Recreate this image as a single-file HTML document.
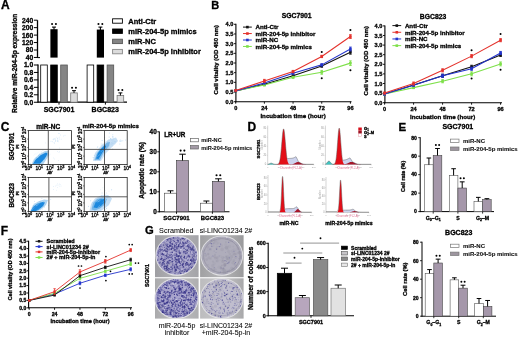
<!DOCTYPE html>
<html><head><meta charset="utf-8"><style>
html,body{margin:0;padding:0;background:#fff;}
svg{display:block;font-family:"Liberation Sans", sans-serif;filter:blur(0.4px);}
text{stroke:#000;stroke-width:0.3px;}
</style></head><body>
<svg width="520" height="338" viewBox="0 0 520 338">
<rect width="520" height="338" fill="#fff"/>
<text x="0.90" y="9.22" font-size="12" font-weight="bold" text-anchor="start" fill="#000" >A</text>
<text transform="translate(16.88,63.30) rotate(-90)" font-size="6.6" font-weight="bold" text-anchor="middle" fill="#000" >Relative miR-204-5p expression</text>
<line x1="37.50" y1="20.20" x2="37.50" y2="57.90" stroke="#000" stroke-width="1.3" />
<line x1="33.90" y1="20.20" x2="37.50" y2="20.20" stroke="#000" stroke-width="1" />
<text x="33.20" y="22.61" font-size="6.7" font-weight="bold" text-anchor="end" fill="#000" >240</text>
<line x1="33.90" y1="27.65" x2="37.50" y2="27.65" stroke="#000" stroke-width="1" />
<text x="33.20" y="30.06" font-size="6.7" font-weight="bold" text-anchor="end" fill="#000" >200</text>
<line x1="33.90" y1="35.10" x2="37.50" y2="35.10" stroke="#000" stroke-width="1" />
<text x="33.20" y="37.51" font-size="6.7" font-weight="bold" text-anchor="end" fill="#000" >160</text>
<line x1="33.90" y1="42.55" x2="37.50" y2="42.55" stroke="#000" stroke-width="1" />
<text x="33.20" y="44.96" font-size="6.7" font-weight="bold" text-anchor="end" fill="#000" >120</text>
<line x1="33.90" y1="50.00" x2="37.50" y2="50.00" stroke="#000" stroke-width="1" />
<text x="33.20" y="52.41" font-size="6.7" font-weight="bold" text-anchor="end" fill="#000" >80</text>
<line x1="33.90" y1="57.45" x2="37.50" y2="57.45" stroke="#000" stroke-width="1" />
<text x="33.20" y="59.86" font-size="6.7" font-weight="bold" text-anchor="end" fill="#000" >40</text>
<line x1="37.50" y1="57.60" x2="40.00" y2="57.60" stroke="#000" stroke-width="1" />
<line x1="38.00" y1="64.60" x2="38.00" y2="102.60" stroke="#000" stroke-width="1.3" />
<line x1="33.90" y1="65.00" x2="38.20" y2="65.00" stroke="#000" stroke-width="1" />
<text x="33.20" y="67.41" font-size="6.7" font-weight="bold" text-anchor="end" fill="#000" >1.0</text>
<line x1="33.90" y1="72.45" x2="38.20" y2="72.45" stroke="#000" stroke-width="1" />
<text x="33.20" y="74.86" font-size="6.7" font-weight="bold" text-anchor="end" fill="#000" >0.8</text>
<line x1="33.90" y1="79.90" x2="38.20" y2="79.90" stroke="#000" stroke-width="1" />
<text x="33.20" y="82.31" font-size="6.7" font-weight="bold" text-anchor="end" fill="#000" >0.6</text>
<line x1="33.90" y1="87.35" x2="38.20" y2="87.35" stroke="#000" stroke-width="1" />
<text x="33.20" y="89.76" font-size="6.7" font-weight="bold" text-anchor="end" fill="#000" >0.4</text>
<line x1="33.90" y1="94.80" x2="38.20" y2="94.80" stroke="#000" stroke-width="1" />
<text x="33.20" y="97.21" font-size="6.7" font-weight="bold" text-anchor="end" fill="#000" >0.2</text>
<line x1="33.90" y1="102.25" x2="38.20" y2="102.25" stroke="#000" stroke-width="1" />
<text x="33.20" y="104.66" font-size="6.7" font-weight="bold" text-anchor="end" fill="#000" >0.0</text>
<line x1="37.70" y1="102.20" x2="127.00" y2="102.20" stroke="#000" stroke-width="1.3" />
<line x1="59.00" y1="102.20" x2="59.00" y2="104.60" stroke="#000" stroke-width="1" />
<rect x="40.70" y="65.00" width="6.60" height="37.20" fill="#fff" stroke="#000" stroke-width="0.8" />
<rect x="50.70" y="65.00" width="6.60" height="37.20" fill="#000" stroke="#000" stroke-width="0.8" />
<rect x="50.40" y="29.20" width="7.20" height="28.40" fill="#000" />
<line x1="54.00" y1="29.70" x2="54.00" y2="27.10" stroke="#000" stroke-width="1.1" />
<line x1="52.05" y1="27.10" x2="55.95" y2="27.10" stroke="#000" stroke-width="1.1" />
<circle cx="52.08" cy="23.90" r="1.02" fill="#000"/>
<circle cx="55.92" cy="23.90" r="1.02" fill="#000"/>
<rect x="60.70" y="65.00" width="6.60" height="37.20" fill="#858585" stroke="#555" stroke-width="0.8" />
<rect x="70.70" y="92.90" width="6.60" height="9.30" fill="#dcdcdc" stroke="#777" stroke-width="0.8" />
<line x1="74.00" y1="92.90" x2="74.00" y2="90.67" stroke="#000" stroke-width="1.0" />
<line x1="72.05" y1="90.67" x2="75.95" y2="90.67" stroke="#000" stroke-width="1.0" />
<circle cx="72.08" cy="87.67" r="1.02" fill="#000"/>
<circle cx="75.92" cy="87.67" r="1.02" fill="#000"/>
<line x1="105.40" y1="102.20" x2="105.40" y2="104.60" stroke="#000" stroke-width="1" />
<rect x="87.10" y="65.00" width="6.60" height="37.20" fill="#fff" stroke="#000" stroke-width="0.8" />
<rect x="97.10" y="65.00" width="6.60" height="37.20" fill="#000" stroke="#000" stroke-width="0.8" />
<rect x="96.80" y="29.57" width="7.20" height="28.03" fill="#000" />
<line x1="100.40" y1="30.07" x2="100.40" y2="27.10" stroke="#000" stroke-width="1.1" />
<line x1="98.45" y1="27.10" x2="102.35" y2="27.10" stroke="#000" stroke-width="1.1" />
<circle cx="98.48" cy="23.90" r="1.02" fill="#000"/>
<circle cx="102.33" cy="23.90" r="1.02" fill="#000"/>
<rect x="107.10" y="65.00" width="6.60" height="37.20" fill="#858585" stroke="#555" stroke-width="0.8" />
<rect x="117.10" y="95.50" width="6.60" height="6.70" fill="#dcdcdc" stroke="#777" stroke-width="0.8" />
<line x1="120.40" y1="95.50" x2="120.40" y2="92.90" stroke="#000" stroke-width="1.0" />
<line x1="118.45" y1="92.90" x2="122.35" y2="92.90" stroke="#000" stroke-width="1.0" />
<circle cx="118.48" cy="89.90" r="1.02" fill="#000"/>
<circle cx="122.33" cy="89.90" r="1.02" fill="#000"/>
<text x="59.00" y="111.52" font-size="7.0" font-weight="bold" text-anchor="middle" fill="#000" >SGC7901</text>
<text x="105.20" y="111.52" font-size="7.0" font-weight="bold" text-anchor="middle" fill="#000" >BGC823</text>
<rect x="112.60" y="18.80" width="9.80" height="4.40" fill="#fff" stroke="#000" stroke-width="0.9" />
<text x="128.30" y="23.70" font-size="7.5" font-weight="bold" text-anchor="start" fill="#000" >Anti-Ctr</text>
<rect x="112.60" y="29.00" width="9.80" height="4.40" fill="#000" stroke="#000" stroke-width="0.9" />
<text x="128.30" y="33.90" font-size="7.5" font-weight="bold" text-anchor="start" fill="#000" >miR-204-5p mimics</text>
<rect x="112.60" y="39.20" width="9.80" height="4.40" fill="#858585" stroke="#555" stroke-width="0.9" />
<text x="128.30" y="44.10" font-size="7.5" font-weight="bold" text-anchor="start" fill="#000" >miR-NC</text>
<rect x="112.60" y="49.40" width="9.80" height="4.40" fill="#dcdcdc" stroke="#888" stroke-width="0.9" />
<text x="128.30" y="54.30" font-size="7.5" font-weight="bold" text-anchor="start" fill="#000" >miR-204-5p inhibitor</text>
<text x="211.20" y="9.16" font-size="11" font-weight="bold" text-anchor="start" fill="#000" >B</text>
<line x1="235.90" y1="23.80" x2="235.90" y2="102.20" stroke="#000" stroke-width="1.1" />
<line x1="233.90" y1="101.70" x2="235.90" y2="101.70" stroke="#000" stroke-width="0.9" />
<text x="233.30" y="103.72" font-size="5.6" font-weight="bold" text-anchor="end" fill="#000" >0.0</text>
<line x1="233.90" y1="92.03" x2="235.90" y2="92.03" stroke="#000" stroke-width="0.9" />
<text x="233.30" y="94.04" font-size="5.6" font-weight="bold" text-anchor="end" fill="#000" >0.5</text>
<line x1="233.90" y1="82.35" x2="235.90" y2="82.35" stroke="#000" stroke-width="0.9" />
<text x="233.30" y="84.37" font-size="5.6" font-weight="bold" text-anchor="end" fill="#000" >1.0</text>
<line x1="233.90" y1="72.67" x2="235.90" y2="72.67" stroke="#000" stroke-width="0.9" />
<text x="233.30" y="74.69" font-size="5.6" font-weight="bold" text-anchor="end" fill="#000" >1.5</text>
<line x1="233.90" y1="63.00" x2="235.90" y2="63.00" stroke="#000" stroke-width="0.9" />
<text x="233.30" y="65.02" font-size="5.6" font-weight="bold" text-anchor="end" fill="#000" >2.0</text>
<line x1="233.90" y1="53.33" x2="235.90" y2="53.33" stroke="#000" stroke-width="0.9" />
<text x="233.30" y="55.34" font-size="5.6" font-weight="bold" text-anchor="end" fill="#000" >2.5</text>
<line x1="233.90" y1="43.65" x2="235.90" y2="43.65" stroke="#000" stroke-width="0.9" />
<text x="233.30" y="45.67" font-size="5.6" font-weight="bold" text-anchor="end" fill="#000" >3.0</text>
<line x1="233.90" y1="33.97" x2="235.90" y2="33.97" stroke="#000" stroke-width="0.9" />
<text x="233.30" y="35.99" font-size="5.6" font-weight="bold" text-anchor="end" fill="#000" >3.5</text>
<line x1="233.90" y1="24.30" x2="235.90" y2="24.30" stroke="#000" stroke-width="0.9" />
<text x="233.30" y="26.32" font-size="5.6" font-weight="bold" text-anchor="end" fill="#000" >4.0</text>
<line x1="235.40" y1="101.70" x2="351.50" y2="101.70" stroke="#000" stroke-width="1.1" />
<line x1="235.70" y1="101.70" x2="235.70" y2="103.70" stroke="#000" stroke-width="0.9" />
<text x="235.70" y="109.92" font-size="5.6" font-weight="bold" text-anchor="middle" fill="#000" >0</text>
<line x1="264.38" y1="101.70" x2="264.38" y2="103.70" stroke="#000" stroke-width="0.9" />
<text x="264.38" y="109.92" font-size="5.6" font-weight="bold" text-anchor="middle" fill="#000" >24</text>
<line x1="293.06" y1="101.70" x2="293.06" y2="103.70" stroke="#000" stroke-width="0.9" />
<text x="293.06" y="109.92" font-size="5.6" font-weight="bold" text-anchor="middle" fill="#000" >48</text>
<line x1="321.74" y1="101.70" x2="321.74" y2="103.70" stroke="#000" stroke-width="0.9" />
<text x="321.74" y="109.92" font-size="5.6" font-weight="bold" text-anchor="middle" fill="#000" >72</text>
<line x1="350.42" y1="101.70" x2="350.42" y2="103.70" stroke="#000" stroke-width="0.9" />
<text x="350.42" y="109.92" font-size="5.6" font-weight="bold" text-anchor="middle" fill="#000" >96</text>
<text x="293.06" y="118.23" font-size="6.2" font-weight="bold" text-anchor="middle" fill="#000" >Incubation time (hour)</text>
<text transform="translate(217.78,59.80) rotate(-90)" font-size="6.05" font-weight="bold" text-anchor="middle" fill="#000" >Cell vitality (OD 450 nm)</text>
<text x="296.70" y="18.35" font-size="6.8" font-weight="bold" text-anchor="middle" fill="#000" >SGC7901</text>
<polyline points="235.70,90.87 264.38,84.17 293.06,75.76 321.74,66.01 350.42,52.24" fill="none" stroke="#111" stroke-width="1.1" />
<line x1="235.70" y1="90.29" x2="235.70" y2="91.44" stroke="#111" stroke-width="0.9" />
<line x1="234.40" y1="90.29" x2="237.00" y2="90.29" stroke="#111" stroke-width="0.9" />
<line x1="234.40" y1="91.44" x2="237.00" y2="91.44" stroke="#111" stroke-width="0.9" />
<rect x="234.40" y="89.57" width="2.60" height="2.60" fill="#111" />
<line x1="264.38" y1="83.22" x2="264.38" y2="85.13" stroke="#111" stroke-width="0.9" />
<line x1="263.08" y1="83.22" x2="265.68" y2="83.22" stroke="#111" stroke-width="0.9" />
<line x1="263.08" y1="85.13" x2="265.68" y2="85.13" stroke="#111" stroke-width="0.9" />
<rect x="263.08" y="82.87" width="2.60" height="2.60" fill="#111" />
<line x1="293.06" y1="74.81" x2="293.06" y2="76.72" stroke="#111" stroke-width="0.9" />
<line x1="291.76" y1="74.81" x2="294.36" y2="74.81" stroke="#111" stroke-width="0.9" />
<line x1="291.76" y1="76.72" x2="294.36" y2="76.72" stroke="#111" stroke-width="0.9" />
<rect x="291.76" y="74.46" width="2.60" height="2.60" fill="#111" />
<line x1="321.74" y1="64.86" x2="321.74" y2="67.16" stroke="#111" stroke-width="0.9" />
<line x1="320.44" y1="64.86" x2="323.04" y2="64.86" stroke="#111" stroke-width="0.9" />
<line x1="320.44" y1="67.16" x2="323.04" y2="67.16" stroke="#111" stroke-width="0.9" />
<rect x="320.44" y="64.71" width="2.60" height="2.60" fill="#111" />
<line x1="350.42" y1="50.33" x2="350.42" y2="54.16" stroke="#111" stroke-width="0.9" />
<line x1="349.12" y1="50.33" x2="351.72" y2="50.33" stroke="#111" stroke-width="0.9" />
<line x1="349.12" y1="54.16" x2="351.72" y2="54.16" stroke="#111" stroke-width="0.9" />
<rect x="349.12" y="50.94" width="2.60" height="2.60" fill="#111" />
<polyline points="235.70,90.87 264.38,84.94 293.06,77.29 321.74,72.32 350.42,63.14" fill="none" stroke="#7ee04a" stroke-width="1.1" />
<line x1="235.70" y1="90.29" x2="235.70" y2="91.44" stroke="#7ee04a" stroke-width="0.9" />
<line x1="234.40" y1="90.29" x2="237.00" y2="90.29" stroke="#7ee04a" stroke-width="0.9" />
<line x1="234.40" y1="91.44" x2="237.00" y2="91.44" stroke="#7ee04a" stroke-width="0.9" />
<rect x="234.40" y="89.57" width="2.60" height="2.60" fill="#7ee04a" />
<line x1="264.38" y1="83.98" x2="264.38" y2="85.90" stroke="#7ee04a" stroke-width="0.9" />
<line x1="263.08" y1="83.98" x2="265.68" y2="83.98" stroke="#7ee04a" stroke-width="0.9" />
<line x1="263.08" y1="85.90" x2="265.68" y2="85.90" stroke="#7ee04a" stroke-width="0.9" />
<rect x="263.08" y="83.64" width="2.60" height="2.60" fill="#7ee04a" />
<line x1="293.06" y1="76.34" x2="293.06" y2="78.25" stroke="#7ee04a" stroke-width="0.9" />
<line x1="291.76" y1="76.34" x2="294.36" y2="76.34" stroke="#7ee04a" stroke-width="0.9" />
<line x1="291.76" y1="78.25" x2="294.36" y2="78.25" stroke="#7ee04a" stroke-width="0.9" />
<rect x="291.76" y="75.99" width="2.60" height="2.60" fill="#7ee04a" />
<line x1="321.74" y1="70.41" x2="321.74" y2="74.23" stroke="#7ee04a" stroke-width="0.9" />
<line x1="320.44" y1="70.41" x2="323.04" y2="70.41" stroke="#7ee04a" stroke-width="0.9" />
<line x1="320.44" y1="74.23" x2="323.04" y2="74.23" stroke="#7ee04a" stroke-width="0.9" />
<rect x="320.44" y="71.02" width="2.60" height="2.60" fill="#7ee04a" />
<line x1="350.42" y1="60.85" x2="350.42" y2="65.44" stroke="#7ee04a" stroke-width="0.9" />
<line x1="349.12" y1="60.85" x2="351.72" y2="60.85" stroke="#7ee04a" stroke-width="0.9" />
<line x1="349.12" y1="65.44" x2="351.72" y2="65.44" stroke="#7ee04a" stroke-width="0.9" />
<rect x="349.12" y="61.84" width="2.60" height="2.60" fill="#7ee04a" />
<polyline points="235.70,90.87 264.38,83.03 293.06,73.28 321.74,64.86 350.42,48.99" fill="none" stroke="#2233cc" stroke-width="1.1" />
<line x1="235.70" y1="90.29" x2="235.70" y2="91.44" stroke="#2233cc" stroke-width="0.9" />
<line x1="234.40" y1="90.29" x2="237.00" y2="90.29" stroke="#2233cc" stroke-width="0.9" />
<line x1="234.40" y1="91.44" x2="237.00" y2="91.44" stroke="#2233cc" stroke-width="0.9" />
<rect x="234.40" y="89.57" width="2.60" height="2.60" fill="#2233cc" />
<line x1="264.38" y1="82.07" x2="264.38" y2="83.98" stroke="#2233cc" stroke-width="0.9" />
<line x1="263.08" y1="82.07" x2="265.68" y2="82.07" stroke="#2233cc" stroke-width="0.9" />
<line x1="263.08" y1="83.98" x2="265.68" y2="83.98" stroke="#2233cc" stroke-width="0.9" />
<rect x="263.08" y="81.73" width="2.60" height="2.60" fill="#2233cc" />
<line x1="293.06" y1="72.32" x2="293.06" y2="74.23" stroke="#2233cc" stroke-width="0.9" />
<line x1="291.76" y1="72.32" x2="294.36" y2="72.32" stroke="#2233cc" stroke-width="0.9" />
<line x1="291.76" y1="74.23" x2="294.36" y2="74.23" stroke="#2233cc" stroke-width="0.9" />
<rect x="291.76" y="71.98" width="2.60" height="2.60" fill="#2233cc" />
<line x1="321.74" y1="63.72" x2="321.74" y2="66.01" stroke="#2233cc" stroke-width="0.9" />
<line x1="320.44" y1="63.72" x2="323.04" y2="63.72" stroke="#2233cc" stroke-width="0.9" />
<line x1="320.44" y1="66.01" x2="323.04" y2="66.01" stroke="#2233cc" stroke-width="0.9" />
<rect x="320.44" y="63.56" width="2.60" height="2.60" fill="#2233cc" />
<line x1="350.42" y1="47.08" x2="350.42" y2="50.91" stroke="#2233cc" stroke-width="0.9" />
<line x1="349.12" y1="47.08" x2="351.72" y2="47.08" stroke="#2233cc" stroke-width="0.9" />
<line x1="349.12" y1="50.91" x2="351.72" y2="50.91" stroke="#2233cc" stroke-width="0.9" />
<rect x="349.12" y="47.69" width="2.60" height="2.60" fill="#2233cc" />
<polyline points="235.70,90.48 264.38,80.92 293.06,71.56 321.74,56.45 350.42,36.57" fill="none" stroke="#e4322c" stroke-width="1.1" />
<line x1="235.70" y1="89.91" x2="235.70" y2="91.06" stroke="#e4322c" stroke-width="0.9" />
<line x1="234.40" y1="89.91" x2="237.00" y2="89.91" stroke="#e4322c" stroke-width="0.9" />
<line x1="234.40" y1="91.06" x2="237.00" y2="91.06" stroke="#e4322c" stroke-width="0.9" />
<rect x="234.40" y="89.18" width="2.60" height="2.60" fill="#e4322c" />
<line x1="264.38" y1="79.39" x2="264.38" y2="82.45" stroke="#e4322c" stroke-width="0.9" />
<line x1="263.08" y1="79.39" x2="265.68" y2="79.39" stroke="#e4322c" stroke-width="0.9" />
<line x1="263.08" y1="82.45" x2="265.68" y2="82.45" stroke="#e4322c" stroke-width="0.9" />
<rect x="263.08" y="79.62" width="2.60" height="2.60" fill="#e4322c" />
<line x1="293.06" y1="70.41" x2="293.06" y2="72.70" stroke="#e4322c" stroke-width="0.9" />
<line x1="291.76" y1="70.41" x2="294.36" y2="70.41" stroke="#e4322c" stroke-width="0.9" />
<line x1="291.76" y1="72.70" x2="294.36" y2="72.70" stroke="#e4322c" stroke-width="0.9" />
<rect x="291.76" y="70.26" width="2.60" height="2.60" fill="#e4322c" />
<line x1="321.74" y1="55.30" x2="321.74" y2="57.60" stroke="#e4322c" stroke-width="0.9" />
<line x1="320.44" y1="55.30" x2="323.04" y2="55.30" stroke="#e4322c" stroke-width="0.9" />
<line x1="320.44" y1="57.60" x2="323.04" y2="57.60" stroke="#e4322c" stroke-width="0.9" />
<rect x="320.44" y="55.15" width="2.60" height="2.60" fill="#e4322c" />
<line x1="350.42" y1="34.65" x2="350.42" y2="38.48" stroke="#e4322c" stroke-width="0.9" />
<line x1="349.12" y1="34.65" x2="351.72" y2="34.65" stroke="#e4322c" stroke-width="0.9" />
<line x1="349.12" y1="38.48" x2="351.72" y2="38.48" stroke="#e4322c" stroke-width="0.9" />
<rect x="349.12" y="35.27" width="2.60" height="2.60" fill="#e4322c" />
<circle cx="321.74" cy="51.90" r="1.02" fill="#000"/>
<circle cx="321.74" cy="78.30" r="1.02" fill="#000"/>
<circle cx="350.42" cy="30.00" r="1.02" fill="#000"/>
<circle cx="350.42" cy="70.30" r="1.02" fill="#000"/>
<line x1="243.00" y1="27.10" x2="251.80" y2="27.10" stroke="#111" stroke-width="1" />
<rect x="246.10" y="25.80" width="2.60" height="2.60" fill="#111" />
<text x="255.50" y="29.33" font-size="6.2" font-weight="bold" text-anchor="start" fill="#000" >Anti-Ctr</text>
<line x1="243.00" y1="33.55" x2="251.80" y2="33.55" stroke="#e4322c" stroke-width="1" />
<rect x="246.10" y="32.25" width="2.60" height="2.60" fill="#e4322c" />
<text x="255.50" y="35.78" font-size="6.2" font-weight="bold" text-anchor="start" fill="#000" >miR-204-5p inhibitor</text>
<line x1="243.00" y1="40.00" x2="251.80" y2="40.00" stroke="#2233cc" stroke-width="1" />
<rect x="246.10" y="38.70" width="2.60" height="2.60" fill="#2233cc" />
<text x="255.50" y="42.23" font-size="6.2" font-weight="bold" text-anchor="start" fill="#000" >miR-NC</text>
<line x1="243.00" y1="46.45" x2="251.80" y2="46.45" stroke="#7ee04a" stroke-width="1" />
<rect x="246.10" y="45.15" width="2.60" height="2.60" fill="#7ee04a" />
<text x="255.50" y="48.68" font-size="6.2" font-weight="bold" text-anchor="start" fill="#000" >miR-204-5p mimics</text>
<line x1="384.90" y1="25.40" x2="384.90" y2="103.20" stroke="#000" stroke-width="1.1" />
<line x1="382.90" y1="102.70" x2="384.90" y2="102.70" stroke="#000" stroke-width="0.9" />
<text x="382.30" y="104.72" font-size="5.6" font-weight="bold" text-anchor="end" fill="#000" >0.0</text>
<line x1="382.90" y1="93.10" x2="384.90" y2="93.10" stroke="#000" stroke-width="0.9" />
<text x="382.30" y="95.12" font-size="5.6" font-weight="bold" text-anchor="end" fill="#000" >0.5</text>
<line x1="382.90" y1="83.50" x2="384.90" y2="83.50" stroke="#000" stroke-width="0.9" />
<text x="382.30" y="85.52" font-size="5.6" font-weight="bold" text-anchor="end" fill="#000" >1.0</text>
<line x1="382.90" y1="73.90" x2="384.90" y2="73.90" stroke="#000" stroke-width="0.9" />
<text x="382.30" y="75.92" font-size="5.6" font-weight="bold" text-anchor="end" fill="#000" >1.5</text>
<line x1="382.90" y1="64.30" x2="384.90" y2="64.30" stroke="#000" stroke-width="0.9" />
<text x="382.30" y="66.32" font-size="5.6" font-weight="bold" text-anchor="end" fill="#000" >2.0</text>
<line x1="382.90" y1="54.70" x2="384.90" y2="54.70" stroke="#000" stroke-width="0.9" />
<text x="382.30" y="56.72" font-size="5.6" font-weight="bold" text-anchor="end" fill="#000" >2.5</text>
<line x1="382.90" y1="45.10" x2="384.90" y2="45.10" stroke="#000" stroke-width="0.9" />
<text x="382.30" y="47.12" font-size="5.6" font-weight="bold" text-anchor="end" fill="#000" >3.0</text>
<line x1="382.90" y1="35.50" x2="384.90" y2="35.50" stroke="#000" stroke-width="0.9" />
<text x="382.30" y="37.52" font-size="5.6" font-weight="bold" text-anchor="end" fill="#000" >3.5</text>
<line x1="382.90" y1="25.90" x2="384.90" y2="25.90" stroke="#000" stroke-width="0.9" />
<text x="382.30" y="27.92" font-size="5.6" font-weight="bold" text-anchor="end" fill="#000" >4.0</text>
<line x1="384.40" y1="102.70" x2="502.00" y2="102.70" stroke="#000" stroke-width="1.1" />
<line x1="384.60" y1="102.70" x2="384.60" y2="104.70" stroke="#000" stroke-width="0.9" />
<text x="384.60" y="110.92" font-size="5.6" font-weight="bold" text-anchor="middle" fill="#000" >0</text>
<line x1="413.59" y1="102.70" x2="413.59" y2="104.70" stroke="#000" stroke-width="0.9" />
<text x="413.59" y="110.92" font-size="5.6" font-weight="bold" text-anchor="middle" fill="#000" >24</text>
<line x1="442.58" y1="102.70" x2="442.58" y2="104.70" stroke="#000" stroke-width="0.9" />
<text x="442.58" y="110.92" font-size="5.6" font-weight="bold" text-anchor="middle" fill="#000" >48</text>
<line x1="471.58" y1="102.70" x2="471.58" y2="104.70" stroke="#000" stroke-width="0.9" />
<text x="471.58" y="110.92" font-size="5.6" font-weight="bold" text-anchor="middle" fill="#000" >72</text>
<line x1="500.57" y1="102.70" x2="500.57" y2="104.70" stroke="#000" stroke-width="0.9" />
<text x="500.57" y="110.92" font-size="5.6" font-weight="bold" text-anchor="middle" fill="#000" >96</text>
<text x="442.58" y="118.83" font-size="6.2" font-weight="bold" text-anchor="middle" fill="#000" >Incubation time (hour)</text>
<text transform="translate(367.78,60.80) rotate(-90)" font-size="6.05" font-weight="bold" text-anchor="middle" fill="#000" >Cell vitality (OD 450 nm)</text>
<text x="433.10" y="18.95" font-size="6.8" font-weight="bold" text-anchor="middle" fill="#000" >BGC823</text>
<polyline points="384.60,94.05 413.59,84.91 442.58,75.76 471.58,66.82 500.57,54.95" fill="none" stroke="#111" stroke-width="1.1" />
<line x1="384.60" y1="93.08" x2="384.60" y2="95.02" stroke="#111" stroke-width="0.9" />
<line x1="383.30" y1="93.08" x2="385.90" y2="93.08" stroke="#111" stroke-width="0.9" />
<line x1="383.30" y1="95.02" x2="385.90" y2="95.02" stroke="#111" stroke-width="0.9" />
<rect x="383.30" y="92.75" width="2.60" height="2.60" fill="#111" />
<line x1="413.59" y1="83.93" x2="413.59" y2="85.88" stroke="#111" stroke-width="0.9" />
<line x1="412.29" y1="83.93" x2="414.89" y2="83.93" stroke="#111" stroke-width="0.9" />
<line x1="412.29" y1="85.88" x2="414.89" y2="85.88" stroke="#111" stroke-width="0.9" />
<rect x="412.29" y="83.61" width="2.60" height="2.60" fill="#111" />
<line x1="442.58" y1="74.21" x2="442.58" y2="77.32" stroke="#111" stroke-width="0.9" />
<line x1="441.28" y1="74.21" x2="443.88" y2="74.21" stroke="#111" stroke-width="0.9" />
<line x1="441.28" y1="77.32" x2="443.88" y2="77.32" stroke="#111" stroke-width="0.9" />
<rect x="441.28" y="74.46" width="2.60" height="2.60" fill="#111" />
<line x1="471.58" y1="65.26" x2="471.58" y2="68.37" stroke="#111" stroke-width="0.9" />
<line x1="470.28" y1="65.26" x2="472.88" y2="65.26" stroke="#111" stroke-width="0.9" />
<line x1="470.28" y1="68.37" x2="472.88" y2="68.37" stroke="#111" stroke-width="0.9" />
<rect x="470.28" y="65.52" width="2.60" height="2.60" fill="#111" />
<line x1="500.57" y1="53.40" x2="500.57" y2="56.51" stroke="#111" stroke-width="0.9" />
<line x1="499.27" y1="53.40" x2="501.87" y2="53.40" stroke="#111" stroke-width="0.9" />
<line x1="499.27" y1="56.51" x2="501.87" y2="56.51" stroke="#111" stroke-width="0.9" />
<rect x="499.27" y="53.65" width="2.60" height="2.60" fill="#111" />
<polyline points="384.60,94.05 413.59,87.63 442.58,81.21 471.58,73.82 500.57,63.90" fill="none" stroke="#7ee04a" stroke-width="1.1" />
<line x1="384.60" y1="93.08" x2="384.60" y2="95.02" stroke="#7ee04a" stroke-width="0.9" />
<line x1="383.30" y1="93.08" x2="385.90" y2="93.08" stroke="#7ee04a" stroke-width="0.9" />
<line x1="383.30" y1="95.02" x2="385.90" y2="95.02" stroke="#7ee04a" stroke-width="0.9" />
<rect x="383.30" y="92.75" width="2.60" height="2.60" fill="#7ee04a" />
<line x1="413.59" y1="86.66" x2="413.59" y2="88.60" stroke="#7ee04a" stroke-width="0.9" />
<line x1="412.29" y1="86.66" x2="414.89" y2="86.66" stroke="#7ee04a" stroke-width="0.9" />
<line x1="412.29" y1="88.60" x2="414.89" y2="88.60" stroke="#7ee04a" stroke-width="0.9" />
<rect x="412.29" y="86.33" width="2.60" height="2.60" fill="#7ee04a" />
<line x1="442.58" y1="79.65" x2="442.58" y2="82.77" stroke="#7ee04a" stroke-width="0.9" />
<line x1="441.28" y1="79.65" x2="443.88" y2="79.65" stroke="#7ee04a" stroke-width="0.9" />
<line x1="441.28" y1="82.77" x2="443.88" y2="82.77" stroke="#7ee04a" stroke-width="0.9" />
<rect x="441.28" y="79.91" width="2.60" height="2.60" fill="#7ee04a" />
<line x1="471.58" y1="71.87" x2="471.58" y2="75.76" stroke="#7ee04a" stroke-width="0.9" />
<line x1="470.28" y1="71.87" x2="472.88" y2="71.87" stroke="#7ee04a" stroke-width="0.9" />
<line x1="470.28" y1="75.76" x2="472.88" y2="75.76" stroke="#7ee04a" stroke-width="0.9" />
<rect x="470.28" y="72.52" width="2.60" height="2.60" fill="#7ee04a" />
<line x1="500.57" y1="61.95" x2="500.57" y2="65.84" stroke="#7ee04a" stroke-width="0.9" />
<line x1="499.27" y1="61.95" x2="501.87" y2="61.95" stroke="#7ee04a" stroke-width="0.9" />
<line x1="499.27" y1="65.84" x2="501.87" y2="65.84" stroke="#7ee04a" stroke-width="0.9" />
<rect x="499.27" y="62.60" width="2.60" height="2.60" fill="#7ee04a" />
<polyline points="384.60,94.05 413.59,85.30 442.58,75.76 471.58,68.76 500.57,53.01" fill="none" stroke="#2233cc" stroke-width="1.1" />
<line x1="384.60" y1="93.08" x2="384.60" y2="95.02" stroke="#2233cc" stroke-width="0.9" />
<line x1="383.30" y1="93.08" x2="385.90" y2="93.08" stroke="#2233cc" stroke-width="0.9" />
<line x1="383.30" y1="95.02" x2="385.90" y2="95.02" stroke="#2233cc" stroke-width="0.9" />
<rect x="383.30" y="92.75" width="2.60" height="2.60" fill="#2233cc" />
<line x1="413.59" y1="84.32" x2="413.59" y2="86.27" stroke="#2233cc" stroke-width="0.9" />
<line x1="412.29" y1="84.32" x2="414.89" y2="84.32" stroke="#2233cc" stroke-width="0.9" />
<line x1="412.29" y1="86.27" x2="414.89" y2="86.27" stroke="#2233cc" stroke-width="0.9" />
<rect x="412.29" y="84.00" width="2.60" height="2.60" fill="#2233cc" />
<line x1="442.58" y1="74.21" x2="442.58" y2="77.32" stroke="#2233cc" stroke-width="0.9" />
<line x1="441.28" y1="74.21" x2="443.88" y2="74.21" stroke="#2233cc" stroke-width="0.9" />
<line x1="441.28" y1="77.32" x2="443.88" y2="77.32" stroke="#2233cc" stroke-width="0.9" />
<rect x="441.28" y="74.46" width="2.60" height="2.60" fill="#2233cc" />
<line x1="471.58" y1="67.21" x2="471.58" y2="70.32" stroke="#2233cc" stroke-width="0.9" />
<line x1="470.28" y1="67.21" x2="472.88" y2="67.21" stroke="#2233cc" stroke-width="0.9" />
<line x1="470.28" y1="70.32" x2="472.88" y2="70.32" stroke="#2233cc" stroke-width="0.9" />
<rect x="470.28" y="67.46" width="2.60" height="2.60" fill="#2233cc" />
<line x1="500.57" y1="51.45" x2="500.57" y2="54.56" stroke="#2233cc" stroke-width="0.9" />
<line x1="499.27" y1="51.45" x2="501.87" y2="51.45" stroke="#2233cc" stroke-width="0.9" />
<line x1="499.27" y1="54.56" x2="501.87" y2="54.56" stroke="#2233cc" stroke-width="0.9" />
<rect x="499.27" y="51.71" width="2.60" height="2.60" fill="#2233cc" />
<polyline points="384.60,93.08 413.59,83.54 442.58,70.32 471.58,56.12 500.57,40.17" fill="none" stroke="#e4322c" stroke-width="1.1" />
<line x1="384.60" y1="92.10" x2="384.60" y2="94.05" stroke="#e4322c" stroke-width="0.9" />
<line x1="383.30" y1="92.10" x2="385.90" y2="92.10" stroke="#e4322c" stroke-width="0.9" />
<line x1="383.30" y1="94.05" x2="385.90" y2="94.05" stroke="#e4322c" stroke-width="0.9" />
<rect x="383.30" y="91.78" width="2.60" height="2.60" fill="#e4322c" />
<line x1="413.59" y1="81.99" x2="413.59" y2="85.10" stroke="#e4322c" stroke-width="0.9" />
<line x1="412.29" y1="81.99" x2="414.89" y2="81.99" stroke="#e4322c" stroke-width="0.9" />
<line x1="412.29" y1="85.10" x2="414.89" y2="85.10" stroke="#e4322c" stroke-width="0.9" />
<rect x="412.29" y="82.24" width="2.60" height="2.60" fill="#e4322c" />
<line x1="442.58" y1="68.76" x2="442.58" y2="71.87" stroke="#e4322c" stroke-width="0.9" />
<line x1="441.28" y1="68.76" x2="443.88" y2="68.76" stroke="#e4322c" stroke-width="0.9" />
<line x1="441.28" y1="71.87" x2="443.88" y2="71.87" stroke="#e4322c" stroke-width="0.9" />
<rect x="441.28" y="69.02" width="2.60" height="2.60" fill="#e4322c" />
<line x1="471.58" y1="54.56" x2="471.58" y2="57.68" stroke="#e4322c" stroke-width="0.9" />
<line x1="470.28" y1="54.56" x2="472.88" y2="54.56" stroke="#e4322c" stroke-width="0.9" />
<line x1="470.28" y1="57.68" x2="472.88" y2="57.68" stroke="#e4322c" stroke-width="0.9" />
<rect x="470.28" y="54.82" width="2.60" height="2.60" fill="#e4322c" />
<line x1="500.57" y1="38.61" x2="500.57" y2="41.73" stroke="#e4322c" stroke-width="0.9" />
<line x1="499.27" y1="38.61" x2="501.87" y2="38.61" stroke="#e4322c" stroke-width="0.9" />
<line x1="499.27" y1="41.73" x2="501.87" y2="41.73" stroke="#e4322c" stroke-width="0.9" />
<rect x="499.27" y="38.87" width="2.60" height="2.60" fill="#e4322c" />
<circle cx="471.58" cy="50.20" r="1.02" fill="#000"/>
<circle cx="471.58" cy="78.60" r="1.02" fill="#000"/>
<circle cx="500.57" cy="33.90" r="1.02" fill="#000"/>
<circle cx="500.57" cy="69.70" r="1.02" fill="#000"/>
<line x1="392.40" y1="25.60" x2="401.20" y2="25.60" stroke="#111" stroke-width="1" />
<rect x="395.50" y="24.30" width="2.60" height="2.60" fill="#111" />
<text x="404.90" y="27.83" font-size="6.2" font-weight="bold" text-anchor="start" fill="#000" >Anti-Ctr</text>
<line x1="392.40" y1="32.28" x2="401.20" y2="32.28" stroke="#e4322c" stroke-width="1" />
<rect x="395.50" y="30.98" width="2.60" height="2.60" fill="#e4322c" />
<text x="404.90" y="34.51" font-size="6.2" font-weight="bold" text-anchor="start" fill="#000" >miR-204-5p inhibitor</text>
<line x1="392.40" y1="38.96" x2="401.20" y2="38.96" stroke="#2233cc" stroke-width="1" />
<rect x="395.50" y="37.66" width="2.60" height="2.60" fill="#2233cc" />
<text x="404.90" y="41.19" font-size="6.2" font-weight="bold" text-anchor="start" fill="#000" >miR-NC</text>
<line x1="392.40" y1="45.64" x2="401.20" y2="45.64" stroke="#7ee04a" stroke-width="1" />
<rect x="395.50" y="44.34" width="2.60" height="2.60" fill="#7ee04a" />
<text x="404.90" y="47.87" font-size="6.2" font-weight="bold" text-anchor="start" fill="#000" >miR-204-5p mimics</text>
<text x="0.70" y="130.82" font-size="12" font-weight="bold" text-anchor="start" fill="#000" >C</text>
<text x="48.20" y="128.94" font-size="6.5" font-weight="bold" text-anchor="middle" fill="#000" >miR-NC</text>
<text x="110.80" y="128.43" font-size="6.2" font-weight="bold" text-anchor="middle" fill="#000" >miR-204-5p mimics</text>
<text transform="translate(14.47,146.50) rotate(-90)" font-size="6.3" font-weight="bold" text-anchor="middle" fill="#000" >SGC7901</text>
<text transform="translate(13.77,195.30) rotate(-90)" font-size="6.3" font-weight="bold" text-anchor="middle" fill="#000" >BGC823</text>
<filter id="fb" x="-20%" y="-20%" width="140%" height="140%"><feGaussianBlur stdDeviation="0.7"/></filter>
<filter id="fb2" x="-20%" y="-20%" width="140%" height="140%"><feGaussianBlur stdDeviation="0.35"/></filter>
<clipPath id="clip28130"><rect x="28.4" y="130.6" width="43" height="34"/></clipPath>
<g clip-path="url(#clip28130)">
<g fill="#6fb2e8" fill-opacity="0.6">
<circle cx="39.6" cy="160.4" r="0.45"/>
<circle cx="38.5" cy="158.5" r="0.45"/>
<circle cx="35.5" cy="160.9" r="0.45"/>
<circle cx="45.7" cy="156.0" r="0.45"/>
<circle cx="45.1" cy="155.8" r="0.45"/>
<circle cx="42.1" cy="157.7" r="0.45"/>
<circle cx="33.7" cy="165.5" r="0.45"/>
<circle cx="43.0" cy="158.0" r="0.45"/>
<circle cx="29.8" cy="160.0" r="0.45"/>
<circle cx="35.3" cy="160.3" r="0.45"/>
<circle cx="41.3" cy="157.5" r="0.45"/>
<circle cx="41.4" cy="155.5" r="0.45"/>
<circle cx="42.0" cy="158.4" r="0.45"/>
<circle cx="39.5" cy="164.2" r="0.45"/>
<circle cx="44.3" cy="159.3" r="0.45"/>
<circle cx="36.1" cy="158.8" r="0.45"/>
<circle cx="38.3" cy="159.3" r="0.45"/>
<circle cx="43.2" cy="157.1" r="0.45"/>
<circle cx="36.6" cy="157.8" r="0.45"/>
<circle cx="39.4" cy="162.7" r="0.45"/>
<circle cx="36.7" cy="161.5" r="0.45"/>
<circle cx="39.7" cy="154.0" r="0.45"/>
<circle cx="42.1" cy="161.2" r="0.45"/>
<circle cx="30.4" cy="164.1" r="0.45"/>
<circle cx="38.3" cy="157.1" r="0.45"/>
<circle cx="42.2" cy="156.8" r="0.45"/>
<circle cx="34.6" cy="164.8" r="0.45"/>
<circle cx="44.4" cy="158.5" r="0.45"/>
<circle cx="47.1" cy="154.8" r="0.45"/>
<circle cx="38.6" cy="155.3" r="0.45"/>
<circle cx="41.9" cy="155.3" r="0.45"/>
<circle cx="36.1" cy="157.2" r="0.45"/>
<circle cx="34.8" cy="160.4" r="0.45"/>
<circle cx="42.9" cy="150.1" r="0.45"/>
<circle cx="33.7" cy="163.5" r="0.45"/>
<circle cx="47.4" cy="155.3" r="0.45"/>
<circle cx="27.7" cy="159.0" r="0.45"/>
<circle cx="40.5" cy="155.8" r="0.45"/>
<circle cx="36.4" cy="164.1" r="0.45"/>
<circle cx="45.2" cy="155.4" r="0.45"/>
<circle cx="41.8" cy="158.7" r="0.45"/>
<circle cx="48.1" cy="154.9" r="0.45"/>
<circle cx="43.2" cy="158.1" r="0.45"/>
<circle cx="34.8" cy="166.1" r="0.45"/>
<circle cx="45.1" cy="156.7" r="0.45"/>
<circle cx="30.1" cy="163.3" r="0.45"/>
<circle cx="41.2" cy="152.0" r="0.45"/>
<circle cx="40.7" cy="161.3" r="0.45"/>
<circle cx="36.4" cy="166.0" r="0.45"/>
<circle cx="42.3" cy="156.5" r="0.45"/>
</g>
<g fill="#b5d6f2" fill-opacity="0.8">
<circle cx="58.1" cy="140.1" r="0.45"/>
<circle cx="58.1" cy="141.8" r="0.45"/>
<circle cx="53.1" cy="139.2" r="0.45"/>
<circle cx="59.7" cy="137.1" r="0.45"/>
<circle cx="54.3" cy="143.2" r="0.45"/>
<circle cx="60.5" cy="135.0" r="0.45"/>
<circle cx="51.0" cy="141.3" r="0.45"/>
<circle cx="55.0" cy="138.5" r="0.45"/>
<circle cx="59.5" cy="133.6" r="0.45"/>
<circle cx="58.6" cy="133.2" r="0.45"/>
<circle cx="54.1" cy="142.2" r="0.45"/>
<circle cx="61.2" cy="139.1" r="0.45"/>
<circle cx="57.4" cy="138.7" r="0.45"/>
<circle cx="57.4" cy="140.2" r="0.45"/>
<circle cx="55.8" cy="140.1" r="0.45"/>
<circle cx="58.0" cy="137.9" r="0.45"/>
<circle cx="59.5" cy="139.0" r="0.45"/>
<circle cx="63.5" cy="136.0" r="0.45"/>
<circle cx="54.0" cy="138.8" r="0.45"/>
<circle cx="57.3" cy="141.5" r="0.45"/>
<circle cx="55.4" cy="140.7" r="0.45"/>
<circle cx="58.8" cy="128.7" r="0.45"/>
<circle cx="52.4" cy="141.8" r="0.45"/>
<circle cx="57.7" cy="138.9" r="0.45"/>
<circle cx="55.4" cy="141.6" r="0.45"/>
<circle cx="56.2" cy="137.1" r="0.45"/>
<circle cx="65.0" cy="135.3" r="0.45"/>
<circle cx="53.9" cy="139.8" r="0.45"/>
<circle cx="55.1" cy="139.3" r="0.45"/>
<circle cx="45.7" cy="142.9" r="0.45"/>
</g>
<g fill="#b5d6f2" fill-opacity="0.7">
<circle cx="59.0" cy="152.5" r="0.4"/>
<circle cx="54.7" cy="158.9" r="0.4"/>
<circle cx="58.4" cy="160.5" r="0.4"/>
<circle cx="48.2" cy="154.9" r="0.4"/>
<circle cx="53.6" cy="157.9" r="0.4"/>
<circle cx="59.4" cy="148.0" r="0.4"/>
<circle cx="59.4" cy="151.7" r="0.4"/>
<circle cx="57.7" cy="151.5" r="0.4"/>
</g>
<polygon points="31.50,164.50 34.00,159.00 39.00,154.50 45.00,151.00 49.00,150.80 49.00,155.00 46.00,160.00 43.00,164.50" fill="#6fb2e8" stroke="none" stroke-width="0" filter="url(#fb)" fill-opacity="0.55"/>
<polygon points="33.00,163.80 36.00,159.00 41.00,155.00 46.00,152.50 47.50,153.50 46.00,157.00 43.00,160.50 40.00,163.80" fill="#1a88de" stroke="none" stroke-width="0" filter="url(#fb)" fill-opacity="1.0"/>
<g stroke="#cfe6fa" stroke-width="0.45" stroke-opacity="0.55" filter="url(#fb2)">
<line x1="36.29" y1="158.35" x2="39.00" y2="156.79" stroke="#cfe6fa" stroke-width="0.45" />
<line x1="33.41" y1="155.66" x2="35.92" y2="152.77" stroke="#cfe6fa" stroke-width="0.45" />
<line x1="46.87" y1="157.55" x2="50.74" y2="154.08" stroke="#cfe6fa" stroke-width="0.45" />
<line x1="46.85" y1="156.62" x2="49.29" y2="154.67" stroke="#cfe6fa" stroke-width="0.45" />
<line x1="35.85" y1="154.81" x2="39.10" y2="151.51" stroke="#cfe6fa" stroke-width="0.45" />
<line x1="45.19" y1="157.92" x2="48.49" y2="154.82" stroke="#cfe6fa" stroke-width="0.45" />
<line x1="34.23" y1="159.96" x2="38.05" y2="156.90" stroke="#cfe6fa" stroke-width="0.45" />
</g>
</g>
<rect x="28.40" y="130.60" width="43.00" height="34.00" fill="none" stroke="#222" stroke-width="0.8" />
<line x1="48.30" y1="130.60" x2="48.30" y2="164.60" stroke="#333" stroke-width="0.8" />
<line x1="28.40" y1="149.40" x2="71.40" y2="149.40" stroke="#333" stroke-width="0.8" />
<line x1="28.40" y1="164.60" x2="28.40" y2="165.80" stroke="#000" stroke-width="0.5" />
<text x="28.40" y="170.00" font-size="4.9" text-anchor="middle" style="stroke-width:0.3px">10<tspan font-size="3.4" dy="-2.0">0</tspan></text>
<line x1="39.15" y1="164.60" x2="39.15" y2="165.80" stroke="#000" stroke-width="0.5" />
<text x="39.15" y="170.00" font-size="4.9" text-anchor="middle" style="stroke-width:0.3px">10<tspan font-size="3.4" dy="-2.0">1</tspan></text>
<line x1="49.90" y1="164.60" x2="49.90" y2="165.80" stroke="#000" stroke-width="0.5" />
<text x="49.90" y="170.00" font-size="4.9" text-anchor="middle" style="stroke-width:0.3px">10<tspan font-size="3.4" dy="-2.0">2</tspan></text>
<line x1="60.65" y1="164.60" x2="60.65" y2="165.80" stroke="#000" stroke-width="0.5" />
<text x="60.65" y="170.00" font-size="4.9" text-anchor="middle" style="stroke-width:0.3px">10<tspan font-size="3.4" dy="-2.0">3</tspan></text>
<line x1="71.40" y1="164.60" x2="71.40" y2="165.80" stroke="#000" stroke-width="0.5" />
<text x="71.40" y="170.00" font-size="4.9" text-anchor="middle" style="stroke-width:0.3px">10<tspan font-size="3.4" dy="-2.0">4</tspan></text>
<text x="49.90" y="173.97" font-size="3.8" font-weight="bold" text-anchor="middle" fill="#000" font-style="italic">AV</text>
<line x1="27.20" y1="164.60" x2="28.40" y2="164.60" stroke="#000" stroke-width="0.5" />
<text transform="translate(26.00,164.60) rotate(-90)" font-size="4.9" text-anchor="middle" style="stroke-width:0.3px">10<tspan font-size="3.4" dy="-2.0">0</tspan></text>
<line x1="27.20" y1="156.10" x2="28.40" y2="156.10" stroke="#000" stroke-width="0.5" />
<text transform="translate(26.00,156.10) rotate(-90)" font-size="4.9" text-anchor="middle" style="stroke-width:0.3px">10<tspan font-size="3.4" dy="-2.0">1</tspan></text>
<line x1="27.20" y1="147.60" x2="28.40" y2="147.60" stroke="#000" stroke-width="0.5" />
<text transform="translate(26.00,147.60) rotate(-90)" font-size="4.9" text-anchor="middle" style="stroke-width:0.3px">10<tspan font-size="3.4" dy="-2.0">2</tspan></text>
<line x1="27.20" y1="139.10" x2="28.40" y2="139.10" stroke="#000" stroke-width="0.5" />
<text transform="translate(26.00,139.10) rotate(-90)" font-size="4.9" text-anchor="middle" style="stroke-width:0.3px">10<tspan font-size="3.4" dy="-2.0">3</tspan></text>
<line x1="27.20" y1="130.60" x2="28.40" y2="130.60" stroke="#000" stroke-width="0.5" />
<text transform="translate(26.00,130.60) rotate(-90)" font-size="4.9" text-anchor="middle" style="stroke-width:0.3px">10<tspan font-size="3.4" dy="-2.0">4</tspan></text>
<text transform="translate(19.20,146.60) rotate(-90)" font-size="4.0" font-weight="bold" text-anchor="middle">PI</text>
<clipPath id="clip84130"><rect x="84.2" y="130.6" width="43" height="34"/></clipPath>
<g clip-path="url(#clip84130)">
<g fill="#6fb2e8" fill-opacity="0.5">
<circle cx="102.3" cy="144.9" r="0.5"/>
<circle cx="112.1" cy="145.8" r="0.5"/>
<circle cx="104.8" cy="154.8" r="0.5"/>
<circle cx="108.9" cy="141.3" r="0.5"/>
<circle cx="99.7" cy="160.4" r="0.5"/>
<circle cx="103.2" cy="146.4" r="0.5"/>
<circle cx="107.7" cy="145.6" r="0.5"/>
<circle cx="109.1" cy="136.9" r="0.5"/>
<circle cx="113.4" cy="143.5" r="0.5"/>
<circle cx="110.9" cy="138.7" r="0.5"/>
<circle cx="104.2" cy="153.0" r="0.5"/>
<circle cx="105.8" cy="146.6" r="0.5"/>
<circle cx="110.6" cy="138.7" r="0.5"/>
<circle cx="94.1" cy="158.9" r="0.5"/>
<circle cx="98.9" cy="158.7" r="0.5"/>
<circle cx="104.9" cy="144.1" r="0.5"/>
<circle cx="106.9" cy="148.6" r="0.5"/>
<circle cx="108.5" cy="149.0" r="0.5"/>
<circle cx="107.2" cy="149.3" r="0.5"/>
<circle cx="115.3" cy="141.8" r="0.5"/>
<circle cx="104.1" cy="152.3" r="0.5"/>
<circle cx="94.3" cy="155.3" r="0.5"/>
<circle cx="99.0" cy="159.8" r="0.5"/>
<circle cx="99.6" cy="153.7" r="0.5"/>
<circle cx="104.1" cy="148.0" r="0.5"/>
<circle cx="103.0" cy="150.7" r="0.5"/>
<circle cx="112.9" cy="137.3" r="0.5"/>
<circle cx="109.7" cy="146.0" r="0.5"/>
<circle cx="101.2" cy="145.7" r="0.5"/>
<circle cx="105.1" cy="152.0" r="0.5"/>
<circle cx="96.4" cy="154.9" r="0.5"/>
<circle cx="111.2" cy="143.0" r="0.5"/>
<circle cx="106.9" cy="148.5" r="0.5"/>
<circle cx="103.0" cy="143.9" r="0.5"/>
<circle cx="96.7" cy="154.4" r="0.5"/>
<circle cx="107.7" cy="140.9" r="0.5"/>
<circle cx="99.3" cy="150.5" r="0.5"/>
<circle cx="98.1" cy="155.2" r="0.5"/>
<circle cx="100.7" cy="154.1" r="0.5"/>
<circle cx="95.5" cy="160.6" r="0.5"/>
<circle cx="97.6" cy="146.9" r="0.5"/>
<circle cx="107.5" cy="142.5" r="0.5"/>
<circle cx="93.2" cy="157.6" r="0.5"/>
<circle cx="105.2" cy="144.5" r="0.5"/>
<circle cx="110.2" cy="144.1" r="0.5"/>
<circle cx="108.7" cy="144.0" r="0.5"/>
<circle cx="112.4" cy="140.9" r="0.5"/>
<circle cx="102.1" cy="140.6" r="0.5"/>
<circle cx="112.0" cy="144.5" r="0.5"/>
<circle cx="102.6" cy="147.8" r="0.5"/>
<circle cx="109.3" cy="133.1" r="0.5"/>
<circle cx="112.7" cy="148.9" r="0.5"/>
<circle cx="102.6" cy="153.4" r="0.5"/>
<circle cx="112.9" cy="136.4" r="0.5"/>
<circle cx="109.6" cy="145.6" r="0.5"/>
<circle cx="100.8" cy="151.8" r="0.5"/>
<circle cx="108.2" cy="146.9" r="0.5"/>
<circle cx="104.4" cy="146.8" r="0.5"/>
<circle cx="99.7" cy="151.9" r="0.5"/>
<circle cx="109.1" cy="142.3" r="0.5"/>
</g>
<g fill="#b5d6f2" fill-opacity="0.8">
<circle cx="107.3" cy="141.5" r="0.5"/>
<circle cx="125.5" cy="140.1" r="0.5"/>
<circle cx="112.8" cy="134.8" r="0.5"/>
<circle cx="115.3" cy="142.1" r="0.5"/>
<circle cx="120.3" cy="140.1" r="0.5"/>
<circle cx="112.1" cy="143.3" r="0.5"/>
<circle cx="103.8" cy="147.8" r="0.5"/>
<circle cx="112.9" cy="139.8" r="0.5"/>
<circle cx="119.8" cy="144.0" r="0.5"/>
<circle cx="104.8" cy="142.8" r="0.5"/>
<circle cx="113.5" cy="141.9" r="0.5"/>
<circle cx="109.3" cy="140.4" r="0.5"/>
<circle cx="122.8" cy="140.8" r="0.5"/>
<circle cx="105.2" cy="140.9" r="0.5"/>
<circle cx="120.8" cy="141.4" r="0.5"/>
<circle cx="121.2" cy="140.8" r="0.5"/>
<circle cx="108.1" cy="144.1" r="0.5"/>
<circle cx="101.2" cy="143.9" r="0.5"/>
<circle cx="112.2" cy="143.3" r="0.5"/>
<circle cx="108.5" cy="143.0" r="0.5"/>
<circle cx="114.5" cy="142.1" r="0.5"/>
<circle cx="115.2" cy="141.4" r="0.5"/>
<circle cx="111.2" cy="144.4" r="0.5"/>
<circle cx="111.5" cy="140.0" r="0.5"/>
<circle cx="109.1" cy="143.1" r="0.5"/>
<circle cx="111.6" cy="142.6" r="0.5"/>
<circle cx="112.1" cy="142.4" r="0.5"/>
<circle cx="110.3" cy="139.3" r="0.5"/>
<circle cx="114.9" cy="143.8" r="0.5"/>
<circle cx="113.9" cy="140.8" r="0.5"/>
<circle cx="113.3" cy="139.0" r="0.5"/>
<circle cx="103.1" cy="145.4" r="0.5"/>
<circle cx="108.3" cy="145.3" r="0.5"/>
<circle cx="104.7" cy="137.7" r="0.5"/>
<circle cx="108.5" cy="147.5" r="0.5"/>
<circle cx="109.0" cy="139.4" r="0.5"/>
<circle cx="108.9" cy="144.5" r="0.5"/>
<circle cx="114.5" cy="141.6" r="0.5"/>
<circle cx="119.6" cy="141.1" r="0.5"/>
<circle cx="112.4" cy="143.4" r="0.5"/>
</g>
<polygon points="93.00,161.00 95.00,153.00 101.00,146.00 108.00,140.00 116.00,137.50 118.00,141.00 112.00,147.00 106.00,153.00 101.00,161.00" fill="#b5d6f2" stroke="none" stroke-width="0" filter="url(#fb)" fill-opacity="0.75"/>
<polygon points="94.50,160.00 97.00,153.00 102.00,147.00 107.00,142.50 110.00,142.00 109.00,146.00 104.00,152.00 100.00,160.00" fill="#6fb2e8" stroke="none" stroke-width="0" filter="url(#fb)" fill-opacity="0.85"/>
<polygon points="96.00,158.50 98.00,153.00 101.50,148.50 105.00,145.00 106.20,146.50 103.00,151.50 100.00,156.50 98.50,159.00" fill="#1a88de" stroke="none" stroke-width="0" filter="url(#fb)" fill-opacity="1.0"/>
<g stroke="#cfe6fa" stroke-width="0.45" stroke-opacity="0.55" filter="url(#fb2)">
<line x1="96.86" y1="156.78" x2="100.60" y2="153.94" stroke="#cfe6fa" stroke-width="0.45" />
<line x1="98.88" y1="148.39" x2="101.46" y2="145.97" stroke="#cfe6fa" stroke-width="0.45" />
<line x1="97.61" y1="151.24" x2="100.13" y2="147.82" stroke="#cfe6fa" stroke-width="0.45" />
<line x1="105.92" y1="152.66" x2="108.41" y2="149.23" stroke="#cfe6fa" stroke-width="0.45" />
<line x1="99.16" y1="149.99" x2="101.16" y2="147.73" stroke="#cfe6fa" stroke-width="0.45" />
<line x1="100.84" y1="152.04" x2="103.24" y2="149.53" stroke="#cfe6fa" stroke-width="0.45" />
<line x1="96.05" y1="148.70" x2="98.23" y2="146.40" stroke="#cfe6fa" stroke-width="0.45" />
</g>
</g>
<rect x="84.20" y="130.60" width="43.00" height="34.00" fill="none" stroke="#222" stroke-width="0.8" />
<line x1="104.50" y1="130.60" x2="104.50" y2="164.60" stroke="#333" stroke-width="0.8" />
<line x1="84.20" y1="149.40" x2="127.20" y2="149.40" stroke="#333" stroke-width="0.8" />
<line x1="84.20" y1="164.60" x2="84.20" y2="165.80" stroke="#000" stroke-width="0.5" />
<text x="84.20" y="170.00" font-size="4.9" text-anchor="middle" style="stroke-width:0.3px">10<tspan font-size="3.4" dy="-2.0">0</tspan></text>
<line x1="94.95" y1="164.60" x2="94.95" y2="165.80" stroke="#000" stroke-width="0.5" />
<text x="94.95" y="170.00" font-size="4.9" text-anchor="middle" style="stroke-width:0.3px">10<tspan font-size="3.4" dy="-2.0">1</tspan></text>
<line x1="105.70" y1="164.60" x2="105.70" y2="165.80" stroke="#000" stroke-width="0.5" />
<text x="105.70" y="170.00" font-size="4.9" text-anchor="middle" style="stroke-width:0.3px">10<tspan font-size="3.4" dy="-2.0">2</tspan></text>
<line x1="116.45" y1="164.60" x2="116.45" y2="165.80" stroke="#000" stroke-width="0.5" />
<text x="116.45" y="170.00" font-size="4.9" text-anchor="middle" style="stroke-width:0.3px">10<tspan font-size="3.4" dy="-2.0">3</tspan></text>
<line x1="127.20" y1="164.60" x2="127.20" y2="165.80" stroke="#000" stroke-width="0.5" />
<text x="127.20" y="170.00" font-size="4.9" text-anchor="middle" style="stroke-width:0.3px">10<tspan font-size="3.4" dy="-2.0">4</tspan></text>
<text x="105.70" y="173.97" font-size="3.8" font-weight="bold" text-anchor="middle" fill="#000" font-style="italic">AV</text>
<line x1="83.00" y1="164.60" x2="84.20" y2="164.60" stroke="#000" stroke-width="0.5" />
<text transform="translate(81.80,164.60) rotate(-90)" font-size="4.9" text-anchor="middle" style="stroke-width:0.3px">10<tspan font-size="3.4" dy="-2.0">0</tspan></text>
<line x1="83.00" y1="156.10" x2="84.20" y2="156.10" stroke="#000" stroke-width="0.5" />
<text transform="translate(81.80,156.10) rotate(-90)" font-size="4.9" text-anchor="middle" style="stroke-width:0.3px">10<tspan font-size="3.4" dy="-2.0">1</tspan></text>
<line x1="83.00" y1="147.60" x2="84.20" y2="147.60" stroke="#000" stroke-width="0.5" />
<text transform="translate(81.80,147.60) rotate(-90)" font-size="4.9" text-anchor="middle" style="stroke-width:0.3px">10<tspan font-size="3.4" dy="-2.0">2</tspan></text>
<line x1="83.00" y1="139.10" x2="84.20" y2="139.10" stroke="#000" stroke-width="0.5" />
<text transform="translate(81.80,139.10) rotate(-90)" font-size="4.9" text-anchor="middle" style="stroke-width:0.3px">10<tspan font-size="3.4" dy="-2.0">3</tspan></text>
<line x1="83.00" y1="130.60" x2="84.20" y2="130.60" stroke="#000" stroke-width="0.5" />
<text transform="translate(81.80,130.60) rotate(-90)" font-size="4.9" text-anchor="middle" style="stroke-width:0.3px">10<tspan font-size="3.4" dy="-2.0">4</tspan></text>
<text transform="translate(75.00,146.60) rotate(-90)" font-size="4.0" font-weight="bold" text-anchor="middle">PI</text>
<clipPath id="clip28177"><rect x="28.4" y="177.4" width="43" height="34"/></clipPath>
<g clip-path="url(#clip28177)">
<g fill="#6fb2e8" fill-opacity="0.6">
<circle cx="40.2" cy="206.5" r="0.45"/>
<circle cx="38.6" cy="209.3" r="0.45"/>
<circle cx="32.7" cy="208.6" r="0.45"/>
<circle cx="37.2" cy="203.6" r="0.45"/>
<circle cx="34.2" cy="203.7" r="0.45"/>
<circle cx="36.1" cy="210.3" r="0.45"/>
<circle cx="41.9" cy="205.2" r="0.45"/>
<circle cx="36.0" cy="204.4" r="0.45"/>
<circle cx="49.3" cy="202.9" r="0.45"/>
<circle cx="43.7" cy="201.8" r="0.45"/>
<circle cx="35.8" cy="203.4" r="0.45"/>
<circle cx="44.3" cy="206.9" r="0.45"/>
<circle cx="28.9" cy="212.3" r="0.45"/>
<circle cx="40.1" cy="201.2" r="0.45"/>
<circle cx="28.1" cy="209.8" r="0.45"/>
<circle cx="33.9" cy="205.6" r="0.45"/>
<circle cx="39.5" cy="207.5" r="0.45"/>
<circle cx="43.2" cy="206.8" r="0.45"/>
<circle cx="48.4" cy="205.3" r="0.45"/>
<circle cx="31.5" cy="209.6" r="0.45"/>
<circle cx="32.1" cy="207.6" r="0.45"/>
<circle cx="38.6" cy="207.2" r="0.45"/>
<circle cx="39.6" cy="202.0" r="0.45"/>
<circle cx="32.5" cy="210.5" r="0.45"/>
<circle cx="37.6" cy="206.9" r="0.45"/>
<circle cx="37.7" cy="205.4" r="0.45"/>
<circle cx="43.1" cy="205.8" r="0.45"/>
<circle cx="37.7" cy="205.7" r="0.45"/>
<circle cx="34.7" cy="201.3" r="0.45"/>
<circle cx="33.9" cy="209.9" r="0.45"/>
<circle cx="31.3" cy="211.8" r="0.45"/>
<circle cx="38.1" cy="203.4" r="0.45"/>
<circle cx="37.3" cy="207.0" r="0.45"/>
<circle cx="42.2" cy="207.1" r="0.45"/>
<circle cx="37.7" cy="205.2" r="0.45"/>
<circle cx="38.2" cy="207.3" r="0.45"/>
<circle cx="43.2" cy="205.6" r="0.45"/>
<circle cx="33.5" cy="206.0" r="0.45"/>
<circle cx="36.1" cy="206.4" r="0.45"/>
<circle cx="33.0" cy="209.9" r="0.45"/>
<circle cx="36.5" cy="208.7" r="0.45"/>
<circle cx="41.2" cy="204.6" r="0.45"/>
<circle cx="50.8" cy="199.6" r="0.45"/>
<circle cx="45.0" cy="204.1" r="0.45"/>
<circle cx="41.9" cy="198.4" r="0.45"/>
<circle cx="35.4" cy="209.7" r="0.45"/>
<circle cx="45.1" cy="210.6" r="0.45"/>
<circle cx="42.3" cy="209.0" r="0.45"/>
<circle cx="44.2" cy="207.0" r="0.45"/>
<circle cx="41.5" cy="205.2" r="0.45"/>
</g>
<g fill="#b5d6f2" fill-opacity="0.7">
<circle cx="57.5" cy="183.8" r="0.4"/>
<circle cx="59.5" cy="184.0" r="0.4"/>
<circle cx="56.7" cy="190.2" r="0.4"/>
<circle cx="55.3" cy="186.0" r="0.4"/>
<circle cx="59.5" cy="186.1" r="0.4"/>
<circle cx="53.6" cy="186.5" r="0.4"/>
<circle cx="57.7" cy="187.4" r="0.4"/>
<circle cx="53.7" cy="189.5" r="0.4"/>
<circle cx="61.0" cy="186.0" r="0.4"/>
<circle cx="56.8" cy="185.1" r="0.4"/>
<circle cx="60.2" cy="184.6" r="0.4"/>
<circle cx="58.0" cy="185.0" r="0.4"/>
</g>
<polygon points="30.00,211.80 33.00,205.00 38.00,201.50 44.00,199.50 48.00,200.00 46.00,205.00 41.00,209.50 37.00,211.80" fill="#6fb2e8" stroke="none" stroke-width="0" filter="url(#fb)" fill-opacity="0.55"/>
<polygon points="30.50,211.80 33.00,207.00 37.00,204.00 42.00,202.00 45.00,202.50 43.00,206.00 39.00,209.50 35.00,211.80" fill="#1a88de" stroke="none" stroke-width="0" filter="url(#fb)" fill-opacity="1.0"/>
<g stroke="#cfe6fa" stroke-width="0.45" stroke-opacity="0.55" filter="url(#fb2)">
<line x1="35.90" y1="205.85" x2="39.89" y2="203.17" stroke="#cfe6fa" stroke-width="0.45" />
<line x1="35.73" y1="206.19" x2="38.28" y2="204.60" stroke="#cfe6fa" stroke-width="0.45" />
<line x1="31.97" y1="210.18" x2="34.55" y2="206.81" stroke="#cfe6fa" stroke-width="0.45" />
<line x1="34.12" y1="204.60" x2="37.14" y2="202.72" stroke="#cfe6fa" stroke-width="0.45" />
<line x1="35.91" y1="211.37" x2="39.68" y2="208.25" stroke="#cfe6fa" stroke-width="0.45" />
<line x1="39.65" y1="210.95" x2="43.53" y2="208.35" stroke="#cfe6fa" stroke-width="0.45" />
<line x1="40.93" y1="202.48" x2="44.40" y2="200.08" stroke="#cfe6fa" stroke-width="0.45" />
</g>
</g>
<rect x="28.40" y="177.40" width="43.00" height="34.00" fill="none" stroke="#222" stroke-width="0.8" />
<line x1="48.90" y1="177.40" x2="48.90" y2="211.40" stroke="#333" stroke-width="0.8" />
<line x1="28.40" y1="196.80" x2="71.40" y2="196.80" stroke="#333" stroke-width="0.8" />
<line x1="28.40" y1="211.40" x2="28.40" y2="212.60" stroke="#000" stroke-width="0.5" />
<text x="28.40" y="216.80" font-size="4.9" text-anchor="middle" style="stroke-width:0.3px">10<tspan font-size="3.4" dy="-2.0">0</tspan></text>
<line x1="39.15" y1="211.40" x2="39.15" y2="212.60" stroke="#000" stroke-width="0.5" />
<text x="39.15" y="216.80" font-size="4.9" text-anchor="middle" style="stroke-width:0.3px">10<tspan font-size="3.4" dy="-2.0">1</tspan></text>
<line x1="49.90" y1="211.40" x2="49.90" y2="212.60" stroke="#000" stroke-width="0.5" />
<text x="49.90" y="216.80" font-size="4.9" text-anchor="middle" style="stroke-width:0.3px">10<tspan font-size="3.4" dy="-2.0">2</tspan></text>
<line x1="60.65" y1="211.40" x2="60.65" y2="212.60" stroke="#000" stroke-width="0.5" />
<text x="60.65" y="216.80" font-size="4.9" text-anchor="middle" style="stroke-width:0.3px">10<tspan font-size="3.4" dy="-2.0">3</tspan></text>
<line x1="71.40" y1="211.40" x2="71.40" y2="212.60" stroke="#000" stroke-width="0.5" />
<text x="71.40" y="216.80" font-size="4.9" text-anchor="middle" style="stroke-width:0.3px">10<tspan font-size="3.4" dy="-2.0">4</tspan></text>
<text x="49.90" y="220.77" font-size="3.8" font-weight="bold" text-anchor="middle" fill="#000" font-style="italic">AV</text>
<line x1="27.20" y1="211.40" x2="28.40" y2="211.40" stroke="#000" stroke-width="0.5" />
<text transform="translate(26.00,211.40) rotate(-90)" font-size="4.9" text-anchor="middle" style="stroke-width:0.3px">10<tspan font-size="3.4" dy="-2.0">0</tspan></text>
<line x1="27.20" y1="202.90" x2="28.40" y2="202.90" stroke="#000" stroke-width="0.5" />
<text transform="translate(26.00,202.90) rotate(-90)" font-size="4.9" text-anchor="middle" style="stroke-width:0.3px">10<tspan font-size="3.4" dy="-2.0">1</tspan></text>
<line x1="27.20" y1="194.40" x2="28.40" y2="194.40" stroke="#000" stroke-width="0.5" />
<text transform="translate(26.00,194.40) rotate(-90)" font-size="4.9" text-anchor="middle" style="stroke-width:0.3px">10<tspan font-size="3.4" dy="-2.0">2</tspan></text>
<line x1="27.20" y1="185.90" x2="28.40" y2="185.90" stroke="#000" stroke-width="0.5" />
<text transform="translate(26.00,185.90) rotate(-90)" font-size="4.9" text-anchor="middle" style="stroke-width:0.3px">10<tspan font-size="3.4" dy="-2.0">3</tspan></text>
<line x1="27.20" y1="177.40" x2="28.40" y2="177.40" stroke="#000" stroke-width="0.5" />
<text transform="translate(26.00,177.40) rotate(-90)" font-size="4.9" text-anchor="middle" style="stroke-width:0.3px">10<tspan font-size="3.4" dy="-2.0">4</tspan></text>
<text transform="translate(19.20,193.40) rotate(-90)" font-size="4.0" font-weight="bold" text-anchor="middle">PI</text>
<clipPath id="clip84177"><rect x="84.2" y="177.4" width="43" height="34"/></clipPath>
<g clip-path="url(#clip84177)">
<g fill="#6fb2e8" fill-opacity="0.5">
<circle cx="97.7" cy="199.0" r="0.5"/>
<circle cx="100.1" cy="204.7" r="0.5"/>
<circle cx="102.1" cy="201.4" r="0.5"/>
<circle cx="95.5" cy="206.6" r="0.5"/>
<circle cx="100.1" cy="209.7" r="0.5"/>
<circle cx="103.8" cy="200.9" r="0.5"/>
<circle cx="96.3" cy="202.7" r="0.5"/>
<circle cx="94.5" cy="205.1" r="0.5"/>
<circle cx="102.4" cy="204.2" r="0.5"/>
<circle cx="106.5" cy="208.3" r="0.5"/>
<circle cx="96.3" cy="205.6" r="0.5"/>
<circle cx="111.6" cy="189.7" r="0.5"/>
<circle cx="97.5" cy="205.5" r="0.5"/>
<circle cx="101.5" cy="204.3" r="0.5"/>
<circle cx="99.4" cy="205.3" r="0.5"/>
<circle cx="101.6" cy="205.7" r="0.5"/>
<circle cx="88.5" cy="206.2" r="0.5"/>
<circle cx="98.3" cy="200.3" r="0.5"/>
<circle cx="95.6" cy="208.4" r="0.5"/>
<circle cx="97.6" cy="207.3" r="0.5"/>
<circle cx="104.4" cy="202.3" r="0.5"/>
<circle cx="102.5" cy="201.7" r="0.5"/>
<circle cx="92.5" cy="207.5" r="0.5"/>
<circle cx="101.5" cy="200.6" r="0.5"/>
<circle cx="100.7" cy="206.1" r="0.5"/>
<circle cx="96.5" cy="208.0" r="0.5"/>
<circle cx="108.9" cy="196.4" r="0.5"/>
<circle cx="100.5" cy="202.6" r="0.5"/>
<circle cx="108.6" cy="200.0" r="0.5"/>
<circle cx="103.6" cy="198.8" r="0.5"/>
<circle cx="99.9" cy="203.5" r="0.5"/>
<circle cx="93.1" cy="213.0" r="0.5"/>
<circle cx="101.8" cy="195.5" r="0.5"/>
<circle cx="103.7" cy="201.0" r="0.5"/>
<circle cx="103.0" cy="203.3" r="0.5"/>
<circle cx="91.8" cy="207.2" r="0.5"/>
<circle cx="106.9" cy="197.4" r="0.5"/>
<circle cx="92.3" cy="202.3" r="0.5"/>
<circle cx="94.1" cy="208.0" r="0.5"/>
<circle cx="109.6" cy="200.0" r="0.5"/>
<circle cx="105.0" cy="209.7" r="0.5"/>
<circle cx="96.1" cy="202.9" r="0.5"/>
<circle cx="103.7" cy="203.7" r="0.5"/>
<circle cx="92.7" cy="202.8" r="0.5"/>
<circle cx="101.9" cy="203.4" r="0.5"/>
<circle cx="92.8" cy="206.6" r="0.5"/>
<circle cx="97.9" cy="206.5" r="0.5"/>
<circle cx="99.2" cy="203.6" r="0.5"/>
<circle cx="99.9" cy="207.8" r="0.5"/>
<circle cx="106.7" cy="198.4" r="0.5"/>
<circle cx="103.2" cy="198.7" r="0.5"/>
<circle cx="101.6" cy="205.6" r="0.5"/>
<circle cx="107.3" cy="198.0" r="0.5"/>
<circle cx="99.9" cy="204.3" r="0.5"/>
<circle cx="92.1" cy="207.9" r="0.5"/>
<circle cx="97.1" cy="206.6" r="0.5"/>
<circle cx="90.7" cy="200.7" r="0.5"/>
<circle cx="100.6" cy="204.2" r="0.5"/>
<circle cx="98.6" cy="207.8" r="0.5"/>
<circle cx="97.5" cy="202.4" r="0.5"/>
</g>
<g fill="#b5d6f2" fill-opacity="0.7">
<circle cx="105.4" cy="190.6" r="0.4"/>
<circle cx="102.0" cy="193.0" r="0.4"/>
<circle cx="106.5" cy="192.8" r="0.4"/>
<circle cx="104.9" cy="192.0" r="0.4"/>
<circle cx="104.9" cy="195.5" r="0.4"/>
<circle cx="101.9" cy="196.5" r="0.4"/>
<circle cx="102.1" cy="193.0" r="0.4"/>
<circle cx="104.5" cy="194.5" r="0.4"/>
<circle cx="100.3" cy="189.8" r="0.4"/>
<circle cx="105.8" cy="194.2" r="0.4"/>
<circle cx="105.9" cy="196.9" r="0.4"/>
<circle cx="104.6" cy="193.4" r="0.4"/>
<circle cx="106.8" cy="193.6" r="0.4"/>
<circle cx="109.0" cy="191.1" r="0.4"/>
<circle cx="102.9" cy="187.8" r="0.4"/>
</g>
<polygon points="89.50,211.00 91.00,204.00 95.00,198.50 101.00,195.50 108.00,195.00 112.00,198.50 109.00,205.00 101.00,211.00" fill="#b5d6f2" stroke="none" stroke-width="0" filter="url(#fb)" fill-opacity="0.8"/>
<polygon points="91.50,209.50 93.00,203.00 97.00,199.00 103.00,197.50 107.00,199.00 105.00,204.50 100.00,208.50 95.00,210.50" fill="#6fb2e8" stroke="none" stroke-width="0" filter="url(#fb)" fill-opacity="0.9"/>
<polygon points="93.50,207.50 95.50,202.50 99.50,199.50 104.00,199.00 104.80,202.00 101.00,206.00 97.00,208.00" fill="#1a88de" stroke="none" stroke-width="0" filter="url(#fb)" fill-opacity="1.0"/>
<g stroke="#cfe6fa" stroke-width="0.45" stroke-opacity="0.55" filter="url(#fb2)">
<line x1="104.03" y1="201.96" x2="106.40" y2="198.59" stroke="#cfe6fa" stroke-width="0.45" />
<line x1="101.93" y1="199.29" x2="105.26" y2="197.03" stroke="#cfe6fa" stroke-width="0.45" />
<line x1="97.72" y1="201.99" x2="100.06" y2="200.48" stroke="#cfe6fa" stroke-width="0.45" />
<line x1="96.66" y1="202.16" x2="100.57" y2="200.42" stroke="#cfe6fa" stroke-width="0.45" />
<line x1="104.40" y1="200.87" x2="107.11" y2="197.72" stroke="#cfe6fa" stroke-width="0.45" />
<line x1="102.79" y1="202.89" x2="104.89" y2="200.45" stroke="#cfe6fa" stroke-width="0.45" />
<line x1="97.71" y1="207.28" x2="100.10" y2="205.05" stroke="#cfe6fa" stroke-width="0.45" />
</g>
</g>
<rect x="84.20" y="177.40" width="43.00" height="34.00" fill="none" stroke="#222" stroke-width="0.8" />
<line x1="104.50" y1="177.40" x2="104.50" y2="211.40" stroke="#333" stroke-width="0.8" />
<line x1="84.20" y1="196.80" x2="127.20" y2="196.80" stroke="#333" stroke-width="0.8" />
<line x1="84.20" y1="211.40" x2="84.20" y2="212.60" stroke="#000" stroke-width="0.5" />
<text x="84.20" y="216.80" font-size="4.9" text-anchor="middle" style="stroke-width:0.3px">10<tspan font-size="3.4" dy="-2.0">0</tspan></text>
<line x1="94.95" y1="211.40" x2="94.95" y2="212.60" stroke="#000" stroke-width="0.5" />
<text x="94.95" y="216.80" font-size="4.9" text-anchor="middle" style="stroke-width:0.3px">10<tspan font-size="3.4" dy="-2.0">1</tspan></text>
<line x1="105.70" y1="211.40" x2="105.70" y2="212.60" stroke="#000" stroke-width="0.5" />
<text x="105.70" y="216.80" font-size="4.9" text-anchor="middle" style="stroke-width:0.3px">10<tspan font-size="3.4" dy="-2.0">2</tspan></text>
<line x1="116.45" y1="211.40" x2="116.45" y2="212.60" stroke="#000" stroke-width="0.5" />
<text x="116.45" y="216.80" font-size="4.9" text-anchor="middle" style="stroke-width:0.3px">10<tspan font-size="3.4" dy="-2.0">3</tspan></text>
<line x1="127.20" y1="211.40" x2="127.20" y2="212.60" stroke="#000" stroke-width="0.5" />
<text x="127.20" y="216.80" font-size="4.9" text-anchor="middle" style="stroke-width:0.3px">10<tspan font-size="3.4" dy="-2.0">4</tspan></text>
<text x="105.70" y="220.77" font-size="3.8" font-weight="bold" text-anchor="middle" fill="#000" font-style="italic">AV</text>
<line x1="83.00" y1="211.40" x2="84.20" y2="211.40" stroke="#000" stroke-width="0.5" />
<text transform="translate(81.80,211.40) rotate(-90)" font-size="4.9" text-anchor="middle" style="stroke-width:0.3px">10<tspan font-size="3.4" dy="-2.0">0</tspan></text>
<line x1="83.00" y1="202.90" x2="84.20" y2="202.90" stroke="#000" stroke-width="0.5" />
<text transform="translate(81.80,202.90) rotate(-90)" font-size="4.9" text-anchor="middle" style="stroke-width:0.3px">10<tspan font-size="3.4" dy="-2.0">1</tspan></text>
<line x1="83.00" y1="194.40" x2="84.20" y2="194.40" stroke="#000" stroke-width="0.5" />
<text transform="translate(81.80,194.40) rotate(-90)" font-size="4.9" text-anchor="middle" style="stroke-width:0.3px">10<tspan font-size="3.4" dy="-2.0">2</tspan></text>
<line x1="83.00" y1="185.90" x2="84.20" y2="185.90" stroke="#000" stroke-width="0.5" />
<text transform="translate(81.80,185.90) rotate(-90)" font-size="4.9" text-anchor="middle" style="stroke-width:0.3px">10<tspan font-size="3.4" dy="-2.0">3</tspan></text>
<line x1="83.00" y1="177.40" x2="84.20" y2="177.40" stroke="#000" stroke-width="0.5" />
<text transform="translate(81.80,177.40) rotate(-90)" font-size="4.9" text-anchor="middle" style="stroke-width:0.3px">10<tspan font-size="3.4" dy="-2.0">4</tspan></text>
<text transform="translate(75.00,193.40) rotate(-90)" font-size="4.0" font-weight="bold" text-anchor="middle">PI</text>
<line x1="159.30" y1="131.50" x2="159.30" y2="212.30" stroke="#000" stroke-width="1.1" />
<line x1="157.30" y1="211.80" x2="159.30" y2="211.80" stroke="#000" stroke-width="0.9" />
<text x="156.70" y="214.10" font-size="6.4" font-weight="bold" text-anchor="end" fill="#000" >0</text>
<line x1="157.30" y1="191.80" x2="159.30" y2="191.80" stroke="#000" stroke-width="0.9" />
<text x="156.70" y="194.10" font-size="6.4" font-weight="bold" text-anchor="end" fill="#000" >10</text>
<line x1="157.30" y1="171.80" x2="159.30" y2="171.80" stroke="#000" stroke-width="0.9" />
<text x="156.70" y="174.10" font-size="6.4" font-weight="bold" text-anchor="end" fill="#000" >20</text>
<line x1="157.30" y1="151.80" x2="159.30" y2="151.80" stroke="#000" stroke-width="0.9" />
<text x="156.70" y="154.10" font-size="6.4" font-weight="bold" text-anchor="end" fill="#000" >30</text>
<line x1="157.30" y1="131.80" x2="159.30" y2="131.80" stroke="#000" stroke-width="0.9" />
<text x="156.70" y="134.10" font-size="6.4" font-weight="bold" text-anchor="end" fill="#000" >40</text>
<line x1="158.80" y1="211.80" x2="229.50" y2="211.80" stroke="#000" stroke-width="1.1" />
<rect x="164.50" y="193.20" width="12.00" height="18.60" fill="#fff" stroke="#444" stroke-width="0.6" />
<line x1="170.50" y1="193.20" x2="170.50" y2="190.80" stroke="#000" stroke-width="1.0" />
<line x1="167.50" y1="190.80" x2="173.50" y2="190.80" stroke="#000" stroke-width="1.0" />
<rect x="176.50" y="160.60" width="12.00" height="51.20" fill="#aa9baf" stroke="#333" stroke-width="0.6" />
<line x1="182.50" y1="160.60" x2="182.50" y2="154.20" stroke="#000" stroke-width="1.0" />
<line x1="179.25" y1="154.20" x2="185.75" y2="154.20" stroke="#000" stroke-width="1.0" />
<circle cx="180.65" cy="150.60" r="1.05" fill="#000"/>
<circle cx="184.35" cy="150.60" r="1.05" fill="#000"/>
<line x1="176.50" y1="211.80" x2="176.50" y2="213.80" stroke="#000" stroke-width="0.9" />
<rect x="200.40" y="203.20" width="12.00" height="8.60" fill="#fff" stroke="#444" stroke-width="0.6" />
<line x1="206.40" y1="203.20" x2="206.40" y2="201.00" stroke="#000" stroke-width="1.0" />
<line x1="203.40" y1="201.00" x2="209.40" y2="201.00" stroke="#000" stroke-width="1.0" />
<rect x="212.40" y="181.40" width="12.00" height="30.40" fill="#aa9baf" stroke="#333" stroke-width="0.6" />
<line x1="218.40" y1="181.40" x2="218.40" y2="178.80" stroke="#000" stroke-width="1.0" />
<line x1="215.15" y1="178.80" x2="221.65" y2="178.80" stroke="#000" stroke-width="1.0" />
<circle cx="216.55" cy="175.20" r="1.05" fill="#000"/>
<circle cx="220.25" cy="175.20" r="1.05" fill="#000"/>
<line x1="212.40" y1="211.80" x2="212.40" y2="213.80" stroke="#000" stroke-width="0.9" />
<text x="176.50" y="220.46" font-size="6.0" font-weight="bold" text-anchor="middle" fill="#000" >SGC7901</text>
<text x="212.40" y="220.46" font-size="6.0" font-weight="bold" text-anchor="middle" fill="#000" >BGC823</text>
<text x="164.20" y="136.97" font-size="6.3" font-weight="bold" text-anchor="start" fill="#000" >LR+UR</text>
<text transform="translate(144.38,170.40) rotate(-90)" font-size="6.6" font-weight="bold" text-anchor="middle" fill="#000" >Apoptotic rate (%)</text>
<rect x="190.60" y="138.40" width="7.80" height="3.40" fill="#fff" stroke="#666" stroke-width="0.7" />
<text x="201.20" y="142.22" font-size="5.6" font-weight="bold" text-anchor="start" fill="#222" style="stroke-width:0.1px">miR-NC</text>
<rect x="190.60" y="145.60" width="7.80" height="3.40" fill="#a39aa6" stroke="#666" stroke-width="0.7" />
<text x="201.20" y="149.52" font-size="5.6" font-weight="bold" text-anchor="start" fill="#222" style="stroke-width:0.1px">miR-204-5p mimics</text>
<text x="247.60" y="130.82" font-size="12" font-weight="bold" text-anchor="start" fill="#000" >D</text>
<line x1="267.70" y1="125.60" x2="267.70" y2="164.40" stroke="#aaa" stroke-width="0.5" />
<line x1="267.70" y1="164.40" x2="313.80" y2="164.40" stroke="#999" stroke-width="0.6" />
<line x1="266.70" y1="164.40" x2="267.70" y2="164.40" stroke="#bbb" stroke-width="0.4" />
<text x="266.3" y="165.3" font-size="2.6" text-anchor="end" fill="#999" style="stroke:none">0</text>
<line x1="266.70" y1="155.38" x2="267.70" y2="155.38" stroke="#bbb" stroke-width="0.4" />
<text x="266.3" y="156.3" font-size="2.6" text-anchor="end" fill="#999" style="stroke:none">20</text>
<line x1="266.70" y1="146.35" x2="267.70" y2="146.35" stroke="#bbb" stroke-width="0.4" />
<text x="266.3" y="147.3" font-size="2.6" text-anchor="end" fill="#999" style="stroke:none">40</text>
<line x1="266.70" y1="137.33" x2="267.70" y2="137.33" stroke="#bbb" stroke-width="0.4" />
<text x="266.3" y="138.2" font-size="2.6" text-anchor="end" fill="#999" style="stroke:none">60</text>
<line x1="266.70" y1="128.31" x2="267.70" y2="128.31" stroke="#bbb" stroke-width="0.4" />
<text x="266.3" y="129.2" font-size="2.6" text-anchor="end" fill="#999" style="stroke:none">80</text>
<line x1="267.70" y1="164.40" x2="267.70" y2="165.40" stroke="#bbb" stroke-width="0.4" />
<text x="267.7" y="167.8" font-size="2.4" text-anchor="middle" fill="#aaa" style="stroke:none">0</text>
<line x1="279.23" y1="164.40" x2="279.23" y2="165.40" stroke="#bbb" stroke-width="0.4" />
<text x="279.2" y="167.8" font-size="2.4" text-anchor="middle" fill="#aaa" style="stroke:none">50</text>
<line x1="290.75" y1="164.40" x2="290.75" y2="165.40" stroke="#bbb" stroke-width="0.4" />
<text x="290.8" y="167.8" font-size="2.4" text-anchor="middle" fill="#aaa" style="stroke:none">100</text>
<line x1="302.27" y1="164.40" x2="302.27" y2="165.40" stroke="#bbb" stroke-width="0.4" />
<text x="302.3" y="167.8" font-size="2.4" text-anchor="middle" fill="#aaa" style="stroke:none">150</text>
<line x1="313.80" y1="164.40" x2="313.80" y2="165.40" stroke="#bbb" stroke-width="0.4" />
<text x="313.8" y="167.8" font-size="2.4" text-anchor="middle" fill="#aaa" style="stroke:none">200</text>
<text transform="translate(263.1,145.0) rotate(-90)" font-size="2.6" text-anchor="middle" fill="#aaa" style="stroke:none">Number</text>
<polygon points="267.70,164.40 267.70,164.40 267.90,164.40 268.10,164.40 268.30,164.40 268.50,164.40 268.70,164.40 268.90,164.40 269.10,164.40 269.30,164.40 269.50,164.40 269.70,164.40 269.90,164.40 270.10,164.40 270.30,164.40 270.50,164.40 270.70,164.40 270.90,164.40 271.10,164.40 271.30,164.40 271.50,164.40 271.70,164.40 271.90,164.40 272.10,164.40 272.30,164.40 272.50,164.40 272.70,164.40 272.90,164.40 273.10,164.40 273.30,164.40 273.50,164.40 273.70,164.40 273.90,164.40 274.10,164.40 274.30,164.40 274.50,164.40 274.70,164.40 274.90,164.40 275.10,164.40 275.30,164.40 275.50,164.40 275.70,164.40 275.90,164.40 276.10,164.40 276.30,164.40 276.50,164.40 276.70,164.40 276.90,164.40 277.10,164.40 277.30,164.40 277.50,164.40 277.70,164.40 277.90,164.40 278.10,164.40 278.30,164.40 278.50,164.40 278.70,164.40 278.90,164.40 279.10,164.40 279.30,164.40 279.50,164.40 279.70,164.40 279.90,164.40 280.10,164.40 280.30,164.40 280.50,164.40 280.70,164.40 280.90,164.40 281.10,164.40 281.30,164.40 281.50,164.40 281.70,164.40 281.90,164.40 282.10,164.40 282.30,164.40 282.50,164.40 282.70,164.40 282.90,164.40 283.10,164.40 283.30,164.40 283.50,164.40 283.70,163.92 283.90,163.07 284.10,162.36 284.30,161.75 284.50,161.23 284.70,160.80 284.90,160.43 285.10,160.12 285.30,159.86 285.50,159.63 285.70,159.44 285.90,159.28 286.10,159.15 286.30,159.03 286.50,158.94 286.70,158.85 286.90,158.78 287.10,158.72 287.30,158.67 287.50,158.63 287.70,158.60 287.90,158.57 288.10,158.54 288.30,158.52 288.50,158.50 288.70,158.48 288.90,158.47 289.10,158.45 289.30,158.44 289.50,158.43 289.70,158.42 289.90,158.41 290.10,158.40 290.30,158.39 290.50,158.38 290.70,158.37 290.90,158.36 291.10,158.34 291.30,158.32 291.50,158.30 291.70,158.28 291.90,158.25 292.10,158.22 292.30,158.19 292.50,158.15 292.70,158.10 292.90,158.05 293.10,158.00 293.30,157.93 293.50,157.86 293.70,157.79 293.90,157.71 294.10,157.62 294.30,157.53 294.50,157.43 294.70,157.33 294.90,157.22 295.10,157.11 295.30,157.00 295.50,156.89 295.70,156.78 295.90,156.67 296.10,156.80 296.30,157.18 296.50,157.57 296.70,157.96 296.90,158.37 297.10,158.78 297.30,159.21 297.50,159.64 297.70,160.10 297.90,160.56 298.10,161.04 298.30,161.54 298.50,162.04 298.70,162.09 298.90,162.14 299.10,162.21 299.30,162.28 299.50,162.37 299.70,162.46 299.90,162.56 300.10,162.67 300.30,162.78 300.50,162.89 300.70,163.00 300.90,163.11 301.10,163.22 301.30,163.33 301.50,163.43 301.70,163.53 301.90,163.62 302.10,163.71 302.30,163.79 302.50,163.86 302.70,163.93 302.90,163.99 303.10,164.05 303.30,164.10 303.50,164.14 303.70,164.18 303.90,164.22 304.10,164.25 304.30,164.27 304.50,164.29 304.70,164.31 304.90,164.33 305.10,164.34 305.30,164.35 305.50,164.36 305.70,164.37 305.90,164.38 306.10,164.38 306.30,164.39 306.50,164.39 306.70,164.39 306.90,164.39 307.10,164.39 307.30,164.40 307.50,164.40 307.70,164.40 307.90,164.40 308.10,164.40 308.30,164.40 308.50,164.40 308.70,164.40 308.90,164.40 309.10,164.40 309.30,164.40 309.50,164.40 309.70,164.40 309.90,164.40 310.10,164.40 310.30,164.40 310.50,164.40 310.70,164.40 310.90,164.40 311.10,164.40 311.30,164.40 311.50,164.40 311.70,164.40 311.90,164.40 312.10,164.40 312.30,164.40 312.50,164.40 312.70,164.40 312.90,164.40 313.10,164.40 313.30,164.40 313.50,164.40 313.70,164.40 313.70,164.40" fill="#cdd3ee" stroke="none" stroke-width="1" />
<polygon points="267.70,164.40 267.70,164.40 267.90,164.40 268.10,164.40 268.30,164.40 268.50,164.40 268.70,164.40 268.90,164.40 269.10,164.40 269.30,164.40 269.50,164.40 269.70,164.40 269.90,164.40 270.10,164.40 270.30,164.40 270.50,164.40 270.70,164.40 270.90,164.40 271.10,164.40 271.30,164.40 271.50,164.40 271.70,164.40 271.90,164.40 272.10,164.40 272.30,164.40 272.50,164.40 272.70,164.40 272.90,164.40 273.10,164.40 273.30,164.40 273.50,164.40 273.70,164.40 273.90,164.40 274.10,164.40 274.30,164.40 274.50,164.40 274.70,164.40 274.90,164.40 275.10,164.40 275.30,164.40 275.50,164.40 275.70,164.40 275.90,164.40 276.10,164.40 276.30,164.40 276.50,164.40 276.70,164.40 276.90,164.40 277.10,164.40 277.30,164.40 277.50,164.40 277.70,164.40 277.90,164.40 278.10,164.40 278.30,164.40 278.50,164.40 278.70,164.40 278.90,164.40 279.10,164.40 279.30,164.40 279.50,164.40 279.70,164.40 279.90,164.40 280.10,164.40 280.30,164.40 280.50,164.40 280.70,164.40 280.90,164.40 281.10,164.40 281.30,164.40 281.50,164.40 281.70,164.40 281.90,164.40 282.10,164.40 282.30,164.40 282.50,164.40 282.70,164.40 282.90,164.40 283.10,164.40 283.30,164.40 283.50,164.40 283.70,164.40 283.90,164.40 284.10,164.40 284.30,164.40 284.50,164.40 284.70,164.40 284.90,164.40 285.10,164.40 285.30,164.40 285.50,164.40 285.70,164.40 285.90,164.40 286.10,164.40 286.30,164.40 286.50,164.40 286.70,164.40 286.90,164.40 287.10,164.40 287.30,164.40 287.50,164.40 287.70,164.40 287.90,164.40 288.10,164.40 288.30,164.40 288.50,164.40 288.70,164.40 288.90,164.39 289.10,164.39 289.30,164.39 289.50,164.39 289.70,164.39 289.90,164.38 290.10,164.38 290.30,164.37 290.50,164.36 290.70,164.35 290.90,164.34 291.10,164.33 291.30,164.31 291.50,164.29 291.70,164.27 291.90,164.25 292.10,164.22 292.30,164.18 292.50,164.14 292.70,164.10 292.90,164.05 293.10,163.99 293.30,163.93 293.50,163.86 293.70,163.79 293.90,163.71 294.10,163.62 294.30,163.53 294.50,163.43 294.70,163.33 294.90,163.22 295.10,163.11 295.30,163.00 295.50,162.89 295.70,162.78 295.90,162.67 296.10,162.56 296.30,162.46 296.50,162.37 296.70,162.28 296.90,162.21 297.10,162.14 297.30,162.09 297.50,162.04 297.70,162.02 297.90,162.00 298.10,162.00 298.30,162.02 298.50,162.04 298.70,162.09 298.90,162.14 299.10,162.21 299.30,162.28 299.50,162.37 299.70,162.46 299.90,162.56 300.10,162.67 300.30,162.78 300.50,162.89 300.70,163.00 300.90,163.11 301.10,163.22 301.30,163.33 301.50,163.43 301.70,163.53 301.90,163.62 302.10,163.71 302.30,163.79 302.50,163.86 302.70,163.93 302.90,163.99 303.10,164.05 303.30,164.10 303.50,164.14 303.70,164.18 303.90,164.22 304.10,164.25 304.30,164.27 304.50,164.29 304.70,164.31 304.90,164.33 305.10,164.34 305.30,164.35 305.50,164.36 305.70,164.37 305.90,164.38 306.10,164.38 306.30,164.39 306.50,164.39 306.70,164.39 306.90,164.39 307.10,164.39 307.30,164.40 307.50,164.40 307.70,164.40 307.90,164.40 308.10,164.40 308.30,164.40 308.50,164.40 308.70,164.40 308.90,164.40 309.10,164.40 309.30,164.40 309.50,164.40 309.70,164.40 309.90,164.40 310.10,164.40 310.30,164.40 310.50,164.40 310.70,164.40 310.90,164.40 311.10,164.40 311.30,164.40 311.50,164.40 311.70,164.40 311.90,164.40 312.10,164.40 312.30,164.40 312.50,164.40 312.70,164.40 312.90,164.40 313.10,164.40 313.30,164.40 313.50,164.40 313.70,164.40 313.70,164.40" fill="#a8162a" stroke="none" stroke-width="1" />
<polygon points="267.70,164.40 267.70,164.40 267.90,164.40 268.10,164.40 268.30,164.40 268.50,164.40 268.70,164.40 268.90,164.40 269.10,164.40 269.30,164.40 269.50,164.40 269.70,164.40 269.90,164.40 270.10,164.40 270.30,164.40 270.50,164.40 270.70,164.40 270.90,164.40 271.10,164.40 271.30,164.40 271.50,164.40 271.70,164.40 271.90,164.40 272.10,164.40 272.30,164.40 272.50,164.40 272.70,164.40 272.90,164.40 273.10,164.40 273.30,164.40 273.50,164.40 273.70,164.40 273.90,164.40 274.10,164.40 274.30,164.40 274.50,164.40 274.70,164.40 274.90,164.40 275.10,164.40 275.30,164.40 275.50,164.40 275.70,164.40 275.90,164.40 276.10,164.39 276.30,164.39 276.50,164.39 276.70,164.38 276.90,164.37 277.10,164.35 277.30,164.32 277.50,164.29 277.70,164.24 277.90,164.16 278.10,164.07 278.30,163.93 278.50,163.76 278.70,163.53 278.90,163.23 279.10,162.84 279.30,162.35 279.50,161.75 279.70,161.00 279.90,160.11 280.10,159.04 280.30,157.79 280.50,156.34 280.70,154.70 280.90,152.87 281.10,150.87 281.30,148.71 281.50,146.43 281.70,144.06 281.90,141.67 282.10,139.31 282.30,137.05 282.50,134.95 282.70,133.07 282.90,131.49 283.10,130.24 283.30,129.39 283.50,128.95 283.70,128.95 283.90,129.39 284.10,130.24 284.30,131.49 284.50,133.07 284.70,134.95 284.90,137.05 285.10,139.31 285.30,141.67 285.50,144.06 285.70,146.43 285.90,148.71 286.10,150.87 286.30,152.87 286.50,154.70 286.70,156.34 286.90,157.79 287.10,159.04 287.30,160.11 287.50,161.00 287.70,161.75 287.90,162.35 288.10,162.84 288.30,163.23 288.50,163.53 288.70,163.76 288.90,163.93 289.10,164.07 289.30,164.16 289.50,164.24 289.70,164.29 289.90,164.32 290.10,164.35 290.30,164.37 290.50,164.38 290.70,164.39 290.90,164.39 291.10,164.39 291.30,164.40 291.50,164.40 291.70,164.40 291.90,164.40 292.10,164.40 292.30,164.40 292.50,164.40 292.70,164.40 292.90,164.40 293.10,164.40 293.30,164.40 293.50,164.40 293.70,164.40 293.90,164.40 294.10,164.40 294.30,164.40 294.50,164.40 294.70,164.40 294.90,164.40 295.10,164.40 295.30,164.40 295.50,164.40 295.70,164.40 295.90,164.40 296.10,164.40 296.30,164.40 296.50,164.40 296.70,164.40 296.90,164.40 297.10,164.40 297.30,164.40 297.50,164.40 297.70,164.40 297.90,164.40 298.10,164.40 298.30,164.40 298.50,164.40 298.70,164.40 298.90,164.40 299.10,164.40 299.30,164.40 299.50,164.40 299.70,164.40 299.90,164.40 300.10,164.40 300.30,164.40 300.50,164.40 300.70,164.40 300.90,164.40 301.10,164.40 301.30,164.40 301.50,164.40 301.70,164.40 301.90,164.40 302.10,164.40 302.30,164.40 302.50,164.40 302.70,164.40 302.90,164.40 303.10,164.40 303.30,164.40 303.50,164.40 303.70,164.40 303.90,164.40 304.10,164.40 304.30,164.40 304.50,164.40 304.70,164.40 304.90,164.40 305.10,164.40 305.30,164.40 305.50,164.40 305.70,164.40 305.90,164.40 306.10,164.40 306.30,164.40 306.50,164.40 306.70,164.40 306.90,164.40 307.10,164.40 307.30,164.40 307.50,164.40 307.70,164.40 307.90,164.40 308.10,164.40 308.30,164.40 308.50,164.40 308.70,164.40 308.90,164.40 309.10,164.40 309.30,164.40 309.50,164.40 309.70,164.40 309.90,164.40 310.10,164.40 310.30,164.40 310.50,164.40 310.70,164.40 310.90,164.40 311.10,164.40 311.30,164.40 311.50,164.40 311.70,164.40 311.90,164.40 312.10,164.40 312.30,164.40 312.50,164.40 312.70,164.40 312.90,164.40 313.10,164.40 313.30,164.40 313.50,164.40 313.70,164.40 313.70,164.40" fill="#e30e18" stroke="none" stroke-width="1" />
<polygon points="267.70,164.29 267.90,164.26 268.10,164.22 268.30,164.17 268.50,164.11 268.70,164.05 268.90,163.97 269.10,163.89 269.30,163.81 269.50,163.72 269.70,163.63 269.90,163.54 270.10,163.45 270.30,163.38 270.50,163.31 270.70,163.26 270.90,163.22 271.10,163.20 271.30,163.20 271.50,163.22 271.70,163.26 271.90,163.31 272.10,163.38 272.30,163.45 272.50,163.54 272.70,163.63 272.90,163.72 273.10,163.81 273.30,163.89 273.50,163.97 273.70,164.05 273.90,164.11 274.10,164.17 274.30,164.22 274.50,164.26 274.70,164.29 274.90,164.32 275.10,164.34 275.30,164.35 275.50,164.37 275.70,164.38 275.90,164.38 276.10,164.39 276.30,164.39 276.50,164.40 276.70,164.40 267.70,164.40" fill="#3cc4c0" stroke="none" stroke-width="1" />
<polyline points="267.70,164.29 267.90,164.26 268.10,164.22 268.30,164.17 268.50,164.11 268.70,164.05 268.90,163.97 269.10,163.89 269.30,163.81 269.50,163.72 269.70,163.63 269.90,163.54 270.10,163.45 270.30,163.38 270.50,163.31 270.70,163.26 270.90,163.22 271.10,163.20 271.30,163.20 271.50,163.22 271.70,163.26 271.90,163.31 272.10,163.38 272.30,163.45 272.50,163.54 272.70,163.63 272.90,163.72 273.10,163.81 273.30,163.89 273.50,163.97 273.70,164.05 273.90,164.11 274.10,164.17 274.30,164.22 274.50,164.26 274.70,164.29 274.90,164.32 275.10,164.34 275.30,164.35 275.50,164.37 275.70,164.37 275.90,164.38 276.10,164.38 276.30,164.38 276.50,164.38 276.70,164.37 276.90,164.36 277.10,164.35 277.30,164.32 277.50,164.29 277.70,164.23 277.90,164.16 278.10,164.07 278.30,163.93 278.50,163.76 278.70,163.53 278.90,163.23 279.10,162.84 279.30,162.35 279.50,161.75 279.70,161.00 279.90,160.11 280.10,159.04 280.30,157.79 280.50,156.34 280.70,154.70 280.90,152.87 281.10,150.87 281.30,148.71 281.50,146.43 281.70,144.06 281.90,141.67 282.10,139.31 282.30,137.05 282.50,134.95 282.70,133.07 282.90,131.49 283.10,130.24 283.30,129.39 283.50,128.95 283.70,128.95 283.90,129.39 284.10,130.24 284.30,131.49 284.50,133.07 284.70,134.95 284.90,137.05 285.10,139.31 285.30,141.67 285.50,144.06 285.70,146.43 285.90,148.71 286.10,150.87 286.30,152.87 286.50,154.70 286.70,156.34 286.90,157.79 287.10,158.72 287.30,158.67 287.50,158.63 287.70,158.60 287.90,158.57 288.10,158.54 288.30,158.52 288.50,158.50 288.70,158.48 288.90,158.47 289.10,158.45 289.30,158.44 289.50,158.43 289.70,158.42 289.90,158.41 290.10,158.40 290.30,158.39 290.50,158.38 290.70,158.37 290.90,158.36 291.10,158.34 291.30,158.32 291.50,158.30 291.70,158.28 291.90,158.25 292.10,158.22 292.30,158.19 292.50,158.15 292.70,158.10 292.90,158.05 293.10,158.00 293.30,157.93 293.50,157.86 293.70,157.79 293.90,157.71 294.10,157.62 294.30,157.53 294.50,157.43 294.70,157.33 294.90,157.22 295.10,157.11 295.30,157.00 295.50,156.89 295.70,156.78 295.90,156.67 296.10,156.80 296.30,157.18 296.50,157.57 296.70,157.96 296.90,158.37 297.10,158.78 297.30,159.21 297.50,159.64 297.70,160.10 297.90,160.56 298.10,161.04 298.30,161.54 298.50,162.04 298.70,162.09 298.90,162.14 299.10,162.21 299.30,162.28 299.50,162.37 299.70,162.46 299.90,162.56 300.10,162.67 300.30,162.78 300.50,162.89 300.70,163.00 300.90,163.11 301.10,163.22 301.30,163.33 301.50,163.43 301.70,163.53 301.90,163.62 302.10,163.71 302.30,163.79 302.50,163.86 302.70,163.93 302.90,163.99 303.10,164.05 303.30,164.10 303.50,164.14 303.70,164.18 303.90,164.22 304.10,164.25 304.30,164.27 304.50,164.29 304.70,164.31 304.90,164.33 305.10,164.34 305.30,164.35 305.50,164.36 305.70,164.37 305.90,164.38 306.10,164.38 306.30,164.39 306.50,164.39 306.70,164.39 306.90,164.39 307.10,164.39 307.30,164.40 307.50,164.40 307.70,164.40 307.90,164.40 308.10,164.40 308.30,164.40 308.50,164.40 308.70,164.40 308.90,164.40 309.10,164.40 309.30,164.40 309.50,164.40 309.70,164.40 309.90,164.40 310.10,164.40 310.30,164.40 310.50,164.40 310.70,164.40 310.90,164.40 311.10,164.40 311.30,164.40 311.50,164.40 311.70,164.40 311.90,164.40 312.10,164.40 312.30,164.40 312.50,164.40 312.70,164.40 312.90,164.40 313.10,164.40 313.30,164.40 313.50,164.40 313.70,164.40" fill="none" stroke="#555" stroke-width="0.45" />
<text x="290.8" y="169.0" font-size="2.8" text-anchor="middle" fill="#e07898" style="stroke:none">Channels (FL2-A)</text>
<line x1="325.40" y1="125.60" x2="325.40" y2="164.40" stroke="#aaa" stroke-width="0.5" />
<line x1="325.40" y1="164.40" x2="371.20" y2="164.40" stroke="#999" stroke-width="0.6" />
<line x1="324.40" y1="164.40" x2="325.40" y2="164.40" stroke="#bbb" stroke-width="0.4" />
<text x="324.0" y="165.3" font-size="2.6" text-anchor="end" fill="#999" style="stroke:none">0</text>
<line x1="324.40" y1="155.38" x2="325.40" y2="155.38" stroke="#bbb" stroke-width="0.4" />
<text x="324.0" y="156.3" font-size="2.6" text-anchor="end" fill="#999" style="stroke:none">20</text>
<line x1="324.40" y1="146.35" x2="325.40" y2="146.35" stroke="#bbb" stroke-width="0.4" />
<text x="324.0" y="147.3" font-size="2.6" text-anchor="end" fill="#999" style="stroke:none">40</text>
<line x1="324.40" y1="137.33" x2="325.40" y2="137.33" stroke="#bbb" stroke-width="0.4" />
<text x="324.0" y="138.2" font-size="2.6" text-anchor="end" fill="#999" style="stroke:none">60</text>
<line x1="324.40" y1="128.31" x2="325.40" y2="128.31" stroke="#bbb" stroke-width="0.4" />
<text x="324.0" y="129.2" font-size="2.6" text-anchor="end" fill="#999" style="stroke:none">80</text>
<line x1="325.40" y1="164.40" x2="325.40" y2="165.40" stroke="#bbb" stroke-width="0.4" />
<text x="325.4" y="167.8" font-size="2.4" text-anchor="middle" fill="#aaa" style="stroke:none">0</text>
<line x1="336.85" y1="164.40" x2="336.85" y2="165.40" stroke="#bbb" stroke-width="0.4" />
<text x="336.8" y="167.8" font-size="2.4" text-anchor="middle" fill="#aaa" style="stroke:none">50</text>
<line x1="348.30" y1="164.40" x2="348.30" y2="165.40" stroke="#bbb" stroke-width="0.4" />
<text x="348.3" y="167.8" font-size="2.4" text-anchor="middle" fill="#aaa" style="stroke:none">100</text>
<line x1="359.75" y1="164.40" x2="359.75" y2="165.40" stroke="#bbb" stroke-width="0.4" />
<text x="359.8" y="167.8" font-size="2.4" text-anchor="middle" fill="#aaa" style="stroke:none">150</text>
<line x1="371.20" y1="164.40" x2="371.20" y2="165.40" stroke="#bbb" stroke-width="0.4" />
<text x="371.2" y="167.8" font-size="2.4" text-anchor="middle" fill="#aaa" style="stroke:none">200</text>
<text transform="translate(320.8,145.0) rotate(-90)" font-size="2.6" text-anchor="middle" fill="#aaa" style="stroke:none">Number</text>
<polygon points="325.40,164.40 325.40,164.40 325.60,164.40 325.80,164.40 326.00,164.40 326.20,164.40 326.40,164.40 326.60,164.40 326.80,164.40 327.00,164.40 327.20,164.40 327.40,164.40 327.60,164.40 327.80,164.40 328.00,164.40 328.20,164.40 328.40,164.40 328.60,164.40 328.80,164.40 329.00,164.40 329.20,164.40 329.40,164.40 329.60,164.40 329.80,164.40 330.00,164.40 330.20,164.40 330.40,164.40 330.60,164.40 330.80,164.40 331.00,164.40 331.20,164.40 331.40,164.40 331.60,164.40 331.80,164.40 332.00,164.40 332.20,164.40 332.40,164.40 332.60,164.40 332.80,164.40 333.00,164.40 333.20,164.40 333.40,164.40 333.60,164.40 333.80,164.40 334.00,164.40 334.20,164.40 334.40,164.40 334.60,164.40 334.80,164.40 335.00,164.40 335.20,164.40 335.40,164.40 335.60,164.40 335.80,164.40 336.00,164.40 336.20,164.40 336.40,164.40 336.60,164.40 336.80,164.40 337.00,164.40 337.20,164.40 337.40,164.40 337.60,164.40 337.80,164.40 338.00,164.40 338.20,164.40 338.40,164.40 338.60,164.40 338.80,164.40 339.00,164.40 339.20,164.40 339.40,163.74 339.60,163.18 339.80,162.71 340.00,162.31 340.20,161.97 340.40,161.68 340.60,161.44 340.80,161.23 341.00,161.05 341.20,160.91 341.40,160.78 341.60,160.67 341.80,160.58 342.00,160.50 342.20,160.43 342.40,160.37 342.60,160.32 342.80,160.28 343.00,160.24 343.20,160.20 343.40,160.16 343.60,160.13 343.80,160.10 344.00,160.07 344.20,160.04 344.40,160.00 344.60,159.97 344.80,159.93 345.00,159.90 345.20,159.85 345.40,159.81 345.60,159.76 345.80,159.71 346.00,159.65 346.20,159.59 346.40,159.52 346.60,159.45 346.80,159.37 347.00,159.29 347.20,159.21 347.40,159.12 347.60,159.03 347.80,158.93 348.00,158.84 348.20,158.74 348.40,158.64 348.60,158.53 348.80,158.43 349.00,158.33 349.20,158.24 349.40,158.14 349.60,158.06 349.80,157.97 350.00,157.89 350.20,158.17 350.40,158.45 350.60,158.74 350.80,159.04 351.00,159.35 351.20,159.68 351.40,160.01 351.60,160.35 351.80,160.71 352.00,161.07 352.20,161.45 352.40,161.84 352.60,162.06 352.80,162.12 353.00,162.19 353.20,162.27 353.40,162.35 353.60,162.44 353.80,162.54 354.00,162.63 354.20,162.73 354.40,162.83 354.60,162.93 354.80,163.03 355.00,163.13 355.20,163.23 355.40,163.33 355.60,163.42 355.80,163.50 356.00,163.59 356.20,163.67 356.40,163.74 356.60,163.81 356.80,163.87 357.00,163.93 357.20,163.99 357.40,164.04 357.60,164.08 357.80,164.12 358.00,164.16 358.20,164.19 358.40,164.22 358.60,164.25 358.80,164.27 359.00,164.29 359.20,164.31 359.40,164.32 359.60,164.33 359.80,164.35 360.00,164.35 360.20,164.36 360.40,164.37 360.60,164.37 360.80,164.38 361.00,164.38 361.20,164.39 361.40,164.39 361.60,164.39 361.80,164.39 362.00,164.39 362.20,164.40 362.40,164.40 362.60,164.40 362.80,164.40 363.00,164.40 363.20,164.40 363.40,164.40 363.60,164.40 363.80,164.40 364.00,164.40 364.20,164.40 364.40,164.40 364.60,164.40 364.80,164.40 365.00,164.40 365.20,164.40 365.40,164.40 365.60,164.40 365.80,164.40 366.00,164.40 366.20,164.40 366.40,164.40 366.60,164.40 366.80,164.40 367.00,164.40 367.20,164.40 367.40,164.40 367.60,164.40 367.80,164.40 368.00,164.40 368.20,164.40 368.40,164.40 368.60,164.40 368.80,164.40 369.00,164.40 369.20,164.40 369.40,164.40 369.60,164.40 369.80,164.40 370.00,164.40 370.20,164.40 370.40,164.40 370.60,164.40 370.80,164.40 371.00,164.40 371.20,164.40 371.20,164.40" fill="#cdd3ee" stroke="none" stroke-width="1" />
<polygon points="325.40,164.40 325.40,164.40 325.60,164.40 325.80,164.40 326.00,164.40 326.20,164.40 326.40,164.40 326.60,164.40 326.80,164.40 327.00,164.40 327.20,164.40 327.40,164.40 327.60,164.40 327.80,164.40 328.00,164.40 328.20,164.40 328.40,164.40 328.60,164.40 328.80,164.40 329.00,164.40 329.20,164.40 329.40,164.40 329.60,164.40 329.80,164.40 330.00,164.40 330.20,164.40 330.40,164.40 330.60,164.40 330.80,164.40 331.00,164.40 331.20,164.40 331.40,164.40 331.60,164.40 331.80,164.40 332.00,164.40 332.20,164.40 332.40,164.40 332.60,164.40 332.80,164.40 333.00,164.40 333.20,164.40 333.40,164.40 333.60,164.40 333.80,164.40 334.00,164.40 334.20,164.40 334.40,164.40 334.60,164.40 334.80,164.40 335.00,164.40 335.20,164.40 335.40,164.40 335.60,164.40 335.80,164.40 336.00,164.40 336.20,164.40 336.40,164.40 336.60,164.40 336.80,164.40 337.00,164.40 337.20,164.40 337.40,164.40 337.60,164.40 337.80,164.40 338.00,164.40 338.20,164.40 338.40,164.40 338.60,164.40 338.80,164.40 339.00,164.40 339.20,164.40 339.40,164.40 339.60,164.40 339.80,164.40 340.00,164.40 340.20,164.40 340.40,164.40 340.60,164.40 340.80,164.40 341.00,164.39 341.20,164.39 341.40,164.39 341.60,164.39 341.80,164.39 342.00,164.38 342.20,164.38 342.40,164.37 342.60,164.37 342.80,164.36 343.00,164.35 343.20,164.35 343.40,164.33 343.60,164.32 343.80,164.31 344.00,164.29 344.20,164.27 344.40,164.25 344.60,164.22 344.80,164.19 345.00,164.16 345.20,164.12 345.40,164.08 345.60,164.04 345.80,163.99 346.00,163.93 346.20,163.87 346.40,163.81 346.60,163.74 346.80,163.67 347.00,163.59 347.20,163.50 347.40,163.42 347.60,163.33 347.80,163.23 348.00,163.13 348.20,163.03 348.40,162.93 348.60,162.83 348.80,162.73 349.00,162.63 349.20,162.54 349.40,162.44 349.60,162.35 349.80,162.27 350.00,162.19 350.20,162.12 350.40,162.06 350.60,162.01 350.80,161.97 351.00,161.93 351.20,161.91 351.40,161.90 351.60,161.90 351.80,161.91 352.00,161.93 352.20,161.97 352.40,162.01 352.60,162.06 352.80,162.12 353.00,162.19 353.20,162.27 353.40,162.35 353.60,162.44 353.80,162.54 354.00,162.63 354.20,162.73 354.40,162.83 354.60,162.93 354.80,163.03 355.00,163.13 355.20,163.23 355.40,163.33 355.60,163.42 355.80,163.50 356.00,163.59 356.20,163.67 356.40,163.74 356.60,163.81 356.80,163.87 357.00,163.93 357.20,163.99 357.40,164.04 357.60,164.08 357.80,164.12 358.00,164.16 358.20,164.19 358.40,164.22 358.60,164.25 358.80,164.27 359.00,164.29 359.20,164.31 359.40,164.32 359.60,164.33 359.80,164.35 360.00,164.35 360.20,164.36 360.40,164.37 360.60,164.37 360.80,164.38 361.00,164.38 361.20,164.39 361.40,164.39 361.60,164.39 361.80,164.39 362.00,164.39 362.20,164.40 362.40,164.40 362.60,164.40 362.80,164.40 363.00,164.40 363.20,164.40 363.40,164.40 363.60,164.40 363.80,164.40 364.00,164.40 364.20,164.40 364.40,164.40 364.60,164.40 364.80,164.40 365.00,164.40 365.20,164.40 365.40,164.40 365.60,164.40 365.80,164.40 366.00,164.40 366.20,164.40 366.40,164.40 366.60,164.40 366.80,164.40 367.00,164.40 367.20,164.40 367.40,164.40 367.60,164.40 367.80,164.40 368.00,164.40 368.20,164.40 368.40,164.40 368.60,164.40 368.80,164.40 369.00,164.40 369.20,164.40 369.40,164.40 369.60,164.40 369.80,164.40 370.00,164.40 370.20,164.40 370.40,164.40 370.60,164.40 370.80,164.40 371.00,164.40 371.20,164.40 371.20,164.40" fill="#a8162a" stroke="none" stroke-width="1" />
<polygon points="325.40,164.40 325.40,164.40 325.60,164.40 325.80,164.40 326.00,164.40 326.20,164.40 326.40,164.40 326.60,164.40 326.80,164.40 327.00,164.40 327.20,164.40 327.40,164.40 327.60,164.40 327.80,164.40 328.00,164.40 328.20,164.40 328.40,164.40 328.60,164.40 328.80,164.40 329.00,164.40 329.20,164.40 329.40,164.40 329.60,164.40 329.80,164.40 330.00,164.40 330.20,164.40 330.40,164.40 330.60,164.40 330.80,164.40 331.00,164.40 331.20,164.40 331.40,164.40 331.60,164.40 331.80,164.40 332.00,164.40 332.20,164.40 332.40,164.40 332.60,164.39 332.80,164.39 333.00,164.38 333.20,164.37 333.40,164.35 333.60,164.32 333.80,164.28 334.00,164.22 334.20,164.13 334.40,164.00 334.60,163.82 334.80,163.57 335.00,163.24 335.20,162.81 335.40,162.24 335.60,161.51 335.80,160.60 336.00,159.49 336.20,158.14 336.40,156.55 336.60,154.71 336.80,152.62 337.00,150.30 337.20,147.78 337.40,145.12 337.60,142.38 337.80,139.65 338.00,137.00 338.20,134.54 338.40,132.37 338.60,130.56 338.80,129.22 339.00,128.38 339.20,128.10 339.40,128.38 339.60,129.22 339.80,130.56 340.00,132.37 340.20,134.54 340.40,137.00 340.60,139.65 340.80,142.38 341.00,145.12 341.20,147.78 341.40,150.30 341.60,152.62 341.80,154.71 342.00,156.55 342.20,158.14 342.40,159.49 342.60,160.60 342.80,161.51 343.00,162.24 343.20,162.81 343.40,163.24 343.60,163.57 343.80,163.82 344.00,164.00 344.20,164.13 344.40,164.22 344.60,164.28 344.80,164.32 345.00,164.35 345.20,164.37 345.40,164.38 345.60,164.39 345.80,164.39 346.00,164.40 346.20,164.40 346.40,164.40 346.60,164.40 346.80,164.40 347.00,164.40 347.20,164.40 347.40,164.40 347.60,164.40 347.80,164.40 348.00,164.40 348.20,164.40 348.40,164.40 348.60,164.40 348.80,164.40 349.00,164.40 349.20,164.40 349.40,164.40 349.60,164.40 349.80,164.40 350.00,164.40 350.20,164.40 350.40,164.40 350.60,164.40 350.80,164.40 351.00,164.40 351.20,164.40 351.40,164.40 351.60,164.40 351.80,164.40 352.00,164.40 352.20,164.40 352.40,164.40 352.60,164.40 352.80,164.40 353.00,164.40 353.20,164.40 353.40,164.40 353.60,164.40 353.80,164.40 354.00,164.40 354.20,164.40 354.40,164.40 354.60,164.40 354.80,164.40 355.00,164.40 355.20,164.40 355.40,164.40 355.60,164.40 355.80,164.40 356.00,164.40 356.20,164.40 356.40,164.40 356.60,164.40 356.80,164.40 357.00,164.40 357.20,164.40 357.40,164.40 357.60,164.40 357.80,164.40 358.00,164.40 358.20,164.40 358.40,164.40 358.60,164.40 358.80,164.40 359.00,164.40 359.20,164.40 359.40,164.40 359.60,164.40 359.80,164.40 360.00,164.40 360.20,164.40 360.40,164.40 360.60,164.40 360.80,164.40 361.00,164.40 361.20,164.40 361.40,164.40 361.60,164.40 361.80,164.40 362.00,164.40 362.20,164.40 362.40,164.40 362.60,164.40 362.80,164.40 363.00,164.40 363.20,164.40 363.40,164.40 363.60,164.40 363.80,164.40 364.00,164.40 364.20,164.40 364.40,164.40 364.60,164.40 364.80,164.40 365.00,164.40 365.20,164.40 365.40,164.40 365.60,164.40 365.80,164.40 366.00,164.40 366.20,164.40 366.40,164.40 366.60,164.40 366.80,164.40 367.00,164.40 367.20,164.40 367.40,164.40 367.60,164.40 367.80,164.40 368.00,164.40 368.20,164.40 368.40,164.40 368.60,164.40 368.80,164.40 369.00,164.40 369.20,164.40 369.40,164.40 369.60,164.40 369.80,164.40 370.00,164.40 370.20,164.40 370.40,164.40 370.60,164.40 370.80,164.40 371.00,164.40 371.20,164.40 371.20,164.40" fill="#e30e18" stroke="none" stroke-width="1" />
<polygon points="325.40,164.10 325.60,164.01 325.80,163.89 326.00,163.76 326.20,163.61 326.40,163.43 326.60,163.23 326.80,163.01 327.00,162.77 327.20,162.52 327.40,162.27 327.60,162.03 327.80,161.79 328.00,161.58 328.20,161.40 328.40,161.26 328.60,161.16 328.80,161.11 329.00,161.11 329.20,161.16 329.40,161.26 329.60,161.40 329.80,161.58 330.00,161.79 330.20,162.03 330.40,162.27 330.60,162.52 330.80,162.77 331.00,163.01 331.20,163.23 331.40,163.43 331.60,163.61 331.80,163.76 332.00,163.89 332.20,164.01 332.40,164.10 332.60,164.17 332.80,164.23 333.00,164.28 333.20,164.31 333.40,164.34 333.60,164.36 333.80,164.37 334.00,164.38 334.20,164.39 334.40,164.40 325.40,164.40" fill="#3cc4c0" stroke="none" stroke-width="1" />
<polyline points="325.40,164.10 325.60,164.01 325.80,163.89 326.00,163.76 326.20,163.61 326.40,163.43 326.60,163.23 326.80,163.01 327.00,162.77 327.20,162.52 327.40,162.27 327.60,162.03 327.80,161.79 328.00,161.58 328.20,161.40 328.40,161.26 328.60,161.16 328.80,161.11 329.00,161.11 329.20,161.16 329.40,161.26 329.60,161.40 329.80,161.58 330.00,161.79 330.20,162.03 330.40,162.27 330.60,162.52 330.80,162.77 331.00,163.01 331.20,163.23 331.40,163.43 331.60,163.60 331.80,163.76 332.00,163.89 332.20,164.00 332.40,164.09 332.60,164.17 332.80,164.22 333.00,164.26 333.20,164.28 333.40,164.29 333.60,164.28 333.80,164.25 334.00,164.19 334.20,164.11 334.40,163.99 334.60,163.81 334.80,163.57 335.00,163.24 335.20,162.80 335.40,162.24 335.60,161.51 335.80,160.60 336.00,159.49 336.20,158.14 336.40,156.55 336.60,154.71 336.80,152.62 337.00,150.30 337.20,147.78 337.40,145.12 337.60,142.38 337.80,139.65 338.00,137.00 338.20,134.54 338.40,132.37 338.60,130.56 338.80,129.22 339.00,128.38 339.20,128.10 339.40,128.38 339.60,129.22 339.80,130.56 340.00,132.37 340.20,134.54 340.40,137.00 340.60,139.65 340.80,142.38 341.00,145.12 341.20,147.78 341.40,150.30 341.60,152.62 341.80,154.71 342.00,156.55 342.20,158.14 342.40,159.49 342.60,160.32 342.80,160.28 343.00,160.24 343.20,160.20 343.40,160.16 343.60,160.13 343.80,160.10 344.00,160.07 344.20,160.04 344.40,160.00 344.60,159.97 344.80,159.93 345.00,159.90 345.20,159.85 345.40,159.81 345.60,159.76 345.80,159.71 346.00,159.65 346.20,159.59 346.40,159.52 346.60,159.45 346.80,159.37 347.00,159.29 347.20,159.21 347.40,159.12 347.60,159.03 347.80,158.93 348.00,158.84 348.20,158.74 348.40,158.64 348.60,158.53 348.80,158.43 349.00,158.33 349.20,158.24 349.40,158.14 349.60,158.06 349.80,157.97 350.00,157.89 350.20,158.17 350.40,158.45 350.60,158.74 350.80,159.04 351.00,159.35 351.20,159.68 351.40,160.01 351.60,160.35 351.80,160.71 352.00,161.07 352.20,161.45 352.40,161.84 352.60,162.06 352.80,162.12 353.00,162.19 353.20,162.27 353.40,162.35 353.60,162.44 353.80,162.54 354.00,162.63 354.20,162.73 354.40,162.83 354.60,162.93 354.80,163.03 355.00,163.13 355.20,163.23 355.40,163.33 355.60,163.42 355.80,163.50 356.00,163.59 356.20,163.67 356.40,163.74 356.60,163.81 356.80,163.87 357.00,163.93 357.20,163.99 357.40,164.04 357.60,164.08 357.80,164.12 358.00,164.16 358.20,164.19 358.40,164.22 358.60,164.25 358.80,164.27 359.00,164.29 359.20,164.31 359.40,164.32 359.60,164.33 359.80,164.35 360.00,164.35 360.20,164.36 360.40,164.37 360.60,164.37 360.80,164.38 361.00,164.38 361.20,164.39 361.40,164.39 361.60,164.39 361.80,164.39 362.00,164.39 362.20,164.40 362.40,164.40 362.60,164.40 362.80,164.40 363.00,164.40 363.20,164.40 363.40,164.40 363.60,164.40 363.80,164.40 364.00,164.40 364.20,164.40 364.40,164.40 364.60,164.40 364.80,164.40 365.00,164.40 365.20,164.40 365.40,164.40 365.60,164.40 365.80,164.40 366.00,164.40 366.20,164.40 366.40,164.40 366.60,164.40 366.80,164.40 367.00,164.40 367.20,164.40 367.40,164.40 367.60,164.40 367.80,164.40 368.00,164.40 368.20,164.40 368.40,164.40 368.60,164.40 368.80,164.40 369.00,164.40 369.20,164.40 369.40,164.40 369.60,164.40 369.80,164.40 370.00,164.40 370.20,164.40 370.40,164.40 370.60,164.40 370.80,164.40 371.00,164.40 371.20,164.40" fill="none" stroke="#555" stroke-width="0.45" />
<text x="348.3" y="169.0" font-size="2.8" text-anchor="middle" fill="#e07898" style="stroke:none">Channels (FL2-A)</text>
<line x1="268.00" y1="175.00" x2="268.00" y2="212.30" stroke="#aaa" stroke-width="0.5" />
<line x1="268.00" y1="212.30" x2="311.70" y2="212.30" stroke="#999" stroke-width="0.6" />
<line x1="267.00" y1="212.30" x2="268.00" y2="212.30" stroke="#bbb" stroke-width="0.4" />
<text x="266.6" y="213.2" font-size="2.6" text-anchor="end" fill="#999" style="stroke:none">0</text>
<line x1="267.00" y1="203.63" x2="268.00" y2="203.63" stroke="#bbb" stroke-width="0.4" />
<text x="266.6" y="204.5" font-size="2.6" text-anchor="end" fill="#999" style="stroke:none">20</text>
<line x1="267.00" y1="194.95" x2="268.00" y2="194.95" stroke="#bbb" stroke-width="0.4" />
<text x="266.6" y="195.9" font-size="2.6" text-anchor="end" fill="#999" style="stroke:none">40</text>
<line x1="267.00" y1="186.28" x2="268.00" y2="186.28" stroke="#bbb" stroke-width="0.4" />
<text x="266.6" y="187.2" font-size="2.6" text-anchor="end" fill="#999" style="stroke:none">60</text>
<line x1="267.00" y1="177.60" x2="268.00" y2="177.60" stroke="#bbb" stroke-width="0.4" />
<text x="266.6" y="178.5" font-size="2.6" text-anchor="end" fill="#999" style="stroke:none">80</text>
<line x1="268.00" y1="212.30" x2="268.00" y2="213.30" stroke="#bbb" stroke-width="0.4" />
<text x="268.0" y="215.7" font-size="2.4" text-anchor="middle" fill="#aaa" style="stroke:none">0</text>
<line x1="278.93" y1="212.30" x2="278.93" y2="213.30" stroke="#bbb" stroke-width="0.4" />
<text x="278.9" y="215.7" font-size="2.4" text-anchor="middle" fill="#aaa" style="stroke:none">50</text>
<line x1="289.85" y1="212.30" x2="289.85" y2="213.30" stroke="#bbb" stroke-width="0.4" />
<text x="289.9" y="215.7" font-size="2.4" text-anchor="middle" fill="#aaa" style="stroke:none">100</text>
<line x1="300.77" y1="212.30" x2="300.77" y2="213.30" stroke="#bbb" stroke-width="0.4" />
<text x="300.8" y="215.7" font-size="2.4" text-anchor="middle" fill="#aaa" style="stroke:none">150</text>
<line x1="311.70" y1="212.30" x2="311.70" y2="213.30" stroke="#bbb" stroke-width="0.4" />
<text x="311.7" y="215.7" font-size="2.4" text-anchor="middle" fill="#aaa" style="stroke:none">200</text>
<text transform="translate(263.4,193.7) rotate(-90)" font-size="2.6" text-anchor="middle" fill="#aaa" style="stroke:none">Number</text>
<polygon points="268.00,212.30 268.00,212.30 268.20,212.30 268.40,212.30 268.60,212.30 268.80,212.30 269.00,212.30 269.20,212.30 269.40,212.30 269.60,212.30 269.80,212.30 270.00,212.30 270.20,212.30 270.40,212.30 270.60,212.30 270.80,212.30 271.00,212.30 271.20,212.30 271.40,212.30 271.60,212.30 271.80,212.30 272.00,212.30 272.20,212.30 272.40,212.30 272.60,212.30 272.80,212.30 273.00,212.30 273.20,212.30 273.40,212.30 273.60,212.30 273.80,212.30 274.00,212.30 274.20,212.30 274.40,212.30 274.60,212.30 274.80,212.30 275.00,212.30 275.20,212.30 275.40,212.30 275.60,212.30 275.80,212.30 276.00,212.30 276.20,212.30 276.40,212.30 276.60,212.30 276.80,212.30 277.00,212.30 277.20,212.30 277.40,212.30 277.60,212.30 277.80,212.30 278.00,212.30 278.20,212.30 278.40,212.30 278.60,212.30 278.80,212.30 279.00,212.30 279.20,212.30 279.40,212.30 279.60,212.30 279.80,212.30 280.00,212.30 280.20,212.30 280.40,212.30 280.60,212.30 280.80,212.30 281.00,212.30 281.20,212.30 281.40,212.30 281.60,212.30 281.80,212.30 282.00,212.30 282.20,212.30 282.40,212.30 282.60,212.30 282.80,211.73 283.00,211.25 283.20,210.84 283.40,210.50 283.60,210.21 283.80,209.96 284.00,209.75 284.20,209.58 284.40,209.43 284.60,209.30 284.80,209.19 285.00,209.10 285.20,209.02 285.40,208.96 285.60,208.90 285.80,208.86 286.00,208.82 286.20,208.78 286.40,208.76 286.60,208.73 286.80,208.71 287.00,208.69 287.20,208.68 287.40,208.67 287.60,208.66 287.80,208.65 288.00,208.64 288.20,208.63 288.40,208.63 288.60,208.62 288.80,208.62 289.00,208.62 289.20,208.62 289.40,208.61 289.60,208.61 289.80,208.61 290.00,208.61 290.20,208.61 290.40,208.61 290.60,208.60 290.80,208.60 291.00,208.60 291.20,208.60 291.40,208.60 291.60,208.60 291.80,208.60 292.00,208.59 292.20,208.59 292.40,208.58 292.60,208.57 292.80,208.56 293.00,208.54 293.20,208.52 293.40,208.49 293.60,208.45 293.80,208.40 294.00,208.34 294.20,208.26 294.40,208.17 294.60,208.06 294.80,207.93 295.00,207.78 295.20,207.61 295.40,207.42 295.60,207.21 295.80,207.00 296.00,206.77 296.20,206.84 296.40,206.91 296.60,206.99 296.80,207.09 297.00,207.22 297.20,207.37 297.40,207.56 297.60,207.79 297.80,208.06 298.00,208.38 298.20,208.74 298.40,209.15 298.60,209.44 298.80,209.61 299.00,209.81 299.20,210.02 299.40,210.25 299.60,210.47 299.80,210.70 300.00,210.91 300.20,211.12 300.40,211.31 300.60,211.48 300.80,211.63 301.00,211.76 301.20,211.87 301.40,211.96 301.60,212.04 301.80,212.10 302.00,212.15 302.20,212.19 302.40,212.22 302.60,212.24 302.80,212.26 303.00,212.27 303.20,212.28 303.40,212.29 303.60,212.29 303.80,212.29 304.00,212.30 304.20,212.30 304.40,212.30 304.60,212.30 304.80,212.30 305.00,212.30 305.20,212.30 305.40,212.30 305.60,212.30 305.80,212.30 306.00,212.30 306.20,212.30 306.40,212.30 306.60,212.30 306.80,212.30 307.00,212.30 307.20,212.30 307.40,212.30 307.60,212.30 307.80,212.30 308.00,212.30 308.20,212.30 308.40,212.30 308.60,212.30 308.80,212.30 309.00,212.30 309.20,212.30 309.40,212.30 309.60,212.30 309.80,212.30 310.00,212.30 310.20,212.30 310.40,212.30 310.60,212.30 310.80,212.30 311.00,212.30 311.20,212.30 311.40,212.30 311.60,212.30 311.60,212.30" fill="#cdd3ee" stroke="none" stroke-width="1" />
<polygon points="268.00,212.30 268.00,212.30 268.20,212.30 268.40,212.30 268.60,212.30 268.80,212.30 269.00,212.30 269.20,212.30 269.40,212.30 269.60,212.30 269.80,212.30 270.00,212.30 270.20,212.30 270.40,212.30 270.60,212.30 270.80,212.30 271.00,212.30 271.20,212.30 271.40,212.30 271.60,212.30 271.80,212.30 272.00,212.30 272.20,212.30 272.40,212.30 272.60,212.30 272.80,212.30 273.00,212.30 273.20,212.30 273.40,212.30 273.60,212.30 273.80,212.30 274.00,212.30 274.20,212.30 274.40,212.30 274.60,212.30 274.80,212.30 275.00,212.30 275.20,212.30 275.40,212.30 275.60,212.30 275.80,212.30 276.00,212.30 276.20,212.30 276.40,212.30 276.60,212.30 276.80,212.30 277.00,212.30 277.20,212.30 277.40,212.30 277.60,212.30 277.80,212.30 278.00,212.30 278.20,212.30 278.40,212.30 278.60,212.30 278.80,212.30 279.00,212.30 279.20,212.30 279.40,212.30 279.60,212.30 279.80,212.30 280.00,212.30 280.20,212.30 280.40,212.30 280.60,212.30 280.80,212.30 281.00,212.30 281.20,212.30 281.40,212.30 281.60,212.30 281.80,212.30 282.00,212.30 282.20,212.30 282.40,212.30 282.60,212.30 282.80,212.30 283.00,212.30 283.20,212.30 283.40,212.30 283.60,212.30 283.80,212.30 284.00,212.30 284.20,212.30 284.40,212.30 284.60,212.30 284.80,212.30 285.00,212.30 285.20,212.30 285.40,212.30 285.60,212.30 285.80,212.30 286.00,212.30 286.20,212.30 286.40,212.30 286.60,212.30 286.80,212.30 287.00,212.30 287.20,212.30 287.40,212.30 287.60,212.30 287.80,212.30 288.00,212.30 288.20,212.30 288.40,212.30 288.60,212.30 288.80,212.30 289.00,212.30 289.20,212.30 289.40,212.30 289.60,212.30 289.80,212.30 290.00,212.30 290.20,212.30 290.40,212.30 290.60,212.30 290.80,212.30 291.00,212.30 291.20,212.30 291.40,212.30 291.60,212.30 291.80,212.29 292.00,212.29 292.20,212.29 292.40,212.28 292.60,212.27 292.80,212.26 293.00,212.24 293.20,212.22 293.40,212.19 293.60,212.15 293.80,212.10 294.00,212.04 294.20,211.96 294.40,211.87 294.60,211.76 294.80,211.63 295.00,211.48 295.20,211.31 295.40,211.12 295.60,210.91 295.80,210.70 296.00,210.47 296.20,210.25 296.40,210.02 296.60,209.81 296.80,209.61 297.00,209.44 297.20,209.29 297.40,209.19 297.60,209.12 297.80,209.10 298.00,209.12 298.20,209.19 298.40,209.29 298.60,209.44 298.80,209.61 299.00,209.81 299.20,210.02 299.40,210.25 299.60,210.47 299.80,210.70 300.00,210.91 300.20,211.12 300.40,211.31 300.60,211.48 300.80,211.63 301.00,211.76 301.20,211.87 301.40,211.96 301.60,212.04 301.80,212.10 302.00,212.15 302.20,212.19 302.40,212.22 302.60,212.24 302.80,212.26 303.00,212.27 303.20,212.28 303.40,212.29 303.60,212.29 303.80,212.29 304.00,212.30 304.20,212.30 304.40,212.30 304.60,212.30 304.80,212.30 305.00,212.30 305.20,212.30 305.40,212.30 305.60,212.30 305.80,212.30 306.00,212.30 306.20,212.30 306.40,212.30 306.60,212.30 306.80,212.30 307.00,212.30 307.20,212.30 307.40,212.30 307.60,212.30 307.80,212.30 308.00,212.30 308.20,212.30 308.40,212.30 308.60,212.30 308.80,212.30 309.00,212.30 309.20,212.30 309.40,212.30 309.60,212.30 309.80,212.30 310.00,212.30 310.20,212.30 310.40,212.30 310.60,212.30 310.80,212.30 311.00,212.30 311.20,212.30 311.40,212.30 311.60,212.30 311.60,212.30" fill="#a8162a" stroke="none" stroke-width="1" />
<polygon points="268.00,212.30 268.00,212.30 268.20,212.30 268.40,212.30 268.60,212.30 268.80,212.30 269.00,212.30 269.20,212.30 269.40,212.30 269.60,212.30 269.80,212.30 270.00,212.30 270.20,212.30 270.40,212.30 270.60,212.30 270.80,212.30 271.00,212.30 271.20,212.30 271.40,212.30 271.60,212.30 271.80,212.30 272.00,212.30 272.20,212.30 272.40,212.30 272.60,212.30 272.80,212.30 273.00,212.30 273.20,212.30 273.40,212.30 273.60,212.30 273.80,212.30 274.00,212.30 274.20,212.30 274.40,212.30 274.60,212.30 274.80,212.30 275.00,212.30 275.20,212.30 275.40,212.30 275.60,212.30 275.80,212.30 276.00,212.30 276.20,212.30 276.40,212.30 276.60,212.30 276.80,212.30 277.00,212.30 277.20,212.30 277.40,212.30 277.60,212.30 277.80,212.30 278.00,212.30 278.20,212.30 278.40,212.30 278.60,212.29 278.80,212.29 279.00,212.27 279.20,212.24 279.40,212.18 279.60,212.05 279.80,211.83 280.00,211.45 280.20,210.82 280.40,209.84 280.60,208.39 280.80,206.34 281.00,203.61 281.20,200.18 281.40,196.13 281.60,191.67 281.80,187.12 282.00,182.89 282.20,179.45 282.40,177.19 282.60,176.40 282.80,177.19 283.00,179.45 283.20,182.89 283.40,187.12 283.60,191.67 283.80,196.13 284.00,200.18 284.20,203.61 284.40,206.34 284.60,208.39 284.80,209.84 285.00,210.82 285.20,211.45 285.40,211.83 285.60,212.05 285.80,212.18 286.00,212.24 286.20,212.27 286.40,212.29 286.60,212.29 286.80,212.30 287.00,212.30 287.20,212.30 287.40,212.30 287.60,212.30 287.80,212.30 288.00,212.30 288.20,212.30 288.40,212.30 288.60,212.30 288.80,212.30 289.00,212.30 289.20,212.30 289.40,212.30 289.60,212.30 289.80,212.30 290.00,212.30 290.20,212.30 290.40,212.30 290.60,212.30 290.80,212.30 291.00,212.30 291.20,212.30 291.40,212.30 291.60,212.30 291.80,212.30 292.00,212.30 292.20,212.30 292.40,212.30 292.60,212.30 292.80,212.30 293.00,212.30 293.20,212.30 293.40,212.30 293.60,212.30 293.80,212.30 294.00,212.30 294.20,212.30 294.40,212.30 294.60,212.30 294.80,212.30 295.00,212.30 295.20,212.30 295.40,212.30 295.60,212.30 295.80,212.30 296.00,212.30 296.20,212.30 296.40,212.30 296.60,212.30 296.80,212.30 297.00,212.30 297.20,212.30 297.40,212.30 297.60,212.30 297.80,212.30 298.00,212.30 298.20,212.30 298.40,212.30 298.60,212.30 298.80,212.30 299.00,212.30 299.20,212.30 299.40,212.30 299.60,212.30 299.80,212.30 300.00,212.30 300.20,212.30 300.40,212.30 300.60,212.30 300.80,212.30 301.00,212.30 301.20,212.30 301.40,212.30 301.60,212.30 301.80,212.30 302.00,212.30 302.20,212.30 302.40,212.30 302.60,212.30 302.80,212.30 303.00,212.30 303.20,212.30 303.40,212.30 303.60,212.30 303.80,212.30 304.00,212.30 304.20,212.30 304.40,212.30 304.60,212.30 304.80,212.30 305.00,212.30 305.20,212.30 305.40,212.30 305.60,212.30 305.80,212.30 306.00,212.30 306.20,212.30 306.40,212.30 306.60,212.30 306.80,212.30 307.00,212.30 307.20,212.30 307.40,212.30 307.60,212.30 307.80,212.30 308.00,212.30 308.20,212.30 308.40,212.30 308.60,212.30 308.80,212.30 309.00,212.30 309.20,212.30 309.40,212.30 309.60,212.30 309.80,212.30 310.00,212.30 310.20,212.30 310.40,212.30 310.60,212.30 310.80,212.30 311.00,212.30 311.20,212.30 311.40,212.30 311.60,212.30 311.60,212.30" fill="#e30e18" stroke="none" stroke-width="1" />
<polyline points="268.00,211.70 268.20,211.70 268.40,211.70 268.60,211.70 268.80,211.70 269.00,211.70 269.20,211.70 269.40,211.70 269.60,211.70 269.80,211.70 270.00,211.70 270.20,211.70 270.40,211.70 270.60,211.70 270.80,211.70 271.00,211.70 271.20,211.70 271.40,211.70 271.60,211.70 271.80,211.70 272.00,211.70 272.20,211.70 272.40,211.70 272.60,211.70 272.80,211.70 273.00,211.70 273.20,211.70 273.40,211.70 273.60,211.70 273.80,211.70 274.00,211.70 274.20,211.70 274.40,211.70 274.60,211.70 274.80,211.70 275.00,211.70 275.20,211.70 275.40,211.70 275.60,211.70 275.80,211.70 276.00,211.70 276.20,211.70 276.40,211.70 276.60,211.70 276.80,211.70 277.00,211.70 277.20,211.70 277.40,211.70 277.60,211.70 277.80,211.70 278.00,211.70 278.20,211.70 278.40,211.70 278.60,211.69 278.80,211.69 279.00,211.67 279.20,211.64 279.40,211.58 279.60,211.45 279.80,211.23 280.00,210.85 280.20,210.22 280.40,209.24 280.60,207.79 280.80,205.74 281.00,203.01 281.20,199.58 281.40,195.53 281.60,191.07 281.80,186.52 282.00,182.29 282.20,178.85 282.40,176.59 282.60,176.40 282.80,177.19 283.00,179.45 283.20,182.89 283.40,187.12 283.60,191.67 283.80,196.13 284.00,200.18 284.20,203.61 284.40,206.34 284.60,208.39 284.80,209.19 285.00,209.10 285.20,209.02 285.40,208.96 285.60,208.90 285.80,208.86 286.00,208.82 286.20,208.78 286.40,208.76 286.60,208.73 286.80,208.71 287.00,208.69 287.20,208.68 287.40,208.67 287.60,208.66 287.80,208.65 288.00,208.64 288.20,208.63 288.40,208.63 288.60,208.62 288.80,208.62 289.00,208.62 289.20,208.62 289.40,208.61 289.60,208.61 289.80,208.61 290.00,208.61 290.20,208.61 290.40,208.61 290.60,208.60 290.80,208.60 291.00,208.60 291.20,208.60 291.40,208.60 291.60,208.60 291.80,208.60 292.00,208.59 292.20,208.59 292.40,208.58 292.60,208.57 292.80,208.56 293.00,208.54 293.20,208.52 293.40,208.49 293.60,208.45 293.80,208.40 294.00,208.34 294.20,208.26 294.40,208.17 294.60,208.06 294.80,207.93 295.00,207.78 295.20,207.61 295.40,207.42 295.60,207.21 295.80,207.00 296.00,206.77 296.20,206.84 296.40,206.91 296.60,206.99 296.80,207.09 297.00,207.22 297.20,207.37 297.40,207.56 297.60,207.79 297.80,208.06 298.00,208.38 298.20,208.74 298.40,209.15 298.60,209.44 298.80,209.61 299.00,209.81 299.20,210.02 299.40,210.25 299.60,210.47 299.80,210.70 300.00,210.91 300.20,211.12 300.40,211.31 300.60,211.48 300.80,211.63 301.00,211.76 301.20,211.87 301.40,211.96 301.60,212.04 301.80,212.10 302.00,212.15 302.20,212.19 302.40,212.22 302.60,212.24 302.80,212.26 303.00,212.27 303.20,212.28 303.40,212.29 303.60,212.29 303.80,212.29 304.00,212.30 304.20,212.30 304.40,212.30 304.60,212.30 304.80,212.30 305.00,212.30 305.20,212.30 305.40,212.30 305.60,212.30 305.80,212.30 306.00,212.30 306.20,212.30 306.40,212.30 306.60,212.30 306.80,212.30 307.00,212.30 307.20,212.30 307.40,212.30 307.60,212.30 307.80,212.30 308.00,212.30 308.20,212.30 308.40,212.30 308.60,212.30 308.80,212.30 309.00,212.30 309.20,212.30 309.40,212.30 309.60,212.30 309.80,212.30 310.00,212.30 310.20,212.30 310.40,212.30 310.60,212.30 310.80,212.30 311.00,212.30 311.20,212.30 311.40,212.30 311.60,212.30" fill="none" stroke="#555" stroke-width="0.45" />
<text x="289.9" y="216.9" font-size="2.8" text-anchor="middle" fill="#e07898" style="stroke:none">Channels (FL2-A)</text>
<line x1="326.00" y1="177.10" x2="326.00" y2="212.30" stroke="#aaa" stroke-width="0.5" />
<line x1="326.00" y1="212.30" x2="369.00" y2="212.30" stroke="#999" stroke-width="0.6" />
<line x1="325.00" y1="212.30" x2="326.00" y2="212.30" stroke="#bbb" stroke-width="0.4" />
<text x="324.6" y="213.2" font-size="2.6" text-anchor="end" fill="#999" style="stroke:none">0</text>
<line x1="325.00" y1="204.11" x2="326.00" y2="204.11" stroke="#bbb" stroke-width="0.4" />
<text x="324.6" y="205.0" font-size="2.6" text-anchor="end" fill="#999" style="stroke:none">20</text>
<line x1="325.00" y1="195.93" x2="326.00" y2="195.93" stroke="#bbb" stroke-width="0.4" />
<text x="324.6" y="196.8" font-size="2.6" text-anchor="end" fill="#999" style="stroke:none">40</text>
<line x1="325.00" y1="187.74" x2="326.00" y2="187.74" stroke="#bbb" stroke-width="0.4" />
<text x="324.6" y="188.6" font-size="2.6" text-anchor="end" fill="#999" style="stroke:none">60</text>
<line x1="325.00" y1="179.56" x2="326.00" y2="179.56" stroke="#bbb" stroke-width="0.4" />
<text x="324.6" y="180.5" font-size="2.6" text-anchor="end" fill="#999" style="stroke:none">80</text>
<line x1="326.00" y1="212.30" x2="326.00" y2="213.30" stroke="#bbb" stroke-width="0.4" />
<text x="326.0" y="215.7" font-size="2.4" text-anchor="middle" fill="#aaa" style="stroke:none">0</text>
<line x1="336.75" y1="212.30" x2="336.75" y2="213.30" stroke="#bbb" stroke-width="0.4" />
<text x="336.8" y="215.7" font-size="2.4" text-anchor="middle" fill="#aaa" style="stroke:none">50</text>
<line x1="347.50" y1="212.30" x2="347.50" y2="213.30" stroke="#bbb" stroke-width="0.4" />
<text x="347.5" y="215.7" font-size="2.4" text-anchor="middle" fill="#aaa" style="stroke:none">100</text>
<line x1="358.25" y1="212.30" x2="358.25" y2="213.30" stroke="#bbb" stroke-width="0.4" />
<text x="358.2" y="215.7" font-size="2.4" text-anchor="middle" fill="#aaa" style="stroke:none">150</text>
<line x1="369.00" y1="212.30" x2="369.00" y2="213.30" stroke="#bbb" stroke-width="0.4" />
<text x="369.0" y="215.7" font-size="2.4" text-anchor="middle" fill="#aaa" style="stroke:none">200</text>
<text transform="translate(321.4,194.7) rotate(-90)" font-size="2.6" text-anchor="middle" fill="#aaa" style="stroke:none">Number</text>
<polygon points="326.00,212.30 326.00,212.30 326.20,212.30 326.40,212.30 326.60,212.30 326.80,212.30 327.00,212.30 327.20,212.30 327.40,212.30 327.60,212.30 327.80,212.30 328.00,212.30 328.20,212.30 328.40,212.30 328.60,212.30 328.80,212.30 329.00,212.30 329.20,212.30 329.40,212.30 329.60,212.30 329.80,212.30 330.00,212.30 330.20,212.30 330.40,212.30 330.60,212.30 330.80,212.30 331.00,212.30 331.20,212.30 331.40,212.30 331.60,212.30 331.80,212.30 332.00,212.30 332.20,212.30 332.40,212.30 332.60,212.30 332.80,212.30 333.00,212.30 333.20,212.30 333.40,212.30 333.60,212.30 333.80,212.30 334.00,212.30 334.20,212.30 334.40,212.30 334.60,212.30 334.80,212.30 335.00,212.30 335.20,212.30 335.40,212.30 335.60,212.30 335.80,212.30 336.00,212.30 336.20,212.30 336.40,212.30 336.60,212.30 336.80,212.30 337.00,212.30 337.20,212.30 337.40,212.30 337.60,212.30 337.80,212.30 338.00,212.30 338.20,212.30 338.40,212.30 338.60,212.30 338.80,212.30 339.00,212.30 339.20,212.30 339.40,212.30 339.60,212.30 339.80,212.30 340.00,212.30 340.20,212.30 340.40,212.30 340.60,212.30 340.80,211.96 341.00,211.68 341.20,211.43 341.40,211.23 341.60,211.06 341.80,210.91 342.00,210.79 342.20,210.68 342.40,210.59 342.60,210.52 342.80,210.45 343.00,210.40 343.20,210.35 343.40,210.31 343.60,210.28 343.80,210.25 344.00,210.23 344.20,210.21 344.40,210.19 344.60,210.18 344.80,210.17 345.00,210.16 345.20,210.15 345.40,210.14 345.60,210.13 345.80,210.13 346.00,210.12 346.20,210.12 346.40,210.12 346.60,210.11 346.80,210.11 347.00,210.11 347.20,210.10 347.40,210.10 347.60,210.10 347.80,210.09 348.00,210.09 348.20,210.08 348.40,210.08 348.60,210.07 348.80,210.06 349.00,210.05 349.20,210.04 349.40,210.02 349.60,210.00 349.80,209.98 350.00,209.95 350.20,209.92 350.40,209.89 350.60,209.85 350.80,209.81 351.00,209.76 351.20,209.71 351.40,209.66 351.60,209.60 351.80,209.54 352.00,209.47 352.20,209.41 352.40,209.34 352.60,209.27 352.80,209.21 353.00,209.15 353.20,209.27 353.40,209.39 353.60,209.52 353.80,209.66 354.00,209.81 354.20,209.97 354.40,210.13 354.60,210.31 354.80,210.50 355.00,210.69 355.20,210.90 355.40,211.11 355.60,211.24 355.80,211.29 356.00,211.35 356.20,211.41 356.40,211.47 356.60,211.54 356.80,211.61 357.00,211.67 357.20,211.73 357.40,211.80 357.60,211.86 357.80,211.91 358.00,211.96 358.20,212.01 358.40,212.05 358.60,212.09 358.80,212.12 359.00,212.15 359.20,212.18 359.40,212.20 359.60,212.22 359.80,212.23 360.00,212.25 360.20,212.26 360.40,212.27 360.60,212.27 360.80,212.28 361.00,212.28 361.20,212.29 361.40,212.29 361.60,212.29 361.80,212.30 362.00,212.30 362.20,212.30 362.40,212.30 362.60,212.30 362.80,212.30 363.00,212.30 363.20,212.30 363.40,212.30 363.60,212.30 363.80,212.30 364.00,212.30 364.20,212.30 364.40,212.30 364.60,212.30 364.80,212.30 365.00,212.30 365.20,212.30 365.40,212.30 365.60,212.30 365.80,212.30 366.00,212.30 366.20,212.30 366.40,212.30 366.60,212.30 366.80,212.30 367.00,212.30 367.20,212.30 367.40,212.30 367.60,212.30 367.80,212.30 368.00,212.30 368.20,212.30 368.40,212.30 368.60,212.30 368.80,212.30 369.00,212.30 369.00,212.30" fill="#cdd3ee" stroke="none" stroke-width="1" />
<polygon points="326.00,212.30 326.00,212.30 326.20,212.30 326.40,212.30 326.60,212.30 326.80,212.30 327.00,212.30 327.20,212.30 327.40,212.30 327.60,212.30 327.80,212.30 328.00,212.30 328.20,212.30 328.40,212.30 328.60,212.30 328.80,212.30 329.00,212.30 329.20,212.30 329.40,212.30 329.60,212.30 329.80,212.30 330.00,212.30 330.20,212.30 330.40,212.30 330.60,212.30 330.80,212.30 331.00,212.30 331.20,212.30 331.40,212.30 331.60,212.30 331.80,212.30 332.00,212.30 332.20,212.30 332.40,212.30 332.60,212.30 332.80,212.30 333.00,212.30 333.20,212.30 333.40,212.30 333.60,212.30 333.80,212.30 334.00,212.30 334.20,212.30 334.40,212.30 334.60,212.30 334.80,212.30 335.00,212.30 335.20,212.30 335.40,212.30 335.60,212.30 335.80,212.30 336.00,212.30 336.20,212.30 336.40,212.30 336.60,212.30 336.80,212.30 337.00,212.30 337.20,212.30 337.40,212.30 337.60,212.30 337.80,212.30 338.00,212.30 338.20,212.30 338.40,212.30 338.60,212.30 338.80,212.30 339.00,212.30 339.20,212.30 339.40,212.30 339.60,212.30 339.80,212.30 340.00,212.30 340.20,212.30 340.40,212.30 340.60,212.30 340.80,212.30 341.00,212.30 341.20,212.30 341.40,212.30 341.60,212.30 341.80,212.30 342.00,212.30 342.20,212.30 342.40,212.30 342.60,212.30 342.80,212.30 343.00,212.30 343.20,212.30 343.40,212.30 343.60,212.30 343.80,212.30 344.00,212.30 344.20,212.30 344.40,212.30 344.60,212.30 344.80,212.30 345.00,212.30 345.20,212.30 345.40,212.30 345.60,212.30 345.80,212.30 346.00,212.30 346.20,212.30 346.40,212.30 346.60,212.30 346.80,212.30 347.00,212.30 347.20,212.30 347.40,212.29 347.60,212.29 347.80,212.29 348.00,212.28 348.20,212.28 348.40,212.27 348.60,212.27 348.80,212.26 349.00,212.25 349.20,212.23 349.40,212.22 349.60,212.20 349.80,212.18 350.00,212.15 350.20,212.12 350.40,212.09 350.60,212.05 350.80,212.01 351.00,211.96 351.20,211.91 351.40,211.86 351.60,211.80 351.80,211.73 352.00,211.67 352.20,211.61 352.40,211.54 352.60,211.47 352.80,211.41 353.00,211.35 353.20,211.29 353.40,211.24 353.60,211.20 353.80,211.16 354.00,211.13 354.20,211.11 354.40,211.10 354.60,211.10 354.80,211.11 355.00,211.13 355.20,211.16 355.40,211.20 355.60,211.24 355.80,211.29 356.00,211.35 356.20,211.41 356.40,211.47 356.60,211.54 356.80,211.61 357.00,211.67 357.20,211.73 357.40,211.80 357.60,211.86 357.80,211.91 358.00,211.96 358.20,212.01 358.40,212.05 358.60,212.09 358.80,212.12 359.00,212.15 359.20,212.18 359.40,212.20 359.60,212.22 359.80,212.23 360.00,212.25 360.20,212.26 360.40,212.27 360.60,212.27 360.80,212.28 361.00,212.28 361.20,212.29 361.40,212.29 361.60,212.29 361.80,212.30 362.00,212.30 362.20,212.30 362.40,212.30 362.60,212.30 362.80,212.30 363.00,212.30 363.20,212.30 363.40,212.30 363.60,212.30 363.80,212.30 364.00,212.30 364.20,212.30 364.40,212.30 364.60,212.30 364.80,212.30 365.00,212.30 365.20,212.30 365.40,212.30 365.60,212.30 365.80,212.30 366.00,212.30 366.20,212.30 366.40,212.30 366.60,212.30 366.80,212.30 367.00,212.30 367.20,212.30 367.40,212.30 367.60,212.30 367.80,212.30 368.00,212.30 368.20,212.30 368.40,212.30 368.60,212.30 368.80,212.30 369.00,212.30 369.00,212.30" fill="#a8162a" stroke="none" stroke-width="1" />
<polygon points="326.00,212.30 326.00,212.30 326.20,212.30 326.40,212.30 326.60,212.30 326.80,212.30 327.00,212.30 327.20,212.30 327.40,212.30 327.60,212.30 327.80,212.30 328.00,212.30 328.20,212.30 328.40,212.30 328.60,212.30 328.80,212.30 329.00,212.30 329.20,212.30 329.40,212.30 329.60,212.30 329.80,212.30 330.00,212.30 330.20,212.30 330.40,212.30 330.60,212.30 330.80,212.30 331.00,212.30 331.20,212.30 331.40,212.30 331.60,212.30 331.80,212.30 332.00,212.30 332.20,212.30 332.40,212.30 332.60,212.30 332.80,212.30 333.00,212.30 333.20,212.30 333.40,212.30 333.60,212.30 333.80,212.30 334.00,212.30 334.20,212.30 334.40,212.30 334.60,212.30 334.80,212.30 335.00,212.30 335.20,212.30 335.40,212.30 335.60,212.30 335.80,212.30 336.00,212.30 336.20,212.30 336.40,212.30 336.60,212.29 336.80,212.28 337.00,212.25 337.20,212.20 337.40,212.11 337.60,211.94 337.80,211.66 338.00,211.21 338.20,210.50 338.40,209.45 338.60,207.96 338.80,205.95 339.00,203.38 339.20,200.25 339.40,196.68 339.60,192.83 339.80,188.99 340.00,185.49 340.20,182.67 340.40,180.84 340.60,180.20 340.80,180.84 341.00,182.67 341.20,185.49 341.40,188.99 341.60,192.83 341.80,196.68 342.00,200.25 342.20,203.38 342.40,205.95 342.60,207.96 342.80,209.45 343.00,210.50 343.20,211.21 343.40,211.66 343.60,211.94 343.80,212.11 344.00,212.20 344.20,212.25 344.40,212.28 344.60,212.29 344.80,212.30 345.00,212.30 345.20,212.30 345.40,212.30 345.60,212.30 345.80,212.30 346.00,212.30 346.20,212.30 346.40,212.30 346.60,212.30 346.80,212.30 347.00,212.30 347.20,212.30 347.40,212.30 347.60,212.30 347.80,212.30 348.00,212.30 348.20,212.30 348.40,212.30 348.60,212.30 348.80,212.30 349.00,212.30 349.20,212.30 349.40,212.30 349.60,212.30 349.80,212.30 350.00,212.30 350.20,212.30 350.40,212.30 350.60,212.30 350.80,212.30 351.00,212.30 351.20,212.30 351.40,212.30 351.60,212.30 351.80,212.30 352.00,212.30 352.20,212.30 352.40,212.30 352.60,212.30 352.80,212.30 353.00,212.30 353.20,212.30 353.40,212.30 353.60,212.30 353.80,212.30 354.00,212.30 354.20,212.30 354.40,212.30 354.60,212.30 354.80,212.30 355.00,212.30 355.20,212.30 355.40,212.30 355.60,212.30 355.80,212.30 356.00,212.30 356.20,212.30 356.40,212.30 356.60,212.30 356.80,212.30 357.00,212.30 357.20,212.30 357.40,212.30 357.60,212.30 357.80,212.30 358.00,212.30 358.20,212.30 358.40,212.30 358.60,212.30 358.80,212.30 359.00,212.30 359.20,212.30 359.40,212.30 359.60,212.30 359.80,212.30 360.00,212.30 360.20,212.30 360.40,212.30 360.60,212.30 360.80,212.30 361.00,212.30 361.20,212.30 361.40,212.30 361.60,212.30 361.80,212.30 362.00,212.30 362.20,212.30 362.40,212.30 362.60,212.30 362.80,212.30 363.00,212.30 363.20,212.30 363.40,212.30 363.60,212.30 363.80,212.30 364.00,212.30 364.20,212.30 364.40,212.30 364.60,212.30 364.80,212.30 365.00,212.30 365.20,212.30 365.40,212.30 365.60,212.30 365.80,212.30 366.00,212.30 366.20,212.30 366.40,212.30 366.60,212.30 366.80,212.30 367.00,212.30 367.20,212.30 367.40,212.30 367.60,212.30 367.80,212.30 368.00,212.30 368.20,212.30 368.40,212.30 368.60,212.30 368.80,212.30 369.00,212.30 369.00,212.30" fill="#e30e18" stroke="none" stroke-width="1" />
<polyline points="326.00,211.50 326.20,211.50 326.40,211.50 326.60,211.50 326.80,211.50 327.00,211.50 327.20,211.50 327.40,211.50 327.60,211.50 327.80,211.50 328.00,211.50 328.20,211.50 328.40,211.50 328.60,211.50 328.80,211.50 329.00,211.50 329.20,211.50 329.40,211.50 329.60,211.50 329.80,211.50 330.00,211.50 330.20,211.50 330.40,211.50 330.60,211.50 330.80,211.50 331.00,211.50 331.20,211.50 331.40,211.50 331.60,211.50 331.80,211.50 332.00,211.50 332.20,211.50 332.40,211.50 332.60,211.50 332.80,211.50 333.00,211.50 333.20,211.50 333.40,211.50 333.60,211.50 333.80,211.50 334.00,211.50 334.20,211.50 334.40,211.50 334.60,211.50 334.80,211.50 335.00,211.50 335.20,211.50 335.40,211.50 335.60,211.50 335.80,211.50 336.00,211.50 336.20,211.50 336.40,211.50 336.60,211.49 336.80,211.48 337.00,211.45 337.20,211.40 337.40,211.31 337.60,211.14 337.80,210.86 338.00,210.41 338.20,209.70 338.40,208.65 338.60,207.16 338.80,205.15 339.00,202.58 339.20,199.45 339.40,195.88 339.60,192.03 339.80,188.19 340.00,184.69 340.20,181.87 340.40,180.04 340.60,180.20 340.80,180.84 341.00,182.67 341.20,185.49 341.40,188.99 341.60,192.83 341.80,196.68 342.00,200.25 342.20,203.38 342.40,205.95 342.60,207.96 342.80,209.45 343.00,210.40 343.20,210.35 343.40,210.31 343.60,210.28 343.80,210.25 344.00,210.23 344.20,210.21 344.40,210.19 344.60,210.18 344.80,210.17 345.00,210.16 345.20,210.15 345.40,210.14 345.60,210.13 345.80,210.13 346.00,210.12 346.20,210.12 346.40,210.12 346.60,210.11 346.80,210.11 347.00,210.11 347.20,210.10 347.40,210.10 347.60,210.10 347.80,210.09 348.00,210.09 348.20,210.08 348.40,210.08 348.60,210.07 348.80,210.06 349.00,210.05 349.20,210.04 349.40,210.02 349.60,210.00 349.80,209.98 350.00,209.95 350.20,209.92 350.40,209.89 350.60,209.85 350.80,209.81 351.00,209.76 351.20,209.71 351.40,209.66 351.60,209.60 351.80,209.54 352.00,209.47 352.20,209.41 352.40,209.34 352.60,209.27 352.80,209.21 353.00,209.15 353.20,209.27 353.40,209.39 353.60,209.52 353.80,209.66 354.00,209.81 354.20,209.97 354.40,210.13 354.60,210.31 354.80,210.50 355.00,210.69 355.20,210.90 355.40,211.11 355.60,211.24 355.80,211.29 356.00,211.35 356.20,211.41 356.40,211.47 356.60,211.54 356.80,211.61 357.00,211.67 357.20,211.73 357.40,211.80 357.60,211.86 357.80,211.91 358.00,211.96 358.20,212.01 358.40,212.05 358.60,212.09 358.80,212.12 359.00,212.15 359.20,212.18 359.40,212.20 359.60,212.22 359.80,212.23 360.00,212.25 360.20,212.26 360.40,212.27 360.60,212.27 360.80,212.28 361.00,212.28 361.20,212.29 361.40,212.29 361.60,212.29 361.80,212.30 362.00,212.30 362.20,212.30 362.40,212.30 362.60,212.30 362.80,212.30 363.00,212.30 363.20,212.30 363.40,212.30 363.60,212.30 363.80,212.30 364.00,212.30 364.20,212.30 364.40,212.30 364.60,212.30 364.80,212.30 365.00,212.30 365.20,212.30 365.40,212.30 365.60,212.30 365.80,212.30 366.00,212.30 366.20,212.30 366.40,212.30 366.60,212.30 366.80,212.30 367.00,212.30 367.20,212.30 367.40,212.30 367.60,212.30 367.80,212.30 368.00,212.30 368.20,212.30 368.40,212.30 368.60,212.30 368.80,212.30 369.00,212.30" fill="none" stroke="#555" stroke-width="0.45" />
<text x="347.5" y="216.9" font-size="2.8" text-anchor="middle" fill="#e07898" style="stroke:none">Channels (FL2-A)</text>
<text transform="translate(259.85,149.00) rotate(-90)" font-size="4.3" font-weight="bold" text-anchor="middle" fill="#000" >SGC7901</text>
<text transform="translate(260.35,191.70) rotate(-90)" font-size="4.3" font-weight="bold" text-anchor="middle" fill="#000" >BGC823</text>
<text x="289.00" y="224.57" font-size="5.2" font-weight="bold" text-anchor="middle" fill="#000" >miR-NC</text>
<text x="349.00" y="224.57" font-size="5.2" font-weight="bold" text-anchor="middle" fill="#000" >miR-204-5p mimics</text>
<rect x="358.30" y="127.50" width="3.50" height="3.10" fill="#d8101c" />
<rect x="358.30" y="130.70" width="3.50" height="2.90" fill="#9c1424" />
<rect x="358.50" y="133.80" width="3.10" height="2.50" fill="#fff" stroke="#e08090" stroke-width="0.4" />
<text x="364.00" y="129.94" font-size="4.0" font-weight="bold" text-anchor="start" fill="#000"><tspan dy="0.00">G</tspan><tspan dy="1.12" font-size="2.72">1</tspan></text>
<text x="364.00" y="134.04" font-size="4.0" font-weight="bold" text-anchor="start" fill="#000"><tspan dy="0.00">G</tspan><tspan dy="1.12" font-size="2.72">2</tspan><tspan dy="-1.12">–M</tspan></text>
<text x="364.00" y="138.04" font-size="4.0" font-weight="bold" text-anchor="start" fill="#000" >S</text>
<text x="398.40" y="130.74" font-size="11.5" font-weight="bold" text-anchor="start" fill="#000" >E</text>
<line x1="420.20" y1="137.18" x2="420.20" y2="212.10" stroke="#000" stroke-width="1.0" />
<line x1="418.20" y1="211.60" x2="420.20" y2="211.60" stroke="#000" stroke-width="0.8" />
<text x="416.80" y="213.44" font-size="5.1" font-weight="bold" text-anchor="end" fill="#000" >0</text>
<line x1="418.20" y1="193.12" x2="420.20" y2="193.12" stroke="#000" stroke-width="0.8" />
<text x="416.80" y="194.96" font-size="5.1" font-weight="bold" text-anchor="end" fill="#000" >20</text>
<line x1="418.20" y1="174.64" x2="420.20" y2="174.64" stroke="#000" stroke-width="0.8" />
<text x="416.80" y="176.48" font-size="5.1" font-weight="bold" text-anchor="end" fill="#000" >40</text>
<line x1="418.20" y1="156.16" x2="420.20" y2="156.16" stroke="#000" stroke-width="0.8" />
<text x="416.80" y="158.00" font-size="5.1" font-weight="bold" text-anchor="end" fill="#000" >60</text>
<line x1="418.20" y1="137.68" x2="420.20" y2="137.68" stroke="#000" stroke-width="0.8" />
<text x="416.80" y="139.52" font-size="5.1" font-weight="bold" text-anchor="end" fill="#000" >80</text>
<line x1="419.70" y1="211.60" x2="494.00" y2="211.60" stroke="#000" stroke-width="1.0" />
<rect x="424.60" y="164.75" width="8.60" height="46.85" fill="#fff" stroke="#555" stroke-width="0.6" />
<line x1="428.90" y1="164.75" x2="428.90" y2="158.01" stroke="#000" stroke-width="1.0" />
<line x1="426.60" y1="158.01" x2="431.20" y2="158.01" stroke="#000" stroke-width="1.0" />
<rect x="433.20" y="155.51" width="8.60" height="56.09" fill="#a597aa" stroke="#444" stroke-width="0.6" />
<line x1="437.50" y1="155.51" x2="437.50" y2="148.49" stroke="#000" stroke-width="1.0" />
<line x1="435.10" y1="148.49" x2="439.90" y2="148.49" stroke="#000" stroke-width="1.0" />
<circle cx="435.85" cy="144.99" r="1.00" fill="#000"/>
<circle cx="439.15" cy="144.99" r="1.00" fill="#000"/>
<line x1="433.20" y1="211.60" x2="433.20" y2="213.60" stroke="#000" stroke-width="0.8" />
<rect x="449.30" y="175.38" width="8.60" height="36.22" fill="#fff" stroke="#555" stroke-width="0.6" />
<line x1="453.60" y1="175.38" x2="453.60" y2="168.73" stroke="#000" stroke-width="1.0" />
<line x1="451.30" y1="168.73" x2="455.90" y2="168.73" stroke="#000" stroke-width="1.0" />
<rect x="457.90" y="188.04" width="8.60" height="23.56" fill="#a597aa" stroke="#444" stroke-width="0.6" />
<line x1="462.20" y1="188.04" x2="462.20" y2="181.85" stroke="#000" stroke-width="1.0" />
<line x1="459.80" y1="181.85" x2="464.60" y2="181.85" stroke="#000" stroke-width="1.0" />
<circle cx="460.55" cy="178.35" r="1.00" fill="#000"/>
<circle cx="463.85" cy="178.35" r="1.00" fill="#000"/>
<line x1="457.90" y1="211.60" x2="457.90" y2="213.60" stroke="#000" stroke-width="0.8" />
<rect x="474.00" y="201.44" width="8.60" height="10.16" fill="#fff" stroke="#555" stroke-width="0.6" />
<line x1="478.30" y1="201.44" x2="478.30" y2="197.37" stroke="#000" stroke-width="1.0" />
<line x1="476.00" y1="197.37" x2="480.60" y2="197.37" stroke="#000" stroke-width="1.0" />
<rect x="482.60" y="199.59" width="8.60" height="12.01" fill="#a597aa" stroke="#444" stroke-width="0.6" />
<line x1="486.90" y1="199.59" x2="486.90" y2="198.66" stroke="#000" stroke-width="1.0" />
<line x1="484.50" y1="198.66" x2="489.30" y2="198.66" stroke="#000" stroke-width="1.0" />
<line x1="482.60" y1="211.60" x2="482.60" y2="213.60" stroke="#000" stroke-width="0.8" />
<text x="433.20" y="219.57" font-size="5.2" font-weight="bold" text-anchor="middle" fill="#000"><tspan dy="0.00">G</tspan><tspan dy="1.46" font-size="3.54">0</tspan><tspan dy="-1.46">–G</tspan><tspan dy="1.46" font-size="3.54">1</tspan></text>
<text x="457.90" y="219.57" font-size="5.2" font-weight="bold" text-anchor="middle" fill="#000" >S</text>
<text x="482.60" y="219.57" font-size="5.2" font-weight="bold" text-anchor="middle" fill="#000"><tspan dy="0.00">G</tspan><tspan dy="1.46" font-size="3.54">2</tspan><tspan dy="-1.46">–M</tspan></text>
<text x="457.80" y="129.42" font-size="7.0" font-weight="bold" text-anchor="middle" fill="#000" >SGC7901</text>
<rect x="450.60" y="139.10" width="8.40" height="3.40" fill="#fff" stroke="#777" stroke-width="0.7" />
<text x="463.00" y="142.96" font-size="6.0" font-weight="bold" text-anchor="start" fill="#222" style="stroke-width:0.12px">miR-NC</text>
<rect x="450.60" y="147.00" width="8.40" height="3.40" fill="#9d959f" stroke="#777" stroke-width="0.7" />
<text x="463.00" y="150.86" font-size="6.0" font-weight="bold" text-anchor="start" fill="#222" style="stroke-width:0.12px">miR-204-5p mimics</text>
<text transform="translate(404.94,176.40) rotate(-90)" font-size="5.4" font-weight="bold" text-anchor="middle" fill="#000" >Cell rate (%)</text>
<line x1="422.00" y1="241.70" x2="422.00" y2="316.70" stroke="#000" stroke-width="1.0" />
<line x1="420.00" y1="316.20" x2="422.00" y2="316.20" stroke="#000" stroke-width="0.8" />
<text x="418.60" y="318.04" font-size="5.1" font-weight="bold" text-anchor="end" fill="#000" >0</text>
<line x1="420.00" y1="297.70" x2="422.00" y2="297.70" stroke="#000" stroke-width="0.8" />
<text x="418.60" y="299.54" font-size="5.1" font-weight="bold" text-anchor="end" fill="#000" >20</text>
<line x1="420.00" y1="279.20" x2="422.00" y2="279.20" stroke="#000" stroke-width="0.8" />
<text x="418.60" y="281.04" font-size="5.1" font-weight="bold" text-anchor="end" fill="#000" >40</text>
<line x1="420.00" y1="260.70" x2="422.00" y2="260.70" stroke="#000" stroke-width="0.8" />
<text x="418.60" y="262.54" font-size="5.1" font-weight="bold" text-anchor="end" fill="#000" >60</text>
<line x1="420.00" y1="242.20" x2="422.00" y2="242.20" stroke="#000" stroke-width="0.8" />
<text x="418.60" y="244.04" font-size="5.1" font-weight="bold" text-anchor="end" fill="#000" >80</text>
<line x1="421.50" y1="316.20" x2="496.00" y2="316.20" stroke="#000" stroke-width="1.0" />
<rect x="425.20" y="273.37" width="8.60" height="42.83" fill="#fff" stroke="#555" stroke-width="0.6" />
<line x1="429.50" y1="273.37" x2="429.50" y2="269.58" stroke="#000" stroke-width="1.0" />
<line x1="427.20" y1="269.58" x2="431.80" y2="269.58" stroke="#000" stroke-width="1.0" />
<rect x="433.80" y="263.01" width="8.60" height="53.19" fill="#a597aa" stroke="#444" stroke-width="0.6" />
<line x1="438.10" y1="263.01" x2="438.10" y2="259.13" stroke="#000" stroke-width="1.0" />
<line x1="435.70" y1="259.13" x2="440.50" y2="259.13" stroke="#000" stroke-width="1.0" />
<circle cx="436.45" cy="255.63" r="1.00" fill="#000"/>
<circle cx="439.75" cy="255.63" r="1.00" fill="#000"/>
<line x1="433.80" y1="316.20" x2="433.80" y2="318.20" stroke="#000" stroke-width="0.8" />
<rect x="450.10" y="279.85" width="8.60" height="36.35" fill="#fff" stroke="#555" stroke-width="0.6" />
<line x1="454.40" y1="279.85" x2="454.40" y2="277.81" stroke="#000" stroke-width="1.0" />
<line x1="452.10" y1="277.81" x2="456.70" y2="277.81" stroke="#000" stroke-width="1.0" />
<rect x="458.70" y="288.17" width="8.60" height="28.03" fill="#a597aa" stroke="#444" stroke-width="0.6" />
<line x1="463.00" y1="288.17" x2="463.00" y2="285.21" stroke="#000" stroke-width="1.0" />
<line x1="460.60" y1="285.21" x2="465.40" y2="285.21" stroke="#000" stroke-width="1.0" />
<circle cx="461.35" cy="281.71" r="1.00" fill="#000"/>
<circle cx="464.65" cy="281.71" r="1.00" fill="#000"/>
<line x1="458.70" y1="316.20" x2="458.70" y2="318.20" stroke="#000" stroke-width="0.8" />
<rect x="474.70" y="303.53" width="8.60" height="12.67" fill="#fff" stroke="#555" stroke-width="0.6" />
<line x1="479.00" y1="303.53" x2="479.00" y2="298.53" stroke="#000" stroke-width="1.0" />
<line x1="476.70" y1="298.53" x2="481.30" y2="298.53" stroke="#000" stroke-width="1.0" />
<rect x="483.30" y="306.49" width="8.60" height="9.71" fill="#a597aa" stroke="#444" stroke-width="0.6" />
<line x1="487.60" y1="306.49" x2="487.60" y2="300.47" stroke="#000" stroke-width="1.0" />
<line x1="485.20" y1="300.47" x2="490.00" y2="300.47" stroke="#000" stroke-width="1.0" />
<line x1="483.30" y1="316.20" x2="483.30" y2="318.20" stroke="#000" stroke-width="0.8" />
<text x="433.80" y="324.17" font-size="5.2" font-weight="bold" text-anchor="middle" fill="#000"><tspan dy="0.00">G</tspan><tspan dy="1.46" font-size="3.54">0</tspan><tspan dy="-1.46">–G</tspan><tspan dy="1.46" font-size="3.54">1</tspan></text>
<text x="458.70" y="324.17" font-size="5.2" font-weight="bold" text-anchor="middle" fill="#000" >S</text>
<text x="483.30" y="324.17" font-size="5.2" font-weight="bold" text-anchor="middle" fill="#000"><tspan dy="0.00">G</tspan><tspan dy="1.46" font-size="3.54">2</tspan><tspan dy="-1.46">–M</tspan></text>
<text x="458.70" y="234.52" font-size="7.0" font-weight="bold" text-anchor="middle" fill="#000" >BGC823</text>
<rect x="450.60" y="244.20" width="8.40" height="3.40" fill="#fff" stroke="#777" stroke-width="0.7" />
<text x="463.00" y="248.06" font-size="6.0" font-weight="bold" text-anchor="start" fill="#222" style="stroke-width:0.12px">miR-NC</text>
<rect x="450.60" y="252.10" width="8.40" height="3.40" fill="#9d959f" stroke="#777" stroke-width="0.7" />
<text x="463.00" y="255.96" font-size="6.0" font-weight="bold" text-anchor="start" fill="#222" style="stroke-width:0.12px">miR-204-5p mimics</text>
<text transform="translate(406.89,279.20) rotate(-90)" font-size="5.8" font-weight="bold" text-anchor="middle" fill="#000" >Cell rate (%)</text>
<text x="0.80" y="234.92" font-size="12" font-weight="bold" text-anchor="start" fill="#000" >F</text>
<line x1="28.60" y1="240.70" x2="28.60" y2="308.30" stroke="#000" stroke-width="1.1" />
<line x1="26.60" y1="307.80" x2="28.60" y2="307.80" stroke="#000" stroke-width="0.9" />
<text x="26.20" y="309.60" font-size="5.0" font-weight="bold" text-anchor="end" fill="#000" >0.0</text>
<line x1="26.60" y1="300.40" x2="28.60" y2="300.40" stroke="#000" stroke-width="0.9" />
<text x="26.20" y="302.20" font-size="5.0" font-weight="bold" text-anchor="end" fill="#000" >0.5</text>
<line x1="26.60" y1="293.00" x2="28.60" y2="293.00" stroke="#000" stroke-width="0.9" />
<text x="26.20" y="294.80" font-size="5.0" font-weight="bold" text-anchor="end" fill="#000" >1.0</text>
<line x1="26.60" y1="285.60" x2="28.60" y2="285.60" stroke="#000" stroke-width="0.9" />
<text x="26.20" y="287.40" font-size="5.0" font-weight="bold" text-anchor="end" fill="#000" >1.5</text>
<line x1="26.60" y1="278.20" x2="28.60" y2="278.20" stroke="#000" stroke-width="0.9" />
<text x="26.20" y="280.00" font-size="5.0" font-weight="bold" text-anchor="end" fill="#000" >2.0</text>
<line x1="26.60" y1="270.80" x2="28.60" y2="270.80" stroke="#000" stroke-width="0.9" />
<text x="26.20" y="272.60" font-size="5.0" font-weight="bold" text-anchor="end" fill="#000" >2.5</text>
<line x1="26.60" y1="263.40" x2="28.60" y2="263.40" stroke="#000" stroke-width="0.9" />
<text x="26.20" y="265.20" font-size="5.0" font-weight="bold" text-anchor="end" fill="#000" >3.0</text>
<line x1="26.60" y1="256.00" x2="28.60" y2="256.00" stroke="#000" stroke-width="0.9" />
<text x="26.20" y="257.80" font-size="5.0" font-weight="bold" text-anchor="end" fill="#000" >3.5</text>
<line x1="26.60" y1="248.60" x2="28.60" y2="248.60" stroke="#000" stroke-width="0.9" />
<text x="26.20" y="250.40" font-size="5.0" font-weight="bold" text-anchor="end" fill="#000" >4.0</text>
<line x1="26.60" y1="241.20" x2="28.60" y2="241.20" stroke="#000" stroke-width="0.9" />
<text x="26.20" y="243.00" font-size="5.0" font-weight="bold" text-anchor="end" fill="#000" >4.5</text>
<line x1="28.10" y1="307.80" x2="132.00" y2="307.80" stroke="#000" stroke-width="1.1" />
<line x1="29.20" y1="307.80" x2="29.20" y2="309.80" stroke="#000" stroke-width="0.9" />
<text x="29.20" y="315.77" font-size="5.2" font-weight="bold" text-anchor="middle" fill="#000" >0</text>
<line x1="54.57" y1="307.80" x2="54.57" y2="309.80" stroke="#000" stroke-width="0.9" />
<text x="54.57" y="315.77" font-size="5.2" font-weight="bold" text-anchor="middle" fill="#000" >24</text>
<line x1="79.94" y1="307.80" x2="79.94" y2="309.80" stroke="#000" stroke-width="0.9" />
<text x="79.94" y="315.77" font-size="5.2" font-weight="bold" text-anchor="middle" fill="#000" >48</text>
<line x1="105.30" y1="307.80" x2="105.30" y2="309.80" stroke="#000" stroke-width="0.9" />
<text x="105.30" y="315.77" font-size="5.2" font-weight="bold" text-anchor="middle" fill="#000" >72</text>
<line x1="130.67" y1="307.80" x2="130.67" y2="309.80" stroke="#000" stroke-width="0.9" />
<text x="130.67" y="315.77" font-size="5.2" font-weight="bold" text-anchor="middle" fill="#000" >96</text>
<text x="80.00" y="322.92" font-size="5.6" font-weight="bold" text-anchor="middle" fill="#000" >Incubation time (hour)</text>
<text transform="translate(12.44,269.40) rotate(-90)" font-size="5.4" font-weight="bold" text-anchor="middle" fill="#000" >Cell vitality (OD 450 nm)</text>
<polyline points="29.20,300.40 54.57,294.04 79.94,283.23 105.30,275.24 130.67,269.32" fill="none" stroke="#2233cc" stroke-width="0.9" />
<line x1="29.20" y1="299.96" x2="29.20" y2="300.84" stroke="#2233cc" stroke-width="0.8" />
<line x1="28.00" y1="299.96" x2="30.40" y2="299.96" stroke="#2233cc" stroke-width="0.8" />
<line x1="28.00" y1="300.84" x2="30.40" y2="300.84" stroke="#2233cc" stroke-width="0.8" />
<rect x="28.00" y="299.20" width="2.40" height="2.40" fill="#2233cc" />
<line x1="54.57" y1="293.15" x2="54.57" y2="294.92" stroke="#2233cc" stroke-width="0.8" />
<line x1="53.37" y1="293.15" x2="55.77" y2="293.15" stroke="#2233cc" stroke-width="0.8" />
<line x1="53.37" y1="294.92" x2="55.77" y2="294.92" stroke="#2233cc" stroke-width="0.8" />
<rect x="53.37" y="292.84" width="2.40" height="2.40" fill="#2233cc" />
<line x1="79.94" y1="281.75" x2="79.94" y2="284.71" stroke="#2233cc" stroke-width="0.8" />
<line x1="78.74" y1="281.75" x2="81.14" y2="281.75" stroke="#2233cc" stroke-width="0.8" />
<line x1="78.74" y1="284.71" x2="81.14" y2="284.71" stroke="#2233cc" stroke-width="0.8" />
<rect x="78.74" y="282.03" width="2.40" height="2.40" fill="#2233cc" />
<line x1="105.30" y1="274.06" x2="105.30" y2="276.42" stroke="#2233cc" stroke-width="0.8" />
<line x1="104.10" y1="274.06" x2="106.50" y2="274.06" stroke="#2233cc" stroke-width="0.8" />
<line x1="104.10" y1="276.42" x2="106.50" y2="276.42" stroke="#2233cc" stroke-width="0.8" />
<rect x="104.10" y="274.04" width="2.40" height="2.40" fill="#2233cc" />
<line x1="130.67" y1="267.84" x2="130.67" y2="270.80" stroke="#2233cc" stroke-width="0.8" />
<line x1="129.47" y1="267.84" x2="131.87" y2="267.84" stroke="#2233cc" stroke-width="0.8" />
<line x1="129.47" y1="270.80" x2="131.87" y2="270.80" stroke="#2233cc" stroke-width="0.8" />
<rect x="129.47" y="268.12" width="2.40" height="2.40" fill="#2233cc" />
<polyline points="29.20,300.40 54.57,293.30 79.94,278.35 105.30,271.24 130.67,263.99" fill="none" stroke="#7ee04a" stroke-width="0.9" />
<line x1="29.20" y1="299.96" x2="29.20" y2="300.84" stroke="#7ee04a" stroke-width="0.8" />
<line x1="28.00" y1="299.96" x2="30.40" y2="299.96" stroke="#7ee04a" stroke-width="0.8" />
<line x1="28.00" y1="300.84" x2="30.40" y2="300.84" stroke="#7ee04a" stroke-width="0.8" />
<rect x="28.00" y="299.20" width="2.40" height="2.40" fill="#7ee04a" />
<line x1="54.57" y1="292.41" x2="54.57" y2="294.18" stroke="#7ee04a" stroke-width="0.8" />
<line x1="53.37" y1="292.41" x2="55.77" y2="292.41" stroke="#7ee04a" stroke-width="0.8" />
<line x1="53.37" y1="294.18" x2="55.77" y2="294.18" stroke="#7ee04a" stroke-width="0.8" />
<rect x="53.37" y="292.10" width="2.40" height="2.40" fill="#7ee04a" />
<line x1="79.94" y1="276.87" x2="79.94" y2="279.83" stroke="#7ee04a" stroke-width="0.8" />
<line x1="78.74" y1="276.87" x2="81.14" y2="276.87" stroke="#7ee04a" stroke-width="0.8" />
<line x1="78.74" y1="279.83" x2="81.14" y2="279.83" stroke="#7ee04a" stroke-width="0.8" />
<rect x="78.74" y="277.15" width="2.40" height="2.40" fill="#7ee04a" />
<line x1="105.30" y1="270.06" x2="105.30" y2="272.43" stroke="#7ee04a" stroke-width="0.8" />
<line x1="104.10" y1="270.06" x2="106.50" y2="270.06" stroke="#7ee04a" stroke-width="0.8" />
<line x1="104.10" y1="272.43" x2="106.50" y2="272.43" stroke="#7ee04a" stroke-width="0.8" />
<rect x="104.10" y="270.04" width="2.40" height="2.40" fill="#7ee04a" />
<line x1="130.67" y1="262.51" x2="130.67" y2="265.47" stroke="#7ee04a" stroke-width="0.8" />
<line x1="129.47" y1="262.51" x2="131.87" y2="262.51" stroke="#7ee04a" stroke-width="0.8" />
<line x1="129.47" y1="265.47" x2="131.87" y2="265.47" stroke="#7ee04a" stroke-width="0.8" />
<rect x="129.47" y="262.79" width="2.40" height="2.40" fill="#7ee04a" />
<polyline points="29.20,300.40 54.57,295.07 79.94,275.68 105.30,267.25 130.67,259.70" fill="none" stroke="#111" stroke-width="0.9" />
<line x1="29.20" y1="299.96" x2="29.20" y2="300.84" stroke="#111" stroke-width="0.8" />
<line x1="28.00" y1="299.96" x2="30.40" y2="299.96" stroke="#111" stroke-width="0.8" />
<line x1="28.00" y1="300.84" x2="30.40" y2="300.84" stroke="#111" stroke-width="0.8" />
<rect x="28.00" y="299.20" width="2.40" height="2.40" fill="#111" />
<line x1="54.57" y1="294.18" x2="54.57" y2="295.96" stroke="#111" stroke-width="0.8" />
<line x1="53.37" y1="294.18" x2="55.77" y2="294.18" stroke="#111" stroke-width="0.8" />
<line x1="53.37" y1="295.96" x2="55.77" y2="295.96" stroke="#111" stroke-width="0.8" />
<rect x="53.37" y="293.87" width="2.40" height="2.40" fill="#111" />
<line x1="79.94" y1="274.20" x2="79.94" y2="277.16" stroke="#111" stroke-width="0.8" />
<line x1="78.74" y1="274.20" x2="81.14" y2="274.20" stroke="#111" stroke-width="0.8" />
<line x1="78.74" y1="277.16" x2="81.14" y2="277.16" stroke="#111" stroke-width="0.8" />
<rect x="78.74" y="274.48" width="2.40" height="2.40" fill="#111" />
<line x1="105.30" y1="266.06" x2="105.30" y2="268.43" stroke="#111" stroke-width="0.8" />
<line x1="104.10" y1="266.06" x2="106.50" y2="266.06" stroke="#111" stroke-width="0.8" />
<line x1="104.10" y1="268.43" x2="106.50" y2="268.43" stroke="#111" stroke-width="0.8" />
<rect x="104.10" y="266.05" width="2.40" height="2.40" fill="#111" />
<line x1="130.67" y1="258.22" x2="130.67" y2="261.18" stroke="#111" stroke-width="0.8" />
<line x1="129.47" y1="258.22" x2="131.87" y2="258.22" stroke="#111" stroke-width="0.8" />
<line x1="129.47" y1="261.18" x2="131.87" y2="261.18" stroke="#111" stroke-width="0.8" />
<rect x="129.47" y="258.50" width="2.40" height="2.40" fill="#111" />
<polyline points="29.20,300.40 54.57,291.67 79.94,271.98 105.30,261.33 130.67,250.08" fill="none" stroke="#e4322c" stroke-width="0.9" />
<line x1="29.20" y1="299.96" x2="29.20" y2="300.84" stroke="#e4322c" stroke-width="0.8" />
<line x1="28.00" y1="299.96" x2="30.40" y2="299.96" stroke="#e4322c" stroke-width="0.8" />
<line x1="28.00" y1="300.84" x2="30.40" y2="300.84" stroke="#e4322c" stroke-width="0.8" />
<rect x="28.00" y="299.20" width="2.40" height="2.40" fill="#e4322c" />
<line x1="54.57" y1="288.71" x2="54.57" y2="294.63" stroke="#e4322c" stroke-width="0.8" />
<line x1="53.37" y1="288.71" x2="55.77" y2="288.71" stroke="#e4322c" stroke-width="0.8" />
<line x1="53.37" y1="294.63" x2="55.77" y2="294.63" stroke="#e4322c" stroke-width="0.8" />
<rect x="53.37" y="290.47" width="2.40" height="2.40" fill="#e4322c" />
<line x1="79.94" y1="269.76" x2="79.94" y2="274.20" stroke="#e4322c" stroke-width="0.8" />
<line x1="78.74" y1="269.76" x2="81.14" y2="269.76" stroke="#e4322c" stroke-width="0.8" />
<line x1="78.74" y1="274.20" x2="81.14" y2="274.20" stroke="#e4322c" stroke-width="0.8" />
<rect x="78.74" y="270.78" width="2.40" height="2.40" fill="#e4322c" />
<line x1="105.30" y1="259.55" x2="105.30" y2="263.10" stroke="#e4322c" stroke-width="0.8" />
<line x1="104.10" y1="259.55" x2="106.50" y2="259.55" stroke="#e4322c" stroke-width="0.8" />
<line x1="104.10" y1="263.10" x2="106.50" y2="263.10" stroke="#e4322c" stroke-width="0.8" />
<rect x="104.10" y="260.13" width="2.40" height="2.40" fill="#e4322c" />
<line x1="130.67" y1="248.60" x2="130.67" y2="251.56" stroke="#e4322c" stroke-width="0.8" />
<line x1="129.47" y1="248.60" x2="131.87" y2="248.60" stroke="#e4322c" stroke-width="0.8" />
<line x1="129.47" y1="251.56" x2="131.87" y2="251.56" stroke="#e4322c" stroke-width="0.8" />
<rect x="129.47" y="248.88" width="2.40" height="2.40" fill="#e4322c" />
<circle cx="78.55" cy="266.00" r="0.85" fill="#000"/>
<circle cx="81.45" cy="266.00" r="0.85" fill="#000"/>
<circle cx="80.00" cy="288.00" r="0.85" fill="#000"/>
<circle cx="105.90" cy="256.60" r="0.85" fill="#000"/>
<circle cx="110.50" cy="271.30" r="0.85" fill="#000"/>
<circle cx="105.90" cy="280.60" r="0.85" fill="#000"/>
<circle cx="129.25" cy="244.60" r="0.85" fill="#000"/>
<circle cx="132.15" cy="244.60" r="0.85" fill="#000"/>
<circle cx="135.55" cy="263.10" r="0.85" fill="#000"/>
<circle cx="138.45" cy="263.10" r="0.85" fill="#000"/>
<circle cx="129.25" cy="273.90" r="0.85" fill="#000"/>
<circle cx="132.15" cy="273.90" r="0.85" fill="#000"/>
<line x1="35.50" y1="241.30" x2="42.60" y2="241.30" stroke="#111" stroke-width="1" />
<rect x="37.85" y="240.10" width="2.40" height="2.40" fill="#111" />
<text x="46.60" y="243.28" font-size="5.5" font-weight="bold" text-anchor="start" fill="#000" >Scrambled</text>
<line x1="35.50" y1="246.60" x2="42.60" y2="246.60" stroke="#2233cc" stroke-width="1" />
<rect x="37.85" y="245.40" width="2.40" height="2.40" fill="#2233cc" />
<text x="46.60" y="248.58" font-size="5.5" font-weight="bold" text-anchor="start" fill="#000" >si-LINC01234 2#</text>
<line x1="35.50" y1="251.90" x2="42.60" y2="251.90" stroke="#e4322c" stroke-width="1" />
<rect x="37.85" y="250.70" width="2.40" height="2.40" fill="#e4322c" />
<text x="46.60" y="253.88" font-size="5.5" font-weight="bold" text-anchor="start" fill="#000" >miR-204-5p-inhibitor</text>
<line x1="35.50" y1="257.50" x2="42.60" y2="257.50" stroke="#7ee04a" stroke-width="1" />
<rect x="37.85" y="256.30" width="2.40" height="2.40" fill="#7ee04a" />
<text x="46.60" y="259.48" font-size="5.5" font-weight="bold" text-anchor="start" fill="#000" >2# + miR-204-5p-in</text>
<text x="144.90" y="234.13" font-size="11.2" font-weight="bold" text-anchor="start" fill="#000" >G</text>
<text x="176.30" y="233.29" font-size="7.2" font-weight="normal" text-anchor="middle" fill="#000"  style="stroke-width:0.06px">Scrambled</text>
<text x="226.00" y="233.22" font-size="7.0" font-weight="normal" text-anchor="middle" fill="#000"  style="stroke-width:0.06px">si-LINC01234 2#</text>
<text x="177.00" y="327.92" font-size="7.0" font-weight="normal" text-anchor="middle" fill="#000"  style="stroke-width:0.06px">miR-204-5p</text>
<text x="177.00" y="335.12" font-size="7.0" font-weight="normal" text-anchor="middle" fill="#000"  style="stroke-width:0.06px">inhibitor</text>
<text x="226.00" y="327.92" font-size="7.0" font-weight="normal" text-anchor="middle" fill="#000"  style="stroke-width:0.06px">si-LINC01234 2#</text>
<text x="226.00" y="335.12" font-size="7.0" font-weight="normal" text-anchor="middle" fill="#000"  style="stroke-width:0.06px">+miR-204-5p-in</text>
<text transform="translate(149.07,275.60) rotate(-90)" font-size="5.2" font-weight="bold" text-anchor="middle" fill="#000" >SGC7901</text>
<linearGradient id="g155235" x1="0" y1="0" x2="1" y2="0"><stop offset="0" stop-color="#9e9ea2"/><stop offset="0.5" stop-color="#b4b4b8"/><stop offset="1" stop-color="#a4a4a8"/></linearGradient>
<rect x="155.00" y="235.20" width="43.60" height="42.00" fill="url(#g155235)" />
<ellipse cx="176.8" cy="255.6" rx="21.4" ry="20.099999999999998" fill="#e2e2e4"/>
<ellipse cx="176.8" cy="255.6" rx="20.5" ry="19.2" fill="#aaa6cc"/>
<clipPath id="cc155235"><ellipse cx="176.8" cy="255.6" rx="20.2" ry="18.9"/></clipPath>
<g clip-path="url(#cc155235)">
<g fill="#8a889a">
<circle cx="179.6" cy="253.6" r="1.2" fill-opacity="0.22"/>
<circle cx="177.2" cy="251.8" r="0.8" fill-opacity="0.09"/>
<circle cx="185.9" cy="250.9" r="1.5" fill-opacity="0.23"/>
<circle cx="171.1" cy="264.1" r="1.8" fill-opacity="0.18"/>
<circle cx="175.5" cy="271.8" r="1.1" fill-opacity="0.13"/>
<circle cx="194.6" cy="256.0" r="1.7" fill-opacity="0.19"/>
<circle cx="179.8" cy="254.6" r="1.0" fill-opacity="0.16"/>
<circle cx="196.1" cy="250.6" r="1.2" fill-opacity="0.12"/>
<circle cx="163.8" cy="261.3" r="1.7" fill-opacity="0.11"/>
<circle cx="182.5" cy="240.0" r="1.6" fill-opacity="0.21"/>
<circle cx="167.6" cy="248.7" r="1.1" fill-opacity="0.14"/>
<circle cx="178.0" cy="250.3" r="1.0" fill-opacity="0.21"/>
<circle cx="176.9" cy="260.5" r="0.8" fill-opacity="0.17"/>
<circle cx="167.5" cy="272.5" r="1.7" fill-opacity="0.25"/>
<circle cx="176.2" cy="261.1" r="0.9" fill-opacity="0.16"/>
<circle cx="173.4" cy="243.2" r="1.0" fill-opacity="0.15"/>
<circle cx="164.6" cy="244.8" r="1.5" fill-opacity="0.22"/>
<circle cx="173.1" cy="249.9" r="1.6" fill-opacity="0.13"/>
<circle cx="165.4" cy="250.8" r="1.5" fill-opacity="0.11"/>
<circle cx="177.0" cy="265.1" r="1.0" fill-opacity="0.23"/>
<circle cx="166.5" cy="250.4" r="1.2" fill-opacity="0.25"/>
<circle cx="166.9" cy="255.2" r="1.6" fill-opacity="0.19"/>
<circle cx="183.3" cy="255.3" r="1.3" fill-opacity="0.22"/>
<circle cx="187.4" cy="240.1" r="0.8" fill-opacity="0.13"/>
<circle cx="183.3" cy="261.3" r="1.8" fill-opacity="0.18"/>
<circle cx="188.1" cy="250.6" r="1.7" fill-opacity="0.16"/>
<circle cx="175.7" cy="272.5" r="1.7" fill-opacity="0.10"/>
<circle cx="163.5" cy="247.0" r="1.0" fill-opacity="0.14"/>
<circle cx="182.6" cy="262.3" r="1.1" fill-opacity="0.18"/>
<circle cx="171.4" cy="248.5" r="0.8" fill-opacity="0.14"/>
<circle cx="173.0" cy="248.2" r="1.1" fill-opacity="0.11"/>
<circle cx="181.1" cy="242.0" r="0.9" fill-opacity="0.10"/>
<circle cx="164.8" cy="264.3" r="1.4" fill-opacity="0.10"/>
<circle cx="185.6" cy="269.3" r="1.2" fill-opacity="0.13"/>
<circle cx="169.7" cy="273.1" r="1.1" fill-opacity="0.18"/>
<circle cx="168.5" cy="265.3" r="1.7" fill-opacity="0.25"/>
<circle cx="170.8" cy="262.0" r="1.5" fill-opacity="0.11"/>
<circle cx="196.3" cy="256.3" r="1.2" fill-opacity="0.22"/>
<circle cx="160.8" cy="265.6" r="1.3" fill-opacity="0.11"/>
<circle cx="192.0" cy="256.9" r="1.4" fill-opacity="0.23"/>
</g>
<g fill="#3c3888">
<circle cx="190.5" cy="263.6" r="0.63" fill-opacity="0.7"/>
<circle cx="183.4" cy="263.7" r="0.86" fill-opacity="0.7"/>
<circle cx="187.9" cy="264.1" r="0.88" fill-opacity="0.9"/>
<circle cx="179.2" cy="262.1" r="0.89" fill-opacity="1.0"/>
<circle cx="172.1" cy="256.1" r="0.56" fill-opacity="1.0"/>
<circle cx="190.1" cy="247.0" r="0.44" fill-opacity="0.9"/>
<circle cx="179.0" cy="246.8" r="0.82" fill-opacity="0.7"/>
<circle cx="181.0" cy="248.4" r="0.57" fill-opacity="0.6"/>
<circle cx="164.2" cy="254.3" r="0.49" fill-opacity="0.5"/>
<circle cx="173.7" cy="237.6" r="0.66" fill-opacity="0.5"/>
<circle cx="177.0" cy="251.9" r="0.41" fill-opacity="0.9"/>
<circle cx="164.5" cy="247.3" r="0.52" fill-opacity="0.8"/>
<circle cx="163.1" cy="262.7" r="0.71" fill-opacity="0.7"/>
<circle cx="164.0" cy="259.8" r="0.69" fill-opacity="0.5"/>
<circle cx="166.9" cy="256.2" r="0.78" fill-opacity="0.9"/>
<circle cx="168.4" cy="257.7" r="0.41" fill-opacity="0.7"/>
<circle cx="186.1" cy="264.7" r="0.59" fill-opacity="0.5"/>
<circle cx="172.7" cy="255.4" r="0.40" fill-opacity="0.8"/>
<circle cx="174.9" cy="238.8" r="0.38" fill-opacity="0.7"/>
<circle cx="164.2" cy="255.3" r="0.42" fill-opacity="1.0"/>
<circle cx="189.5" cy="240.6" r="0.80" fill-opacity="0.9"/>
<circle cx="183.8" cy="273.4" r="0.88" fill-opacity="0.7"/>
<circle cx="184.0" cy="251.7" r="0.86" fill-opacity="0.9"/>
<circle cx="187.9" cy="260.2" r="0.44" fill-opacity="0.9"/>
<circle cx="185.4" cy="249.5" r="0.43" fill-opacity="0.9"/>
<circle cx="157.1" cy="255.3" r="0.49" fill-opacity="0.6"/>
<circle cx="165.2" cy="255.2" r="0.45" fill-opacity="0.5"/>
<circle cx="187.3" cy="271.4" r="0.84" fill-opacity="0.8"/>
<circle cx="185.7" cy="270.4" r="0.64" fill-opacity="0.5"/>
<circle cx="168.7" cy="246.9" r="0.66" fill-opacity="0.9"/>
<circle cx="159.9" cy="246.9" r="0.90" fill-opacity="0.5"/>
<circle cx="168.0" cy="246.8" r="0.50" fill-opacity="0.9"/>
<circle cx="192.3" cy="254.7" r="0.77" fill-opacity="0.6"/>
<circle cx="168.7" cy="258.5" r="0.38" fill-opacity="0.9"/>
<circle cx="181.2" cy="246.8" r="0.89" fill-opacity="0.8"/>
<circle cx="162.5" cy="247.6" r="0.35" fill-opacity="0.6"/>
<circle cx="184.5" cy="257.2" r="0.59" fill-opacity="0.8"/>
<circle cx="157.5" cy="254.2" r="0.47" fill-opacity="0.5"/>
<circle cx="175.0" cy="253.2" r="0.55" fill-opacity="0.5"/>
<circle cx="186.4" cy="262.7" r="0.67" fill-opacity="0.6"/>
<circle cx="169.0" cy="251.0" r="0.61" fill-opacity="0.8"/>
<circle cx="189.9" cy="269.5" r="0.43" fill-opacity="0.6"/>
<circle cx="190.3" cy="264.3" r="0.78" fill-opacity="0.9"/>
<circle cx="168.2" cy="261.3" r="0.70" fill-opacity="0.5"/>
<circle cx="165.6" cy="251.3" r="0.59" fill-opacity="0.8"/>
<circle cx="193.0" cy="249.3" r="0.85" fill-opacity="0.6"/>
<circle cx="191.2" cy="259.4" r="0.48" fill-opacity="0.7"/>
<circle cx="193.7" cy="261.7" r="0.65" fill-opacity="0.5"/>
<circle cx="184.0" cy="253.0" r="0.68" fill-opacity="0.6"/>
<circle cx="160.4" cy="254.9" r="0.45" fill-opacity="0.9"/>
<circle cx="172.7" cy="265.4" r="0.84" fill-opacity="0.5"/>
<circle cx="180.4" cy="239.7" r="0.81" fill-opacity="0.5"/>
<circle cx="176.4" cy="242.5" r="0.60" fill-opacity="0.9"/>
<circle cx="177.8" cy="261.8" r="0.37" fill-opacity="0.6"/>
<circle cx="167.7" cy="269.9" r="0.81" fill-opacity="0.8"/>
<circle cx="174.3" cy="246.0" r="0.59" fill-opacity="0.8"/>
<circle cx="180.3" cy="242.1" r="0.70" fill-opacity="0.6"/>
<circle cx="186.1" cy="253.7" r="0.36" fill-opacity="0.9"/>
<circle cx="176.2" cy="264.9" r="0.87" fill-opacity="0.9"/>
<circle cx="176.5" cy="244.6" r="0.53" fill-opacity="0.9"/>
<circle cx="178.1" cy="273.8" r="0.73" fill-opacity="0.8"/>
<circle cx="166.5" cy="239.2" r="0.81" fill-opacity="0.7"/>
<circle cx="170.7" cy="238.8" r="0.75" fill-opacity="0.7"/>
<circle cx="166.5" cy="251.0" r="0.69" fill-opacity="0.6"/>
<circle cx="194.1" cy="264.2" r="0.36" fill-opacity="0.5"/>
<circle cx="192.3" cy="267.1" r="0.43" fill-opacity="0.6"/>
<circle cx="180.9" cy="256.3" r="0.70" fill-opacity="0.8"/>
<circle cx="171.0" cy="240.0" r="0.67" fill-opacity="0.5"/>
<circle cx="164.7" cy="268.7" r="0.84" fill-opacity="0.9"/>
<circle cx="194.3" cy="262.8" r="0.87" fill-opacity="1.0"/>
<circle cx="184.1" cy="261.0" r="0.37" fill-opacity="0.5"/>
<circle cx="187.4" cy="241.5" r="0.80" fill-opacity="0.8"/>
<circle cx="169.4" cy="248.0" r="0.40" fill-opacity="0.5"/>
<circle cx="177.2" cy="246.9" r="0.58" fill-opacity="0.6"/>
<circle cx="187.1" cy="256.9" r="0.74" fill-opacity="0.6"/>
<circle cx="169.0" cy="263.6" r="0.63" fill-opacity="1.0"/>
<circle cx="186.4" cy="243.5" r="0.58" fill-opacity="0.5"/>
<circle cx="160.2" cy="262.2" r="0.74" fill-opacity="0.6"/>
<circle cx="167.5" cy="253.5" r="0.40" fill-opacity="0.9"/>
<circle cx="180.4" cy="248.4" r="0.46" fill-opacity="0.5"/>
<circle cx="178.4" cy="236.7" r="0.62" fill-opacity="0.5"/>
<circle cx="158.5" cy="256.5" r="0.62" fill-opacity="0.6"/>
<circle cx="166.1" cy="269.9" r="0.87" fill-opacity="0.6"/>
<circle cx="174.8" cy="264.3" r="0.62" fill-opacity="0.8"/>
<circle cx="189.4" cy="265.4" r="0.78" fill-opacity="0.5"/>
<circle cx="170.9" cy="239.5" r="0.55" fill-opacity="0.8"/>
<circle cx="166.3" cy="262.6" r="0.40" fill-opacity="0.9"/>
<circle cx="179.3" cy="253.6" r="0.49" fill-opacity="0.6"/>
<circle cx="188.6" cy="247.7" r="0.84" fill-opacity="0.7"/>
<circle cx="178.2" cy="268.6" r="0.76" fill-opacity="0.7"/>
<circle cx="177.1" cy="240.2" r="0.53" fill-opacity="0.6"/>
<circle cx="187.3" cy="270.2" r="0.76" fill-opacity="0.8"/>
<circle cx="183.4" cy="266.7" r="0.67" fill-opacity="0.9"/>
<circle cx="186.6" cy="264.9" r="0.48" fill-opacity="0.9"/>
<circle cx="180.8" cy="265.4" r="0.81" fill-opacity="0.8"/>
<circle cx="181.4" cy="261.9" r="0.53" fill-opacity="0.6"/>
<circle cx="168.7" cy="254.5" r="0.45" fill-opacity="0.6"/>
<circle cx="194.1" cy="253.1" r="0.88" fill-opacity="0.5"/>
<circle cx="187.0" cy="262.7" r="0.79" fill-opacity="1.0"/>
<circle cx="175.4" cy="243.0" r="0.70" fill-opacity="0.6"/>
<circle cx="184.1" cy="261.0" r="0.37" fill-opacity="0.7"/>
<circle cx="162.1" cy="265.7" r="0.63" fill-opacity="0.8"/>
<circle cx="167.4" cy="245.9" r="0.68" fill-opacity="0.5"/>
<circle cx="162.2" cy="264.9" r="0.59" fill-opacity="0.9"/>
<circle cx="160.9" cy="248.2" r="0.48" fill-opacity="0.7"/>
<circle cx="173.5" cy="237.9" r="0.74" fill-opacity="0.9"/>
<circle cx="186.9" cy="242.9" r="0.60" fill-opacity="0.8"/>
<circle cx="170.5" cy="269.6" r="0.58" fill-opacity="0.5"/>
<circle cx="180.3" cy="239.7" r="0.49" fill-opacity="0.8"/>
<circle cx="164.5" cy="261.6" r="0.58" fill-opacity="0.8"/>
<circle cx="167.9" cy="239.1" r="0.71" fill-opacity="0.6"/>
<circle cx="179.1" cy="243.8" r="0.89" fill-opacity="0.7"/>
<circle cx="191.5" cy="259.0" r="0.78" fill-opacity="0.5"/>
<circle cx="190.6" cy="250.6" r="0.67" fill-opacity="0.5"/>
<circle cx="160.0" cy="251.5" r="0.70" fill-opacity="0.7"/>
<circle cx="183.9" cy="243.4" r="0.87" fill-opacity="0.7"/>
<circle cx="181.0" cy="271.0" r="0.77" fill-opacity="0.7"/>
<circle cx="191.4" cy="268.8" r="0.38" fill-opacity="0.6"/>
<circle cx="174.8" cy="267.6" r="0.58" fill-opacity="0.5"/>
<circle cx="161.8" cy="263.3" r="0.50" fill-opacity="0.6"/>
<circle cx="179.6" cy="271.9" r="0.64" fill-opacity="1.0"/>
<circle cx="180.4" cy="272.5" r="0.47" fill-opacity="0.7"/>
<circle cx="189.2" cy="267.9" r="0.70" fill-opacity="0.9"/>
<circle cx="161.7" cy="258.4" r="0.88" fill-opacity="0.6"/>
<circle cx="166.9" cy="267.8" r="0.80" fill-opacity="0.9"/>
<circle cx="165.9" cy="257.7" r="0.42" fill-opacity="0.8"/>
<circle cx="182.9" cy="245.7" r="0.50" fill-opacity="0.9"/>
<circle cx="169.4" cy="262.4" r="0.45" fill-opacity="0.7"/>
<circle cx="194.2" cy="255.9" r="0.48" fill-opacity="0.6"/>
<circle cx="172.3" cy="268.2" r="0.70" fill-opacity="0.7"/>
<circle cx="170.1" cy="245.9" r="0.82" fill-opacity="1.0"/>
<circle cx="194.3" cy="261.7" r="0.78" fill-opacity="0.9"/>
<circle cx="188.7" cy="269.1" r="0.36" fill-opacity="0.8"/>
<circle cx="196.7" cy="256.9" r="0.49" fill-opacity="0.8"/>
<circle cx="183.0" cy="259.9" r="0.78" fill-opacity="0.6"/>
<circle cx="172.2" cy="261.8" r="0.79" fill-opacity="0.9"/>
<circle cx="186.3" cy="271.4" r="0.78" fill-opacity="0.8"/>
<circle cx="167.3" cy="239.8" r="0.81" fill-opacity="0.9"/>
<circle cx="182.3" cy="270.7" r="0.76" fill-opacity="0.7"/>
<circle cx="159.0" cy="262.4" r="0.50" fill-opacity="0.8"/>
<circle cx="177.6" cy="262.7" r="0.38" fill-opacity="0.7"/>
<circle cx="169.2" cy="257.1" r="0.62" fill-opacity="0.7"/>
<circle cx="158.3" cy="251.2" r="0.81" fill-opacity="0.5"/>
<circle cx="161.7" cy="258.5" r="0.81" fill-opacity="0.8"/>
<circle cx="167.4" cy="264.4" r="0.39" fill-opacity="1.0"/>
<circle cx="166.1" cy="244.0" r="0.69" fill-opacity="0.5"/>
<circle cx="168.7" cy="238.7" r="0.89" fill-opacity="0.6"/>
<circle cx="162.6" cy="254.7" r="0.37" fill-opacity="0.9"/>
<circle cx="173.6" cy="240.7" r="0.82" fill-opacity="0.6"/>
<circle cx="167.4" cy="265.5" r="0.77" fill-opacity="0.7"/>
<circle cx="180.1" cy="267.9" r="0.65" fill-opacity="0.7"/>
<circle cx="181.9" cy="246.4" r="0.57" fill-opacity="0.9"/>
<circle cx="166.1" cy="255.4" r="0.89" fill-opacity="0.7"/>
<circle cx="166.5" cy="241.5" r="0.52" fill-opacity="0.6"/>
<circle cx="172.0" cy="269.6" r="0.78" fill-opacity="0.8"/>
<circle cx="193.7" cy="259.7" r="0.65" fill-opacity="0.9"/>
<circle cx="187.5" cy="258.8" r="0.45" fill-opacity="0.5"/>
<circle cx="190.9" cy="248.5" r="0.78" fill-opacity="0.8"/>
<circle cx="190.3" cy="247.5" r="0.69" fill-opacity="0.8"/>
<circle cx="171.6" cy="241.6" r="0.47" fill-opacity="0.8"/>
<circle cx="169.9" cy="244.3" r="0.41" fill-opacity="0.9"/>
<circle cx="178.4" cy="259.0" r="0.85" fill-opacity="0.9"/>
<circle cx="169.8" cy="245.9" r="0.78" fill-opacity="0.9"/>
<circle cx="167.2" cy="251.9" r="0.58" fill-opacity="0.6"/>
<circle cx="171.2" cy="267.1" r="0.86" fill-opacity="0.8"/>
<circle cx="191.3" cy="260.5" r="0.42" fill-opacity="0.5"/>
<circle cx="182.6" cy="242.1" r="0.60" fill-opacity="1.0"/>
<circle cx="189.5" cy="256.7" r="0.87" fill-opacity="0.8"/>
<circle cx="190.8" cy="254.0" r="0.41" fill-opacity="0.7"/>
<circle cx="171.0" cy="248.6" r="0.36" fill-opacity="0.5"/>
<circle cx="193.7" cy="256.1" r="0.88" fill-opacity="0.5"/>
<circle cx="193.1" cy="265.0" r="0.36" fill-opacity="0.5"/>
<circle cx="174.9" cy="246.3" r="0.45" fill-opacity="0.9"/>
<circle cx="193.9" cy="260.8" r="0.82" fill-opacity="0.8"/>
<circle cx="176.0" cy="250.1" r="0.74" fill-opacity="0.8"/>
<circle cx="157.6" cy="260.1" r="0.88" fill-opacity="0.6"/>
<circle cx="176.4" cy="253.6" r="0.71" fill-opacity="0.5"/>
<circle cx="179.2" cy="250.7" r="0.75" fill-opacity="0.6"/>
<circle cx="186.4" cy="271.0" r="0.38" fill-opacity="0.7"/>
<circle cx="166.3" cy="266.4" r="0.72" fill-opacity="0.7"/>
<circle cx="188.0" cy="269.1" r="0.70" fill-opacity="0.6"/>
<circle cx="167.7" cy="246.6" r="0.78" fill-opacity="0.7"/>
<circle cx="193.9" cy="249.8" r="0.51" fill-opacity="0.8"/>
<circle cx="195.6" cy="262.6" r="0.81" fill-opacity="0.8"/>
<circle cx="168.9" cy="268.6" r="0.81" fill-opacity="1.0"/>
<circle cx="167.6" cy="249.3" r="0.84" fill-opacity="0.7"/>
<circle cx="164.7" cy="266.7" r="0.84" fill-opacity="0.8"/>
<circle cx="180.7" cy="246.0" r="0.49" fill-opacity="0.5"/>
<circle cx="162.9" cy="262.5" r="0.84" fill-opacity="0.9"/>
<circle cx="194.9" cy="260.2" r="0.83" fill-opacity="0.9"/>
<circle cx="167.1" cy="251.2" r="0.79" fill-opacity="0.9"/>
<circle cx="169.0" cy="238.8" r="0.40" fill-opacity="0.6"/>
<circle cx="159.5" cy="249.9" r="0.76" fill-opacity="0.6"/>
<circle cx="185.8" cy="251.7" r="0.72" fill-opacity="0.8"/>
<circle cx="167.7" cy="257.5" r="0.76" fill-opacity="0.6"/>
<circle cx="180.4" cy="243.0" r="0.79" fill-opacity="0.5"/>
<circle cx="178.2" cy="246.4" r="0.84" fill-opacity="0.8"/>
<circle cx="187.9" cy="246.4" r="0.67" fill-opacity="0.7"/>
<circle cx="180.2" cy="263.4" r="0.74" fill-opacity="0.5"/>
<circle cx="166.8" cy="266.5" r="0.63" fill-opacity="0.7"/>
<circle cx="179.4" cy="258.9" r="0.56" fill-opacity="1.0"/>
<circle cx="189.6" cy="265.0" r="0.44" fill-opacity="0.9"/>
<circle cx="166.9" cy="249.1" r="0.36" fill-opacity="0.7"/>
<circle cx="196.7" cy="259.6" r="0.62" fill-opacity="0.9"/>
<circle cx="167.2" cy="251.6" r="0.58" fill-opacity="0.9"/>
<circle cx="193.8" cy="250.1" r="0.88" fill-opacity="0.9"/>
<circle cx="176.7" cy="259.3" r="0.45" fill-opacity="0.6"/>
<circle cx="180.8" cy="257.8" r="0.83" fill-opacity="0.8"/>
<circle cx="157.5" cy="260.4" r="0.39" fill-opacity="1.0"/>
<circle cx="166.3" cy="248.6" r="0.88" fill-opacity="0.5"/>
<circle cx="176.1" cy="270.0" r="0.88" fill-opacity="0.8"/>
<circle cx="170.6" cy="245.1" r="0.44" fill-opacity="0.7"/>
<circle cx="196.7" cy="251.5" r="0.37" fill-opacity="0.6"/>
<circle cx="176.4" cy="267.0" r="0.85" fill-opacity="0.9"/>
<circle cx="179.1" cy="252.0" r="0.74" fill-opacity="0.9"/>
<circle cx="164.5" cy="240.4" r="0.43" fill-opacity="0.5"/>
<circle cx="177.4" cy="237.0" r="0.51" fill-opacity="0.8"/>
<circle cx="161.8" cy="246.5" r="0.53" fill-opacity="0.5"/>
<circle cx="176.5" cy="262.4" r="0.44" fill-opacity="0.7"/>
<circle cx="177.4" cy="262.8" r="0.36" fill-opacity="0.8"/>
<circle cx="174.9" cy="247.3" r="0.86" fill-opacity="0.5"/>
<circle cx="180.4" cy="273.8" r="0.84" fill-opacity="0.9"/>
<circle cx="185.6" cy="265.5" r="0.86" fill-opacity="0.5"/>
<circle cx="185.7" cy="242.9" r="0.54" fill-opacity="0.7"/>
<circle cx="183.1" cy="243.7" r="0.43" fill-opacity="0.8"/>
<circle cx="177.7" cy="260.1" r="0.65" fill-opacity="0.8"/>
<circle cx="188.6" cy="269.7" r="0.58" fill-opacity="0.6"/>
<circle cx="182.8" cy="263.9" r="0.53" fill-opacity="0.9"/>
<circle cx="183.9" cy="267.3" r="0.85" fill-opacity="0.6"/>
<circle cx="192.1" cy="268.1" r="0.84" fill-opacity="0.5"/>
<circle cx="172.2" cy="247.9" r="0.51" fill-opacity="0.7"/>
<circle cx="176.3" cy="264.2" r="0.90" fill-opacity="0.7"/>
<circle cx="196.5" cy="255.4" r="0.51" fill-opacity="0.5"/>
<circle cx="180.7" cy="252.8" r="0.51" fill-opacity="0.8"/>
<circle cx="179.4" cy="255.3" r="0.54" fill-opacity="0.9"/>
<circle cx="177.4" cy="256.2" r="0.64" fill-opacity="0.9"/>
<circle cx="182.1" cy="267.3" r="0.47" fill-opacity="1.0"/>
<circle cx="169.9" cy="252.5" r="0.77" fill-opacity="0.5"/>
<circle cx="174.6" cy="247.3" r="0.40" fill-opacity="0.5"/>
<circle cx="165.6" cy="247.1" r="0.46" fill-opacity="0.6"/>
<circle cx="163.7" cy="245.1" r="0.67" fill-opacity="0.9"/>
<circle cx="178.4" cy="260.3" r="0.57" fill-opacity="0.9"/>
<circle cx="175.9" cy="251.2" r="0.53" fill-opacity="0.9"/>
<circle cx="187.2" cy="240.6" r="0.36" fill-opacity="0.7"/>
<circle cx="188.8" cy="248.5" r="0.50" fill-opacity="0.9"/>
<circle cx="184.1" cy="271.7" r="0.44" fill-opacity="0.7"/>
<circle cx="165.9" cy="266.3" r="0.64" fill-opacity="0.5"/>
<circle cx="162.9" cy="260.2" r="0.74" fill-opacity="0.5"/>
<circle cx="184.5" cy="239.3" r="0.74" fill-opacity="0.6"/>
<circle cx="163.7" cy="266.9" r="0.83" fill-opacity="0.5"/>
<circle cx="190.6" cy="251.8" r="0.64" fill-opacity="0.7"/>
<circle cx="173.9" cy="255.0" r="0.47" fill-opacity="1.0"/>
<circle cx="179.5" cy="261.2" r="0.80" fill-opacity="0.6"/>
<circle cx="183.1" cy="256.7" r="0.46" fill-opacity="0.8"/>
<circle cx="192.6" cy="257.2" r="0.64" fill-opacity="0.8"/>
<circle cx="174.9" cy="249.7" r="0.74" fill-opacity="0.9"/>
<circle cx="183.7" cy="257.5" r="0.63" fill-opacity="0.7"/>
<circle cx="175.5" cy="262.2" r="0.43" fill-opacity="0.7"/>
<circle cx="160.9" cy="245.9" r="0.67" fill-opacity="0.5"/>
<circle cx="176.6" cy="247.8" r="0.87" fill-opacity="0.9"/>
<circle cx="166.6" cy="263.6" r="0.64" fill-opacity="0.9"/>
<circle cx="161.0" cy="267.0" r="0.54" fill-opacity="0.9"/>
<circle cx="177.5" cy="266.7" r="0.89" fill-opacity="0.7"/>
<circle cx="183.4" cy="238.3" r="0.82" fill-opacity="0.9"/>
<circle cx="190.7" cy="260.2" r="0.86" fill-opacity="1.0"/>
<circle cx="176.9" cy="268.1" r="0.55" fill-opacity="0.8"/>
<circle cx="171.5" cy="254.6" r="0.63" fill-opacity="0.7"/>
<circle cx="184.4" cy="256.5" r="0.78" fill-opacity="1.0"/>
<circle cx="191.8" cy="249.7" r="0.84" fill-opacity="0.9"/>
<circle cx="179.6" cy="253.2" r="0.50" fill-opacity="0.8"/>
<circle cx="172.1" cy="246.6" r="0.86" fill-opacity="0.7"/>
<circle cx="169.4" cy="249.0" r="0.59" fill-opacity="0.7"/>
<circle cx="187.3" cy="252.5" r="0.71" fill-opacity="0.6"/>
<circle cx="188.3" cy="265.8" r="0.63" fill-opacity="1.0"/>
<circle cx="175.2" cy="268.6" r="0.43" fill-opacity="0.7"/>
<circle cx="182.1" cy="260.5" r="0.57" fill-opacity="0.6"/>
<circle cx="174.4" cy="264.8" r="0.65" fill-opacity="0.5"/>
<circle cx="185.4" cy="242.9" r="0.71" fill-opacity="0.8"/>
<circle cx="182.0" cy="271.0" r="0.65" fill-opacity="0.7"/>
<circle cx="166.1" cy="247.0" r="0.48" fill-opacity="0.6"/>
<circle cx="179.4" cy="269.1" r="0.67" fill-opacity="0.7"/>
<circle cx="188.9" cy="256.5" r="0.48" fill-opacity="0.9"/>
<circle cx="163.3" cy="250.9" r="0.89" fill-opacity="0.6"/>
<circle cx="171.7" cy="271.8" r="0.39" fill-opacity="0.5"/>
<circle cx="186.2" cy="246.4" r="0.56" fill-opacity="0.5"/>
<circle cx="160.5" cy="261.7" r="0.47" fill-opacity="0.5"/>
<circle cx="193.8" cy="251.4" r="0.54" fill-opacity="0.5"/>
<circle cx="166.7" cy="268.2" r="0.82" fill-opacity="0.8"/>
<circle cx="183.2" cy="243.1" r="0.76" fill-opacity="0.9"/>
<circle cx="177.7" cy="242.4" r="0.74" fill-opacity="0.9"/>
<circle cx="183.1" cy="252.1" r="0.35" fill-opacity="0.9"/>
<circle cx="178.3" cy="241.0" r="0.88" fill-opacity="0.7"/>
<circle cx="164.9" cy="250.2" r="0.83" fill-opacity="0.9"/>
<circle cx="166.9" cy="248.2" r="0.60" fill-opacity="0.7"/>
<circle cx="174.9" cy="245.4" r="0.66" fill-opacity="0.7"/>
<circle cx="168.1" cy="262.8" r="0.82" fill-opacity="0.9"/>
<circle cx="163.1" cy="255.6" r="0.52" fill-opacity="0.6"/>
<circle cx="186.3" cy="267.1" r="0.40" fill-opacity="0.8"/>
<circle cx="187.0" cy="250.3" r="0.81" fill-opacity="0.9"/>
<circle cx="185.8" cy="253.4" r="0.85" fill-opacity="0.7"/>
<circle cx="181.3" cy="255.9" r="0.62" fill-opacity="0.8"/>
<circle cx="192.6" cy="247.5" r="0.90" fill-opacity="0.7"/>
<circle cx="162.1" cy="254.1" r="0.56" fill-opacity="0.8"/>
<circle cx="166.9" cy="267.1" r="0.87" fill-opacity="0.6"/>
<circle cx="170.2" cy="243.1" r="0.56" fill-opacity="0.5"/>
<circle cx="164.3" cy="264.0" r="0.83" fill-opacity="0.8"/>
<circle cx="190.7" cy="252.6" r="0.69" fill-opacity="0.7"/>
<circle cx="188.8" cy="255.3" r="0.80" fill-opacity="0.7"/>
<circle cx="182.3" cy="265.1" r="0.80" fill-opacity="1.0"/>
<circle cx="170.0" cy="255.1" r="0.73" fill-opacity="0.9"/>
<circle cx="185.6" cy="238.3" r="0.58" fill-opacity="0.9"/>
<circle cx="182.9" cy="264.2" r="0.63" fill-opacity="0.7"/>
<circle cx="180.1" cy="263.2" r="0.68" fill-opacity="0.8"/>
<circle cx="164.5" cy="270.9" r="0.37" fill-opacity="0.8"/>
<circle cx="161.4" cy="264.6" r="0.73" fill-opacity="0.6"/>
<circle cx="188.1" cy="255.9" r="0.67" fill-opacity="0.9"/>
<circle cx="172.3" cy="248.2" r="0.65" fill-opacity="0.7"/>
<circle cx="175.1" cy="271.0" r="0.90" fill-opacity="0.7"/>
<circle cx="165.1" cy="250.0" r="0.44" fill-opacity="0.5"/>
<circle cx="177.2" cy="249.3" r="0.44" fill-opacity="0.5"/>
<circle cx="158.4" cy="253.1" r="0.79" fill-opacity="0.8"/>
<circle cx="178.9" cy="256.4" r="0.53" fill-opacity="0.9"/>
<circle cx="174.2" cy="244.4" r="0.50" fill-opacity="0.5"/>
<circle cx="192.6" cy="266.3" r="0.54" fill-opacity="0.8"/>
<circle cx="164.7" cy="259.3" r="0.84" fill-opacity="0.5"/>
<circle cx="159.4" cy="246.3" r="0.69" fill-opacity="0.7"/>
<circle cx="176.8" cy="259.6" r="0.82" fill-opacity="1.0"/>
<circle cx="169.1" cy="272.3" r="0.52" fill-opacity="0.9"/>
<circle cx="160.7" cy="244.3" r="0.87" fill-opacity="0.7"/>
<circle cx="177.4" cy="267.6" r="0.47" fill-opacity="0.8"/>
<circle cx="169.8" cy="272.3" r="0.79" fill-opacity="0.7"/>
<circle cx="177.2" cy="263.6" r="0.45" fill-opacity="0.6"/>
<circle cx="187.7" cy="253.8" r="0.41" fill-opacity="0.8"/>
<circle cx="164.4" cy="253.1" r="0.39" fill-opacity="0.7"/>
<circle cx="190.1" cy="267.8" r="0.48" fill-opacity="0.6"/>
<circle cx="180.7" cy="265.1" r="0.37" fill-opacity="0.6"/>
<circle cx="170.7" cy="246.0" r="0.74" fill-opacity="0.5"/>
<circle cx="185.7" cy="261.1" r="0.42" fill-opacity="0.9"/>
<circle cx="159.2" cy="261.7" r="0.44" fill-opacity="0.9"/>
<circle cx="166.3" cy="268.6" r="0.88" fill-opacity="0.7"/>
<circle cx="182.0" cy="273.7" r="0.48" fill-opacity="0.7"/>
<circle cx="169.7" cy="257.6" r="0.49" fill-opacity="0.8"/>
<circle cx="189.5" cy="246.9" r="0.49" fill-opacity="0.7"/>
<circle cx="169.5" cy="250.0" r="0.42" fill-opacity="0.9"/>
<circle cx="161.8" cy="254.4" r="0.77" fill-opacity="0.6"/>
<circle cx="164.3" cy="265.9" r="0.52" fill-opacity="0.8"/>
<circle cx="172.2" cy="259.2" r="0.82" fill-opacity="0.5"/>
<circle cx="169.6" cy="269.7" r="0.66" fill-opacity="0.5"/>
<circle cx="167.5" cy="266.0" r="0.39" fill-opacity="0.6"/>
<circle cx="173.1" cy="264.1" r="0.74" fill-opacity="0.5"/>
<circle cx="174.2" cy="267.5" r="0.78" fill-opacity="0.9"/>
<circle cx="190.9" cy="243.6" r="0.50" fill-opacity="0.5"/>
<circle cx="193.4" cy="258.5" r="0.54" fill-opacity="0.8"/>
<circle cx="162.6" cy="263.7" r="0.49" fill-opacity="0.8"/>
<circle cx="183.7" cy="246.2" r="0.45" fill-opacity="0.8"/>
<circle cx="191.5" cy="267.8" r="0.74" fill-opacity="0.9"/>
<circle cx="180.8" cy="256.6" r="0.46" fill-opacity="0.5"/>
<circle cx="172.7" cy="266.8" r="0.52" fill-opacity="0.5"/>
<circle cx="171.2" cy="249.4" r="0.66" fill-opacity="0.9"/>
<circle cx="174.6" cy="246.1" r="0.73" fill-opacity="0.7"/>
<circle cx="176.4" cy="256.1" r="0.78" fill-opacity="0.9"/>
<circle cx="175.8" cy="259.5" r="0.68" fill-opacity="0.9"/>
<circle cx="186.5" cy="258.4" r="0.79" fill-opacity="0.5"/>
<circle cx="181.7" cy="273.4" r="0.40" fill-opacity="0.9"/>
<circle cx="172.4" cy="244.3" r="0.81" fill-opacity="0.9"/>
<circle cx="175.6" cy="261.2" r="0.58" fill-opacity="1.0"/>
<circle cx="192.2" cy="248.8" r="0.81" fill-opacity="0.9"/>
<circle cx="167.2" cy="246.3" r="0.73" fill-opacity="0.5"/>
<circle cx="163.6" cy="261.6" r="0.42" fill-opacity="1.0"/>
<circle cx="177.1" cy="251.6" r="0.79" fill-opacity="0.8"/>
<circle cx="175.7" cy="269.8" r="0.70" fill-opacity="1.0"/>
<circle cx="166.9" cy="253.0" r="0.55" fill-opacity="0.5"/>
<circle cx="169.0" cy="260.1" r="0.43" fill-opacity="0.6"/>
<circle cx="172.3" cy="240.5" r="0.48" fill-opacity="0.6"/>
<circle cx="163.2" cy="254.4" r="0.54" fill-opacity="1.0"/>
<circle cx="170.9" cy="272.8" r="0.66" fill-opacity="0.5"/>
<circle cx="167.5" cy="270.6" r="0.77" fill-opacity="0.8"/>
<circle cx="184.9" cy="269.3" r="0.60" fill-opacity="0.8"/>
<circle cx="178.7" cy="238.2" r="0.51" fill-opacity="0.5"/>
<circle cx="170.8" cy="262.3" r="0.50" fill-opacity="0.5"/>
<circle cx="182.4" cy="270.8" r="0.41" fill-opacity="0.7"/>
<circle cx="170.5" cy="267.3" r="0.44" fill-opacity="0.6"/>
<circle cx="178.7" cy="256.5" r="0.76" fill-opacity="1.0"/>
<circle cx="191.8" cy="263.8" r="0.66" fill-opacity="1.0"/>
<circle cx="187.9" cy="264.1" r="0.45" fill-opacity="0.7"/>
<circle cx="175.0" cy="255.1" r="0.70" fill-opacity="1.0"/>
<circle cx="163.0" cy="242.2" r="0.49" fill-opacity="0.8"/>
<circle cx="177.0" cy="262.7" r="0.78" fill-opacity="0.5"/>
<circle cx="182.8" cy="246.8" r="0.70" fill-opacity="0.6"/>
<circle cx="188.0" cy="240.4" r="0.78" fill-opacity="0.5"/>
<circle cx="185.3" cy="241.1" r="0.45" fill-opacity="0.6"/>
<circle cx="182.1" cy="245.9" r="0.65" fill-opacity="0.7"/>
<circle cx="164.1" cy="268.4" r="0.37" fill-opacity="0.6"/>
<circle cx="162.0" cy="249.4" r="0.74" fill-opacity="0.9"/>
<circle cx="193.3" cy="245.1" r="0.62" fill-opacity="0.7"/>
<circle cx="183.0" cy="264.4" r="0.39" fill-opacity="0.8"/>
<circle cx="173.6" cy="248.4" r="0.88" fill-opacity="0.7"/>
<circle cx="180.3" cy="257.6" r="0.45" fill-opacity="0.7"/>
<circle cx="176.6" cy="254.6" r="0.82" fill-opacity="0.9"/>
<circle cx="179.9" cy="243.4" r="0.71" fill-opacity="0.6"/>
<circle cx="163.6" cy="254.5" r="0.59" fill-opacity="0.6"/>
<circle cx="167.4" cy="240.5" r="0.44" fill-opacity="0.9"/>
<circle cx="172.9" cy="267.9" r="0.54" fill-opacity="0.8"/>
<circle cx="178.8" cy="260.9" r="0.60" fill-opacity="0.6"/>
<circle cx="196.0" cy="252.3" r="0.89" fill-opacity="0.9"/>
<circle cx="192.5" cy="252.0" r="0.38" fill-opacity="0.9"/>
<circle cx="169.7" cy="242.2" r="0.66" fill-opacity="0.6"/>
<circle cx="190.4" cy="251.7" r="0.51" fill-opacity="0.8"/>
<circle cx="166.1" cy="270.6" r="0.45" fill-opacity="0.5"/>
<circle cx="170.9" cy="244.0" r="0.71" fill-opacity="0.5"/>
<circle cx="166.0" cy="266.1" r="0.64" fill-opacity="0.7"/>
<circle cx="164.9" cy="250.8" r="0.45" fill-opacity="0.5"/>
<circle cx="188.5" cy="246.5" r="0.82" fill-opacity="0.5"/>
<circle cx="176.7" cy="261.5" r="0.49" fill-opacity="0.7"/>
<circle cx="161.6" cy="256.6" r="0.66" fill-opacity="0.6"/>
<circle cx="187.9" cy="264.6" r="0.39" fill-opacity="0.8"/>
<circle cx="172.1" cy="258.4" r="0.82" fill-opacity="0.7"/>
<circle cx="160.3" cy="250.5" r="0.41" fill-opacity="0.9"/>
<circle cx="194.2" cy="254.6" r="0.81" fill-opacity="0.5"/>
<circle cx="170.2" cy="260.6" r="0.66" fill-opacity="1.0"/>
<circle cx="178.0" cy="248.6" r="0.38" fill-opacity="0.9"/>
<circle cx="177.8" cy="267.3" r="0.68" fill-opacity="0.5"/>
<circle cx="179.4" cy="265.8" r="0.58" fill-opacity="0.8"/>
<circle cx="189.2" cy="245.9" r="0.66" fill-opacity="0.9"/>
<circle cx="193.4" cy="246.7" r="0.76" fill-opacity="0.5"/>
<circle cx="167.1" cy="269.7" r="0.80" fill-opacity="0.8"/>
<circle cx="185.8" cy="263.8" r="0.87" fill-opacity="0.9"/>
<circle cx="176.0" cy="251.7" r="0.40" fill-opacity="0.8"/>
<circle cx="159.3" cy="250.4" r="0.86" fill-opacity="0.5"/>
<circle cx="172.1" cy="247.0" r="0.60" fill-opacity="0.6"/>
<circle cx="185.0" cy="243.1" r="0.36" fill-opacity="0.5"/>
<circle cx="190.9" cy="266.6" r="0.65" fill-opacity="0.6"/>
<circle cx="172.6" cy="271.0" r="0.43" fill-opacity="0.7"/>
<circle cx="187.5" cy="245.7" r="0.79" fill-opacity="0.8"/>
<circle cx="179.1" cy="254.9" r="0.43" fill-opacity="0.6"/>
<circle cx="157.6" cy="255.4" r="0.37" fill-opacity="0.9"/>
<circle cx="184.5" cy="271.4" r="0.57" fill-opacity="0.8"/>
<circle cx="168.7" cy="256.8" r="0.57" fill-opacity="0.9"/>
<circle cx="188.0" cy="244.9" r="0.53" fill-opacity="0.5"/>
<circle cx="180.9" cy="273.3" r="0.37" fill-opacity="0.8"/>
<circle cx="182.8" cy="265.7" r="0.67" fill-opacity="0.7"/>
<circle cx="167.5" cy="263.0" r="0.67" fill-opacity="0.5"/>
<circle cx="175.3" cy="258.0" r="0.89" fill-opacity="0.7"/>
<circle cx="184.3" cy="257.7" r="0.50" fill-opacity="0.8"/>
<circle cx="174.7" cy="269.0" r="0.66" fill-opacity="0.6"/>
<circle cx="157.1" cy="252.3" r="0.37" fill-opacity="1.0"/>
<circle cx="160.1" cy="249.3" r="0.78" fill-opacity="0.9"/>
<circle cx="165.9" cy="244.2" r="0.50" fill-opacity="0.6"/>
<circle cx="182.2" cy="238.4" r="0.72" fill-opacity="1.0"/>
<circle cx="170.8" cy="271.4" r="0.63" fill-opacity="0.9"/>
<circle cx="168.8" cy="247.1" r="0.57" fill-opacity="0.8"/>
<circle cx="187.9" cy="259.7" r="0.89" fill-opacity="0.6"/>
<circle cx="164.5" cy="257.0" r="0.48" fill-opacity="0.6"/>
<circle cx="172.4" cy="261.3" r="0.83" fill-opacity="0.5"/>
<circle cx="163.7" cy="259.3" r="0.52" fill-opacity="0.8"/>
<circle cx="179.4" cy="259.9" r="0.52" fill-opacity="0.6"/>
<circle cx="174.6" cy="241.5" r="0.54" fill-opacity="1.0"/>
<circle cx="190.6" cy="248.6" r="0.45" fill-opacity="0.5"/>
<circle cx="159.0" cy="246.4" r="0.78" fill-opacity="0.6"/>
<circle cx="159.6" cy="263.4" r="0.62" fill-opacity="0.5"/>
<circle cx="185.5" cy="249.6" r="0.36" fill-opacity="0.6"/>
<circle cx="182.2" cy="264.1" r="0.47" fill-opacity="0.8"/>
<circle cx="169.4" cy="260.7" r="0.83" fill-opacity="0.8"/>
<circle cx="171.4" cy="248.8" r="0.88" fill-opacity="0.9"/>
<circle cx="172.2" cy="252.4" r="0.83" fill-opacity="0.9"/>
<circle cx="172.7" cy="261.6" r="0.65" fill-opacity="0.6"/>
<circle cx="188.4" cy="244.8" r="0.47" fill-opacity="1.0"/>
<circle cx="168.6" cy="270.3" r="0.57" fill-opacity="0.8"/>
<circle cx="171.7" cy="245.5" r="0.58" fill-opacity="0.5"/>
<circle cx="192.4" cy="259.9" r="0.62" fill-opacity="0.6"/>
<circle cx="168.3" cy="250.0" r="0.36" fill-opacity="0.7"/>
<circle cx="190.5" cy="249.1" r="0.38" fill-opacity="1.0"/>
<circle cx="163.6" cy="244.9" r="0.40" fill-opacity="0.6"/>
<circle cx="181.1" cy="261.6" r="0.40" fill-opacity="0.9"/>
<circle cx="182.0" cy="244.1" r="0.67" fill-opacity="0.7"/>
<circle cx="161.2" cy="250.3" r="0.53" fill-opacity="0.8"/>
<circle cx="176.2" cy="245.9" r="0.77" fill-opacity="0.8"/>
<circle cx="178.7" cy="245.1" r="0.89" fill-opacity="0.9"/>
<circle cx="166.5" cy="258.5" r="0.87" fill-opacity="0.7"/>
<circle cx="178.1" cy="256.9" r="0.71" fill-opacity="0.7"/>
<circle cx="178.7" cy="244.2" r="0.48" fill-opacity="1.0"/>
<circle cx="177.1" cy="249.8" r="0.42" fill-opacity="0.5"/>
<circle cx="190.3" cy="260.6" r="0.45" fill-opacity="0.8"/>
<circle cx="188.3" cy="251.3" r="0.45" fill-opacity="0.5"/>
<circle cx="175.3" cy="237.2" r="0.37" fill-opacity="0.5"/>
<circle cx="178.6" cy="246.3" r="0.62" fill-opacity="1.0"/>
<circle cx="168.9" cy="247.1" r="0.60" fill-opacity="0.9"/>
<circle cx="168.1" cy="271.9" r="0.75" fill-opacity="0.5"/>
<circle cx="191.9" cy="261.8" r="0.83" fill-opacity="0.7"/>
<circle cx="191.1" cy="260.9" r="0.86" fill-opacity="0.7"/>
<circle cx="192.1" cy="250.4" r="0.49" fill-opacity="0.6"/>
<circle cx="175.8" cy="268.2" r="0.46" fill-opacity="0.6"/>
<circle cx="177.7" cy="240.2" r="0.90" fill-opacity="0.6"/>
<circle cx="180.0" cy="269.8" r="0.82" fill-opacity="0.5"/>
<circle cx="184.0" cy="248.3" r="0.80" fill-opacity="0.9"/>
<circle cx="174.4" cy="266.4" r="0.84" fill-opacity="0.7"/>
<circle cx="185.7" cy="269.1" r="0.60" fill-opacity="0.8"/>
<circle cx="159.9" cy="247.0" r="0.84" fill-opacity="0.6"/>
<circle cx="165.2" cy="268.6" r="0.45" fill-opacity="0.9"/>
<circle cx="190.2" cy="241.2" r="0.36" fill-opacity="0.6"/>
<circle cx="192.3" cy="267.8" r="0.85" fill-opacity="0.5"/>
<circle cx="187.1" cy="269.0" r="0.44" fill-opacity="0.5"/>
<circle cx="174.3" cy="250.3" r="0.86" fill-opacity="0.6"/>
<circle cx="172.8" cy="238.0" r="0.37" fill-opacity="1.0"/>
<circle cx="178.6" cy="272.6" r="0.37" fill-opacity="0.8"/>
<circle cx="166.9" cy="255.3" r="0.41" fill-opacity="0.7"/>
<circle cx="197.0" cy="258.0" r="0.83" fill-opacity="0.6"/>
<circle cx="187.2" cy="264.8" r="0.59" fill-opacity="0.5"/>
<circle cx="184.1" cy="269.9" r="0.76" fill-opacity="0.5"/>
<circle cx="169.9" cy="255.6" r="0.62" fill-opacity="0.6"/>
<circle cx="187.4" cy="250.1" r="0.88" fill-opacity="0.6"/>
<circle cx="189.8" cy="244.6" r="0.45" fill-opacity="0.6"/>
<circle cx="176.3" cy="260.6" r="0.63" fill-opacity="0.5"/>
<circle cx="164.0" cy="263.4" r="0.36" fill-opacity="0.6"/>
<circle cx="170.5" cy="241.2" r="0.65" fill-opacity="0.7"/>
<circle cx="169.4" cy="237.9" r="0.74" fill-opacity="0.9"/>
<circle cx="167.5" cy="262.0" r="0.89" fill-opacity="0.7"/>
<circle cx="167.1" cy="263.4" r="0.43" fill-opacity="0.7"/>
<circle cx="178.3" cy="255.6" r="0.86" fill-opacity="0.8"/>
<circle cx="176.3" cy="270.6" r="0.48" fill-opacity="0.7"/>
<circle cx="179.0" cy="261.8" r="0.78" fill-opacity="0.9"/>
<circle cx="180.6" cy="253.3" r="0.53" fill-opacity="0.8"/>
<circle cx="167.6" cy="244.3" r="0.88" fill-opacity="0.6"/>
<circle cx="194.5" cy="255.7" r="0.63" fill-opacity="0.9"/>
<circle cx="159.7" cy="245.1" r="0.70" fill-opacity="0.6"/>
<circle cx="176.3" cy="243.8" r="0.57" fill-opacity="0.8"/>
<circle cx="161.0" cy="253.1" r="0.53" fill-opacity="0.8"/>
<circle cx="166.4" cy="245.4" r="0.69" fill-opacity="0.6"/>
<circle cx="175.0" cy="273.8" r="0.75" fill-opacity="0.7"/>
<circle cx="162.8" cy="253.8" r="0.43" fill-opacity="0.6"/>
<circle cx="190.2" cy="249.4" r="0.64" fill-opacity="0.7"/>
<circle cx="180.7" cy="247.0" r="0.80" fill-opacity="0.5"/>
<circle cx="160.9" cy="259.4" r="0.84" fill-opacity="0.9"/>
<circle cx="179.7" cy="252.7" r="0.81" fill-opacity="0.7"/>
<circle cx="179.8" cy="249.5" r="0.49" fill-opacity="0.5"/>
<circle cx="186.6" cy="262.5" r="0.64" fill-opacity="0.9"/>
<circle cx="171.0" cy="257.3" r="0.90" fill-opacity="0.7"/>
<circle cx="172.1" cy="243.5" r="0.79" fill-opacity="0.7"/>
<circle cx="177.2" cy="248.2" r="0.55" fill-opacity="0.8"/>
<circle cx="166.9" cy="254.4" r="0.54" fill-opacity="0.7"/>
<circle cx="174.8" cy="257.3" r="0.66" fill-opacity="0.6"/>
<circle cx="184.9" cy="258.5" r="0.50" fill-opacity="0.8"/>
<circle cx="172.3" cy="264.0" r="0.40" fill-opacity="0.9"/>
<circle cx="164.3" cy="242.2" r="0.58" fill-opacity="0.6"/>
<circle cx="181.0" cy="241.0" r="0.37" fill-opacity="0.7"/>
<circle cx="165.2" cy="259.7" r="0.51" fill-opacity="0.8"/>
<circle cx="163.0" cy="264.1" r="0.54" fill-opacity="0.9"/>
<circle cx="165.1" cy="265.2" r="0.46" fill-opacity="1.0"/>
<circle cx="193.8" cy="252.7" r="0.72" fill-opacity="0.7"/>
<circle cx="174.2" cy="260.1" r="0.56" fill-opacity="0.9"/>
<circle cx="162.5" cy="253.4" r="0.77" fill-opacity="0.9"/>
<circle cx="192.4" cy="258.0" r="0.60" fill-opacity="0.7"/>
<circle cx="183.8" cy="245.1" r="0.84" fill-opacity="0.7"/>
<circle cx="163.4" cy="260.6" r="0.80" fill-opacity="0.7"/>
<circle cx="168.3" cy="241.1" r="0.37" fill-opacity="0.7"/>
<circle cx="170.3" cy="242.7" r="0.77" fill-opacity="0.9"/>
<circle cx="183.9" cy="261.7" r="0.80" fill-opacity="0.5"/>
<circle cx="181.7" cy="259.0" r="0.66" fill-opacity="0.9"/>
<circle cx="192.7" cy="261.0" r="0.62" fill-opacity="0.8"/>
<circle cx="192.8" cy="261.0" r="0.67" fill-opacity="0.7"/>
</g>
<ellipse cx="176.8" cy="255.6" rx="18.3" ry="17.0" fill="none" stroke="#7a78a8" stroke-width="0.8" stroke-opacity="0.7"/>
<g fill="#e8e6f4">
<circle cx="195.3" cy="255.4" r="0.56" fill-opacity="0.5"/>
<circle cx="169.3" cy="267.5" r="0.25" fill-opacity="0.9"/>
<circle cx="175.2" cy="265.3" r="0.36" fill-opacity="0.5"/>
<circle cx="186.5" cy="244.5" r="0.43" fill-opacity="0.6"/>
<circle cx="187.5" cy="258.9" r="0.55" fill-opacity="0.8"/>
<circle cx="183.3" cy="248.0" r="0.32" fill-opacity="0.4"/>
<circle cx="164.6" cy="252.9" r="0.41" fill-opacity="0.6"/>
<circle cx="166.1" cy="249.8" r="0.53" fill-opacity="0.5"/>
<circle cx="190.2" cy="248.7" r="0.27" fill-opacity="0.6"/>
<circle cx="164.0" cy="253.1" r="0.45" fill-opacity="0.6"/>
<circle cx="174.1" cy="272.5" r="0.35" fill-opacity="0.8"/>
<circle cx="181.9" cy="241.6" r="0.41" fill-opacity="0.9"/>
<circle cx="158.7" cy="261.7" r="0.27" fill-opacity="0.6"/>
<circle cx="173.9" cy="252.3" r="0.55" fill-opacity="0.4"/>
<circle cx="169.6" cy="251.0" r="0.57" fill-opacity="0.7"/>
<circle cx="181.3" cy="242.7" r="0.49" fill-opacity="0.7"/>
<circle cx="174.2" cy="264.1" r="0.54" fill-opacity="0.5"/>
<circle cx="184.9" cy="251.3" r="0.29" fill-opacity="0.4"/>
<circle cx="181.1" cy="237.3" r="0.40" fill-opacity="0.7"/>
<circle cx="175.9" cy="273.9" r="0.49" fill-opacity="0.5"/>
<circle cx="192.8" cy="261.2" r="0.26" fill-opacity="0.8"/>
<circle cx="174.1" cy="264.5" r="0.45" fill-opacity="0.6"/>
<circle cx="169.3" cy="252.8" r="0.57" fill-opacity="0.6"/>
<circle cx="181.1" cy="249.3" r="0.53" fill-opacity="0.9"/>
<circle cx="173.9" cy="257.8" r="0.38" fill-opacity="0.7"/>
<circle cx="179.3" cy="269.6" r="0.28" fill-opacity="0.6"/>
<circle cx="175.0" cy="243.1" r="0.49" fill-opacity="0.5"/>
<circle cx="180.2" cy="249.7" r="0.57" fill-opacity="0.9"/>
<circle cx="190.6" cy="250.4" r="0.35" fill-opacity="0.6"/>
<circle cx="176.8" cy="242.1" r="0.58" fill-opacity="0.4"/>
<circle cx="157.8" cy="257.3" r="0.46" fill-opacity="0.7"/>
<circle cx="183.3" cy="259.4" r="0.34" fill-opacity="0.8"/>
<circle cx="182.3" cy="248.0" r="0.57" fill-opacity="0.4"/>
<circle cx="160.4" cy="244.6" r="0.37" fill-opacity="0.9"/>
<circle cx="174.3" cy="252.0" r="0.37" fill-opacity="0.6"/>
<circle cx="177.1" cy="272.1" r="0.31" fill-opacity="0.8"/>
<circle cx="175.2" cy="260.4" r="0.45" fill-opacity="0.4"/>
<circle cx="159.5" cy="250.2" r="0.46" fill-opacity="0.6"/>
<circle cx="191.2" cy="258.5" r="0.28" fill-opacity="0.7"/>
<circle cx="187.3" cy="266.4" r="0.37" fill-opacity="0.6"/>
<circle cx="172.5" cy="249.0" r="0.31" fill-opacity="0.9"/>
<circle cx="167.6" cy="271.0" r="0.56" fill-opacity="0.6"/>
<circle cx="180.5" cy="260.3" r="0.56" fill-opacity="0.5"/>
<circle cx="161.8" cy="255.9" r="0.29" fill-opacity="0.6"/>
<circle cx="184.5" cy="267.6" r="0.43" fill-opacity="0.6"/>
<circle cx="181.0" cy="267.1" r="0.32" fill-opacity="0.5"/>
<circle cx="178.0" cy="273.5" r="0.43" fill-opacity="0.8"/>
<circle cx="196.6" cy="257.4" r="0.42" fill-opacity="0.8"/>
<circle cx="161.4" cy="248.8" r="0.33" fill-opacity="0.8"/>
<circle cx="182.8" cy="263.7" r="0.26" fill-opacity="0.6"/>
<circle cx="165.8" cy="254.4" r="0.56" fill-opacity="0.4"/>
<circle cx="168.1" cy="251.2" r="0.46" fill-opacity="0.8"/>
<circle cx="175.6" cy="251.0" r="0.34" fill-opacity="0.7"/>
<circle cx="180.9" cy="255.2" r="0.47" fill-opacity="0.7"/>
<circle cx="181.5" cy="245.3" r="0.53" fill-opacity="0.6"/>
<circle cx="178.7" cy="254.6" r="0.58" fill-opacity="0.6"/>
<circle cx="171.7" cy="258.7" r="0.34" fill-opacity="0.8"/>
<circle cx="173.4" cy="248.9" r="0.37" fill-opacity="0.5"/>
<circle cx="179.9" cy="264.1" r="0.37" fill-opacity="0.9"/>
<circle cx="195.0" cy="255.3" r="0.42" fill-opacity="0.6"/>
<circle cx="180.4" cy="237.6" r="0.51" fill-opacity="0.7"/>
<circle cx="181.9" cy="270.0" r="0.55" fill-opacity="0.8"/>
<circle cx="191.3" cy="264.5" r="0.37" fill-opacity="0.5"/>
<circle cx="193.2" cy="252.2" r="0.51" fill-opacity="0.5"/>
<circle cx="186.2" cy="239.2" r="0.57" fill-opacity="0.8"/>
<circle cx="185.9" cy="240.7" r="0.46" fill-opacity="0.6"/>
<circle cx="185.1" cy="240.5" r="0.55" fill-opacity="0.5"/>
<circle cx="191.3" cy="252.2" r="0.58" fill-opacity="0.5"/>
<circle cx="194.6" cy="252.2" r="0.34" fill-opacity="0.8"/>
<circle cx="177.8" cy="264.1" r="0.41" fill-opacity="0.5"/>
<circle cx="157.3" cy="256.4" r="0.49" fill-opacity="0.8"/>
<circle cx="162.7" cy="266.3" r="0.53" fill-opacity="0.7"/>
<circle cx="194.2" cy="249.4" r="0.39" fill-opacity="0.4"/>
<circle cx="166.0" cy="241.2" r="0.37" fill-opacity="0.7"/>
<circle cx="186.2" cy="241.0" r="0.25" fill-opacity="0.6"/>
<circle cx="183.6" cy="256.3" r="0.53" fill-opacity="0.6"/>
<circle cx="165.8" cy="247.7" r="0.37" fill-opacity="0.5"/>
<circle cx="165.4" cy="269.6" r="0.47" fill-opacity="0.5"/>
<circle cx="185.9" cy="260.8" r="0.50" fill-opacity="0.6"/>
<circle cx="167.0" cy="241.0" r="0.29" fill-opacity="0.7"/>
<circle cx="194.8" cy="260.1" r="0.31" fill-opacity="0.5"/>
<circle cx="188.7" cy="252.6" r="0.33" fill-opacity="0.8"/>
<circle cx="161.9" cy="244.0" r="0.39" fill-opacity="0.6"/>
<circle cx="190.8" cy="251.9" r="0.60" fill-opacity="0.5"/>
<circle cx="180.8" cy="248.8" r="0.43" fill-opacity="0.4"/>
<circle cx="185.8" cy="272.2" r="0.41" fill-opacity="0.8"/>
<circle cx="176.7" cy="267.0" r="0.29" fill-opacity="0.7"/>
<circle cx="186.3" cy="245.1" r="0.38" fill-opacity="0.9"/>
<circle cx="189.9" cy="245.9" r="0.28" fill-opacity="0.7"/>
<circle cx="158.0" cy="262.1" r="0.38" fill-opacity="0.7"/>
<circle cx="168.3" cy="246.9" r="0.43" fill-opacity="0.7"/>
<circle cx="188.9" cy="248.1" r="0.38" fill-opacity="0.9"/>
<circle cx="194.3" cy="261.7" r="0.49" fill-opacity="0.7"/>
<circle cx="160.0" cy="261.0" r="0.56" fill-opacity="0.8"/>
<circle cx="176.8" cy="252.0" r="0.36" fill-opacity="0.5"/>
<circle cx="195.3" cy="250.3" r="0.30" fill-opacity="0.7"/>
<circle cx="172.9" cy="253.7" r="0.39" fill-opacity="0.8"/>
<circle cx="170.0" cy="247.7" r="0.52" fill-opacity="0.5"/>
<circle cx="164.0" cy="252.2" r="0.59" fill-opacity="0.7"/>
<circle cx="182.5" cy="240.7" r="0.38" fill-opacity="0.9"/>
<circle cx="172.5" cy="240.2" r="0.35" fill-opacity="0.5"/>
<circle cx="160.2" cy="247.7" r="0.53" fill-opacity="0.6"/>
<circle cx="186.2" cy="266.2" r="0.56" fill-opacity="0.5"/>
<circle cx="176.2" cy="247.7" r="0.36" fill-opacity="0.4"/>
<circle cx="173.1" cy="267.0" r="0.59" fill-opacity="0.9"/>
<circle cx="181.2" cy="265.5" r="0.58" fill-opacity="0.5"/>
<circle cx="171.0" cy="267.1" r="0.29" fill-opacity="0.5"/>
<circle cx="166.8" cy="263.0" r="0.59" fill-opacity="0.5"/>
<circle cx="182.4" cy="273.1" r="0.41" fill-opacity="0.8"/>
<circle cx="165.0" cy="242.7" r="0.36" fill-opacity="0.5"/>
<circle cx="177.4" cy="242.4" r="0.45" fill-opacity="0.7"/>
<circle cx="177.0" cy="245.5" r="0.38" fill-opacity="0.9"/>
<circle cx="166.0" cy="253.7" r="0.47" fill-opacity="0.5"/>
<circle cx="177.4" cy="251.7" r="0.54" fill-opacity="0.7"/>
<circle cx="164.8" cy="270.4" r="0.34" fill-opacity="0.5"/>
<circle cx="190.5" cy="261.6" r="0.51" fill-opacity="0.7"/>
<circle cx="161.1" cy="264.6" r="0.29" fill-opacity="0.6"/>
<circle cx="164.4" cy="240.7" r="0.47" fill-opacity="0.7"/>
<circle cx="178.8" cy="243.7" r="0.58" fill-opacity="0.8"/>
<circle cx="169.8" cy="265.7" r="0.53" fill-opacity="0.6"/>
</g>
</g>
<linearGradient id="g200235" x1="0" y1="0" x2="1" y2="0"><stop offset="0" stop-color="#a0a0a2"/><stop offset="0.5" stop-color="#b6b6b8"/><stop offset="1" stop-color="#9a9a9c"/></linearGradient>
<rect x="200.10" y="235.20" width="43.50" height="42.00" fill="url(#g200235)" />
<ellipse cx="221.8" cy="255.6" rx="21.4" ry="20.099999999999998" fill="#e2e2e4"/>
<ellipse cx="221.8" cy="255.6" rx="20.5" ry="19.2" fill="#afadbb"/>
<clipPath id="cc200235"><ellipse cx="221.8" cy="255.6" rx="20.2" ry="18.9"/></clipPath>
<g clip-path="url(#cc200235)">
<g fill="#8a889a">
<circle cx="229.3" cy="272.1" r="1.3" fill-opacity="0.17"/>
<circle cx="212.4" cy="239.7" r="0.9" fill-opacity="0.14"/>
<circle cx="233.9" cy="260.6" r="1.3" fill-opacity="0.22"/>
<circle cx="214.1" cy="242.9" r="1.2" fill-opacity="0.18"/>
<circle cx="219.0" cy="273.1" r="1.6" fill-opacity="0.22"/>
<circle cx="231.6" cy="268.4" r="1.6" fill-opacity="0.17"/>
<circle cx="237.4" cy="244.7" r="1.5" fill-opacity="0.22"/>
<circle cx="210.4" cy="241.1" r="0.9" fill-opacity="0.20"/>
<circle cx="217.2" cy="241.2" r="1.1" fill-opacity="0.09"/>
<circle cx="207.0" cy="245.1" r="1.1" fill-opacity="0.12"/>
<circle cx="222.8" cy="261.4" r="1.5" fill-opacity="0.25"/>
<circle cx="225.8" cy="244.7" r="1.5" fill-opacity="0.09"/>
<circle cx="228.0" cy="246.3" r="0.8" fill-opacity="0.19"/>
<circle cx="228.7" cy="263.3" r="0.9" fill-opacity="0.16"/>
<circle cx="204.5" cy="249.8" r="0.8" fill-opacity="0.22"/>
<circle cx="229.3" cy="261.4" r="1.4" fill-opacity="0.14"/>
<circle cx="214.3" cy="268.2" r="1.0" fill-opacity="0.21"/>
<circle cx="226.6" cy="272.6" r="1.6" fill-opacity="0.17"/>
<circle cx="239.6" cy="258.8" r="0.8" fill-opacity="0.17"/>
<circle cx="217.2" cy="257.8" r="1.4" fill-opacity="0.20"/>
<circle cx="210.6" cy="249.4" r="1.3" fill-opacity="0.18"/>
<circle cx="224.6" cy="273.3" r="1.8" fill-opacity="0.22"/>
<circle cx="233.2" cy="252.9" r="1.8" fill-opacity="0.09"/>
<circle cx="214.4" cy="256.6" r="1.3" fill-opacity="0.20"/>
<circle cx="218.2" cy="243.1" r="1.1" fill-opacity="0.11"/>
<circle cx="212.9" cy="261.4" r="1.0" fill-opacity="0.21"/>
<circle cx="208.3" cy="254.3" r="1.0" fill-opacity="0.20"/>
<circle cx="225.3" cy="264.9" r="1.4" fill-opacity="0.20"/>
<circle cx="239.3" cy="252.8" r="1.7" fill-opacity="0.24"/>
<circle cx="218.8" cy="239.6" r="0.9" fill-opacity="0.11"/>
<circle cx="240.8" cy="257.1" r="1.5" fill-opacity="0.19"/>
<circle cx="220.7" cy="267.0" r="1.0" fill-opacity="0.19"/>
<circle cx="233.1" cy="255.0" r="0.8" fill-opacity="0.11"/>
<circle cx="209.9" cy="270.0" r="1.6" fill-opacity="0.16"/>
<circle cx="227.2" cy="259.4" r="1.0" fill-opacity="0.21"/>
<circle cx="201.7" cy="259.0" r="1.7" fill-opacity="0.22"/>
<circle cx="203.4" cy="258.2" r="0.9" fill-opacity="0.10"/>
<circle cx="208.3" cy="250.3" r="1.0" fill-opacity="0.12"/>
<circle cx="241.2" cy="258.0" r="1.5" fill-opacity="0.24"/>
<circle cx="235.2" cy="254.1" r="1.5" fill-opacity="0.15"/>
<circle cx="228.9" cy="239.3" r="0.9" fill-opacity="0.08"/>
<circle cx="225.3" cy="269.9" r="1.2" fill-opacity="0.08"/>
<circle cx="230.6" cy="240.7" r="1.3" fill-opacity="0.09"/>
<circle cx="233.3" cy="246.6" r="0.9" fill-opacity="0.13"/>
<circle cx="208.1" cy="242.9" r="1.3" fill-opacity="0.19"/>
<circle cx="224.6" cy="264.7" r="1.7" fill-opacity="0.15"/>
<circle cx="234.3" cy="264.6" r="0.9" fill-opacity="0.11"/>
<circle cx="206.7" cy="259.6" r="1.4" fill-opacity="0.20"/>
<circle cx="216.9" cy="257.4" r="1.5" fill-opacity="0.09"/>
<circle cx="209.1" cy="257.8" r="1.5" fill-opacity="0.20"/>
<circle cx="222.9" cy="271.0" r="1.5" fill-opacity="0.16"/>
<circle cx="234.1" cy="269.8" r="1.4" fill-opacity="0.09"/>
<circle cx="223.3" cy="274.6" r="1.0" fill-opacity="0.15"/>
<circle cx="226.2" cy="238.7" r="1.4" fill-opacity="0.21"/>
<circle cx="227.9" cy="257.0" r="1.8" fill-opacity="0.22"/>
<circle cx="226.2" cy="256.6" r="1.0" fill-opacity="0.24"/>
<circle cx="225.0" cy="271.1" r="1.7" fill-opacity="0.19"/>
<circle cx="231.0" cy="250.8" r="1.0" fill-opacity="0.08"/>
<circle cx="222.1" cy="249.4" r="1.8" fill-opacity="0.20"/>
<circle cx="228.9" cy="271.5" r="1.0" fill-opacity="0.17"/>
<circle cx="236.1" cy="266.1" r="1.7" fill-opacity="0.24"/>
<circle cx="240.7" cy="255.9" r="1.4" fill-opacity="0.22"/>
<circle cx="205.7" cy="255.4" r="1.4" fill-opacity="0.22"/>
<circle cx="226.0" cy="257.7" r="1.3" fill-opacity="0.13"/>
<circle cx="220.4" cy="256.6" r="1.5" fill-opacity="0.08"/>
<circle cx="230.7" cy="240.4" r="1.3" fill-opacity="0.10"/>
<circle cx="216.3" cy="248.5" r="1.2" fill-opacity="0.10"/>
<circle cx="236.8" cy="253.5" r="1.2" fill-opacity="0.10"/>
<circle cx="219.5" cy="238.0" r="1.6" fill-opacity="0.10"/>
<circle cx="214.2" cy="263.4" r="1.6" fill-opacity="0.11"/>
<circle cx="205.9" cy="243.8" r="1.6" fill-opacity="0.08"/>
<circle cx="228.0" cy="258.5" r="1.5" fill-opacity="0.18"/>
<circle cx="208.1" cy="254.0" r="1.2" fill-opacity="0.18"/>
<circle cx="210.1" cy="240.8" r="1.5" fill-opacity="0.22"/>
<circle cx="237.8" cy="246.5" r="1.5" fill-opacity="0.09"/>
<circle cx="213.8" cy="239.5" r="1.2" fill-opacity="0.23"/>
<circle cx="230.3" cy="272.5" r="1.2" fill-opacity="0.20"/>
<circle cx="221.6" cy="266.1" r="1.1" fill-opacity="0.14"/>
<circle cx="233.1" cy="262.8" r="1.8" fill-opacity="0.19"/>
<circle cx="238.1" cy="248.7" r="1.6" fill-opacity="0.25"/>
<circle cx="222.0" cy="245.5" r="1.0" fill-opacity="0.15"/>
<circle cx="231.6" cy="256.8" r="1.7" fill-opacity="0.24"/>
<circle cx="213.3" cy="270.4" r="1.6" fill-opacity="0.23"/>
<circle cx="225.9" cy="242.1" r="0.9" fill-opacity="0.22"/>
<circle cx="215.5" cy="269.6" r="1.2" fill-opacity="0.17"/>
<circle cx="229.8" cy="253.9" r="1.3" fill-opacity="0.19"/>
<circle cx="202.5" cy="251.2" r="1.2" fill-opacity="0.24"/>
<circle cx="214.4" cy="238.1" r="0.9" fill-opacity="0.12"/>
<circle cx="217.3" cy="273.4" r="0.8" fill-opacity="0.12"/>
<circle cx="217.5" cy="236.9" r="1.0" fill-opacity="0.15"/>
<circle cx="215.2" cy="240.9" r="1.5" fill-opacity="0.21"/>
<circle cx="221.9" cy="265.3" r="0.8" fill-opacity="0.20"/>
<circle cx="224.4" cy="265.1" r="1.8" fill-opacity="0.19"/>
<circle cx="207.8" cy="247.2" r="1.4" fill-opacity="0.20"/>
<circle cx="220.1" cy="260.2" r="0.9" fill-opacity="0.08"/>
<circle cx="216.8" cy="261.1" r="0.9" fill-opacity="0.16"/>
<circle cx="238.5" cy="252.6" r="1.1" fill-opacity="0.21"/>
<circle cx="224.6" cy="261.1" r="1.1" fill-opacity="0.15"/>
<circle cx="216.7" cy="243.7" r="1.5" fill-opacity="0.10"/>
<circle cx="232.7" cy="251.0" r="1.6" fill-opacity="0.09"/>
<circle cx="226.4" cy="247.6" r="1.7" fill-opacity="0.22"/>
<circle cx="216.6" cy="246.7" r="0.8" fill-opacity="0.11"/>
<circle cx="228.5" cy="251.3" r="1.5" fill-opacity="0.18"/>
<circle cx="217.2" cy="248.7" r="0.9" fill-opacity="0.10"/>
<circle cx="234.4" cy="254.3" r="1.5" fill-opacity="0.18"/>
<circle cx="222.7" cy="260.4" r="0.8" fill-opacity="0.22"/>
<circle cx="235.6" cy="269.3" r="1.2" fill-opacity="0.20"/>
<circle cx="233.5" cy="268.6" r="1.1" fill-opacity="0.14"/>
<circle cx="215.0" cy="254.7" r="1.0" fill-opacity="0.22"/>
<circle cx="219.0" cy="267.2" r="1.6" fill-opacity="0.12"/>
<circle cx="225.1" cy="264.0" r="1.2" fill-opacity="0.14"/>
<circle cx="212.9" cy="245.4" r="1.7" fill-opacity="0.09"/>
<circle cx="212.1" cy="240.6" r="1.0" fill-opacity="0.08"/>
<circle cx="215.3" cy="258.1" r="1.3" fill-opacity="0.20"/>
<circle cx="227.6" cy="259.3" r="1.3" fill-opacity="0.11"/>
<circle cx="223.4" cy="268.2" r="0.9" fill-opacity="0.09"/>
<circle cx="212.8" cy="265.7" r="1.7" fill-opacity="0.17"/>
<circle cx="230.5" cy="259.5" r="1.5" fill-opacity="0.18"/>
<circle cx="235.6" cy="241.9" r="1.7" fill-opacity="0.10"/>
<circle cx="235.7" cy="250.8" r="1.0" fill-opacity="0.11"/>
<circle cx="228.0" cy="249.0" r="0.9" fill-opacity="0.13"/>
<circle cx="234.2" cy="249.6" r="1.5" fill-opacity="0.09"/>
<circle cx="210.7" cy="258.7" r="1.0" fill-opacity="0.19"/>
<circle cx="217.2" cy="260.7" r="1.8" fill-opacity="0.16"/>
<circle cx="222.7" cy="257.4" r="1.5" fill-opacity="0.17"/>
<circle cx="235.7" cy="257.6" r="1.5" fill-opacity="0.17"/>
<circle cx="223.2" cy="269.1" r="1.4" fill-opacity="0.19"/>
<circle cx="233.1" cy="269.2" r="1.7" fill-opacity="0.21"/>
<circle cx="229.6" cy="246.5" r="1.7" fill-opacity="0.11"/>
<circle cx="224.1" cy="270.3" r="1.7" fill-opacity="0.09"/>
<circle cx="222.6" cy="259.2" r="1.2" fill-opacity="0.10"/>
<circle cx="228.2" cy="271.1" r="1.4" fill-opacity="0.24"/>
<circle cx="208.0" cy="264.7" r="0.8" fill-opacity="0.24"/>
<circle cx="223.3" cy="268.8" r="1.3" fill-opacity="0.24"/>
<circle cx="201.4" cy="256.5" r="1.4" fill-opacity="0.12"/>
<circle cx="226.4" cy="248.1" r="1.8" fill-opacity="0.16"/>
<circle cx="224.8" cy="274.2" r="1.1" fill-opacity="0.15"/>
<circle cx="212.5" cy="268.7" r="0.8" fill-opacity="0.14"/>
<circle cx="231.6" cy="270.5" r="0.8" fill-opacity="0.18"/>
<circle cx="221.1" cy="268.5" r="1.4" fill-opacity="0.20"/>
</g>
<g fill="#6a68a0">
<circle cx="228.3" cy="262.8" r="0.59" fill-opacity="0.5"/>
<circle cx="226.3" cy="261.3" r="0.47" fill-opacity="0.7"/>
<circle cx="225.5" cy="252.6" r="0.35" fill-opacity="0.6"/>
<circle cx="210.0" cy="249.0" r="0.57" fill-opacity="0.7"/>
<circle cx="211.8" cy="240.5" r="0.38" fill-opacity="1.0"/>
<circle cx="234.0" cy="251.2" r="0.57" fill-opacity="0.5"/>
<circle cx="224.0" cy="257.1" r="0.39" fill-opacity="0.6"/>
<circle cx="240.5" cy="251.9" r="0.46" fill-opacity="0.7"/>
<circle cx="232.5" cy="241.6" r="0.45" fill-opacity="0.8"/>
<circle cx="229.3" cy="261.9" r="0.48" fill-opacity="0.8"/>
<circle cx="227.9" cy="238.3" r="0.36" fill-opacity="1.0"/>
<circle cx="239.0" cy="264.0" r="0.35" fill-opacity="0.8"/>
<circle cx="218.1" cy="246.5" r="0.41" fill-opacity="0.6"/>
<circle cx="205.1" cy="253.2" r="0.52" fill-opacity="0.5"/>
<circle cx="211.8" cy="246.3" r="0.54" fill-opacity="0.8"/>
<circle cx="235.9" cy="256.4" r="0.51" fill-opacity="0.8"/>
<circle cx="216.6" cy="249.1" r="0.54" fill-opacity="1.0"/>
<circle cx="223.2" cy="268.1" r="0.36" fill-opacity="1.0"/>
<circle cx="204.9" cy="265.8" r="0.37" fill-opacity="0.9"/>
<circle cx="220.7" cy="244.1" r="0.53" fill-opacity="0.8"/>
<circle cx="228.5" cy="262.1" r="0.38" fill-opacity="0.6"/>
<circle cx="229.2" cy="257.2" r="0.43" fill-opacity="0.7"/>
<circle cx="235.6" cy="262.5" r="0.47" fill-opacity="1.0"/>
<circle cx="211.2" cy="268.3" r="0.35" fill-opacity="0.7"/>
<circle cx="219.1" cy="255.9" r="0.35" fill-opacity="0.8"/>
<circle cx="208.1" cy="269.4" r="0.55" fill-opacity="0.9"/>
<circle cx="211.6" cy="243.7" r="0.59" fill-opacity="0.8"/>
<circle cx="227.7" cy="271.5" r="0.38" fill-opacity="0.6"/>
<circle cx="228.7" cy="242.2" r="0.56" fill-opacity="0.9"/>
<circle cx="214.1" cy="251.1" r="0.46" fill-opacity="0.5"/>
<circle cx="220.2" cy="245.7" r="0.30" fill-opacity="0.5"/>
<circle cx="229.7" cy="269.8" r="0.37" fill-opacity="0.5"/>
<circle cx="220.2" cy="271.7" r="0.31" fill-opacity="1.0"/>
<circle cx="236.7" cy="267.8" r="0.34" fill-opacity="1.0"/>
<circle cx="214.2" cy="267.5" r="0.43" fill-opacity="0.6"/>
<circle cx="211.5" cy="256.9" r="0.33" fill-opacity="0.5"/>
<circle cx="225.0" cy="260.5" r="0.51" fill-opacity="0.8"/>
<circle cx="220.3" cy="272.6" r="0.40" fill-opacity="0.9"/>
<circle cx="212.9" cy="256.0" r="0.47" fill-opacity="1.0"/>
<circle cx="229.4" cy="258.0" r="0.42" fill-opacity="0.8"/>
<circle cx="219.8" cy="246.6" r="0.54" fill-opacity="0.9"/>
<circle cx="234.8" cy="263.8" r="0.51" fill-opacity="0.6"/>
<circle cx="227.9" cy="239.5" r="0.33" fill-opacity="0.6"/>
<circle cx="213.8" cy="243.2" r="0.36" fill-opacity="0.5"/>
<circle cx="216.0" cy="252.5" r="0.37" fill-opacity="0.8"/>
<circle cx="221.1" cy="268.1" r="0.52" fill-opacity="0.7"/>
<circle cx="238.9" cy="258.8" r="0.39" fill-opacity="0.6"/>
<circle cx="210.9" cy="243.3" r="0.57" fill-opacity="0.8"/>
<circle cx="225.0" cy="265.9" r="0.38" fill-opacity="0.8"/>
<circle cx="227.2" cy="263.2" r="0.55" fill-opacity="0.9"/>
</g>
<ellipse cx="221.8" cy="255.6" rx="18.3" ry="17.0" fill="none" stroke="#8e8c9c" stroke-width="0.8" stroke-opacity="0.7"/>
<path d="M225.9,237.4 A19.0,17.7 0 0 1 228.0,273.3" fill="none" stroke="#f0f0f2" stroke-width="1.0" stroke-opacity="0.8"/>
</g>
<linearGradient id="g155278" x1="0" y1="0" x2="1" y2="0"><stop offset="0" stop-color="#aaaaac"/><stop offset="0.5" stop-color="#bebec0"/><stop offset="1" stop-color="#aeaeb0"/></linearGradient>
<rect x="155.00" y="278.30" width="43.60" height="40.30" fill="url(#g155278)" />
<ellipse cx="176.5" cy="298.5" rx="22.2" ry="20.5" fill="#e2e2e4"/>
<ellipse cx="176.5" cy="298.5" rx="21.3" ry="19.6" fill="#a8a4cc"/>
<clipPath id="cc155278"><ellipse cx="176.5" cy="298.5" rx="21.0" ry="19.3"/></clipPath>
<g clip-path="url(#cc155278)">
<g fill="#8a889a">
<circle cx="172.1" cy="279.7" r="1.6" fill-opacity="0.13"/>
<circle cx="169.3" cy="313.8" r="0.9" fill-opacity="0.18"/>
<circle cx="180.5" cy="300.8" r="1.3" fill-opacity="0.11"/>
<circle cx="194.6" cy="290.9" r="1.3" fill-opacity="0.11"/>
<circle cx="187.6" cy="308.0" r="1.3" fill-opacity="0.14"/>
<circle cx="173.2" cy="284.6" r="1.6" fill-opacity="0.10"/>
<circle cx="188.5" cy="303.7" r="1.3" fill-opacity="0.12"/>
<circle cx="171.6" cy="290.5" r="1.1" fill-opacity="0.16"/>
<circle cx="172.1" cy="281.8" r="1.2" fill-opacity="0.16"/>
<circle cx="195.0" cy="290.2" r="1.4" fill-opacity="0.10"/>
<circle cx="160.2" cy="302.8" r="1.1" fill-opacity="0.09"/>
<circle cx="196.7" cy="296.3" r="0.9" fill-opacity="0.16"/>
<circle cx="168.0" cy="291.2" r="0.9" fill-opacity="0.21"/>
<circle cx="178.3" cy="285.6" r="0.9" fill-opacity="0.15"/>
<circle cx="193.9" cy="309.2" r="0.9" fill-opacity="0.13"/>
<circle cx="177.4" cy="291.3" r="0.9" fill-opacity="0.09"/>
<circle cx="184.5" cy="310.8" r="1.6" fill-opacity="0.11"/>
<circle cx="185.1" cy="313.7" r="1.2" fill-opacity="0.14"/>
<circle cx="184.0" cy="305.3" r="1.8" fill-opacity="0.10"/>
<circle cx="175.4" cy="315.3" r="1.7" fill-opacity="0.23"/>
<circle cx="156.0" cy="301.8" r="1.4" fill-opacity="0.13"/>
<circle cx="158.9" cy="302.1" r="1.5" fill-opacity="0.10"/>
<circle cx="183.7" cy="316.5" r="0.9" fill-opacity="0.22"/>
<circle cx="170.9" cy="306.8" r="1.1" fill-opacity="0.16"/>
<circle cx="184.7" cy="298.1" r="1.7" fill-opacity="0.13"/>
<circle cx="185.1" cy="313.5" r="1.1" fill-opacity="0.11"/>
<circle cx="159.7" cy="307.2" r="1.7" fill-opacity="0.18"/>
<circle cx="195.1" cy="299.6" r="1.4" fill-opacity="0.23"/>
<circle cx="188.1" cy="295.2" r="1.6" fill-opacity="0.22"/>
<circle cx="175.2" cy="310.3" r="1.2" fill-opacity="0.14"/>
<circle cx="171.4" cy="303.0" r="1.0" fill-opacity="0.23"/>
<circle cx="162.1" cy="306.8" r="1.7" fill-opacity="0.21"/>
<circle cx="177.2" cy="317.3" r="1.6" fill-opacity="0.25"/>
<circle cx="174.0" cy="281.6" r="1.6" fill-opacity="0.12"/>
<circle cx="169.2" cy="288.5" r="1.6" fill-opacity="0.10"/>
<circle cx="164.5" cy="295.7" r="1.6" fill-opacity="0.14"/>
<circle cx="187.4" cy="283.5" r="1.7" fill-opacity="0.10"/>
<circle cx="193.5" cy="292.1" r="1.5" fill-opacity="0.19"/>
<circle cx="195.5" cy="303.9" r="1.3" fill-opacity="0.16"/>
<circle cx="166.5" cy="313.2" r="1.6" fill-opacity="0.23"/>
</g>
<g fill="#38348a">
<circle cx="179.3" cy="309.6" r="0.41" fill-opacity="0.6"/>
<circle cx="174.9" cy="301.3" r="0.47" fill-opacity="0.9"/>
<circle cx="181.5" cy="300.7" r="0.46" fill-opacity="0.9"/>
<circle cx="163.4" cy="301.4" r="0.87" fill-opacity="0.9"/>
<circle cx="170.3" cy="313.0" r="0.61" fill-opacity="0.9"/>
<circle cx="191.2" cy="288.6" r="0.83" fill-opacity="0.6"/>
<circle cx="170.3" cy="295.7" r="0.81" fill-opacity="0.8"/>
<circle cx="161.8" cy="296.9" r="0.83" fill-opacity="0.7"/>
<circle cx="171.6" cy="290.8" r="0.55" fill-opacity="0.6"/>
<circle cx="193.7" cy="294.3" r="0.85" fill-opacity="0.5"/>
<circle cx="192.5" cy="301.8" r="0.74" fill-opacity="0.7"/>
<circle cx="170.7" cy="301.1" r="0.80" fill-opacity="0.7"/>
<circle cx="179.6" cy="287.1" r="0.76" fill-opacity="0.6"/>
<circle cx="179.7" cy="289.8" r="0.90" fill-opacity="0.9"/>
<circle cx="164.5" cy="303.4" r="0.86" fill-opacity="0.8"/>
<circle cx="180.0" cy="308.8" r="0.75" fill-opacity="0.6"/>
<circle cx="182.6" cy="311.9" r="0.72" fill-opacity="0.7"/>
<circle cx="189.4" cy="313.5" r="0.66" fill-opacity="1.0"/>
<circle cx="179.1" cy="290.4" r="0.65" fill-opacity="1.0"/>
<circle cx="177.7" cy="280.3" r="0.86" fill-opacity="0.6"/>
<circle cx="177.4" cy="301.4" r="0.84" fill-opacity="0.7"/>
<circle cx="193.4" cy="287.3" r="0.86" fill-opacity="0.7"/>
<circle cx="169.0" cy="295.8" r="0.79" fill-opacity="0.8"/>
<circle cx="161.8" cy="305.5" r="0.50" fill-opacity="0.6"/>
<circle cx="163.1" cy="305.2" r="0.40" fill-opacity="0.7"/>
<circle cx="188.9" cy="298.9" r="0.76" fill-opacity="0.8"/>
<circle cx="177.4" cy="308.4" r="0.45" fill-opacity="0.7"/>
<circle cx="160.3" cy="287.3" r="0.67" fill-opacity="0.6"/>
<circle cx="173.1" cy="281.8" r="0.74" fill-opacity="0.8"/>
<circle cx="173.7" cy="316.3" r="0.38" fill-opacity="1.0"/>
<circle cx="189.8" cy="294.0" r="0.39" fill-opacity="0.5"/>
<circle cx="181.6" cy="283.1" r="0.60" fill-opacity="0.5"/>
<circle cx="162.8" cy="283.5" r="0.77" fill-opacity="0.6"/>
<circle cx="176.8" cy="307.2" r="0.58" fill-opacity="0.5"/>
<circle cx="167.9" cy="291.2" r="0.47" fill-opacity="0.5"/>
<circle cx="184.6" cy="302.9" r="0.63" fill-opacity="0.6"/>
<circle cx="182.5" cy="310.9" r="0.89" fill-opacity="0.7"/>
<circle cx="155.9" cy="300.1" r="0.46" fill-opacity="0.7"/>
<circle cx="169.7" cy="294.4" r="0.39" fill-opacity="0.5"/>
<circle cx="170.2" cy="280.1" r="0.54" fill-opacity="0.7"/>
<circle cx="165.2" cy="303.8" r="0.57" fill-opacity="0.8"/>
<circle cx="187.9" cy="313.4" r="0.35" fill-opacity="0.8"/>
<circle cx="187.1" cy="284.9" r="0.70" fill-opacity="0.6"/>
<circle cx="188.3" cy="292.5" r="0.51" fill-opacity="0.7"/>
<circle cx="160.2" cy="293.2" r="0.87" fill-opacity="0.9"/>
<circle cx="184.4" cy="307.9" r="0.79" fill-opacity="0.9"/>
<circle cx="161.7" cy="289.9" r="0.87" fill-opacity="0.6"/>
<circle cx="163.6" cy="294.7" r="0.41" fill-opacity="0.6"/>
<circle cx="191.7" cy="288.0" r="0.53" fill-opacity="0.5"/>
<circle cx="161.6" cy="300.3" r="0.84" fill-opacity="0.6"/>
<circle cx="167.4" cy="310.1" r="0.70" fill-opacity="1.0"/>
<circle cx="164.3" cy="300.1" r="0.69" fill-opacity="0.7"/>
<circle cx="178.9" cy="288.7" r="0.56" fill-opacity="0.7"/>
<circle cx="163.2" cy="312.7" r="0.50" fill-opacity="0.7"/>
<circle cx="166.9" cy="313.9" r="0.73" fill-opacity="0.5"/>
<circle cx="185.8" cy="299.7" r="0.79" fill-opacity="0.5"/>
<circle cx="182.6" cy="306.0" r="0.50" fill-opacity="0.5"/>
<circle cx="174.6" cy="282.0" r="0.87" fill-opacity="1.0"/>
<circle cx="157.1" cy="292.6" r="0.86" fill-opacity="0.5"/>
<circle cx="167.9" cy="302.0" r="0.82" fill-opacity="0.9"/>
<circle cx="171.6" cy="302.4" r="0.76" fill-opacity="0.9"/>
<circle cx="159.2" cy="287.4" r="0.38" fill-opacity="0.5"/>
<circle cx="178.7" cy="300.5" r="0.70" fill-opacity="0.8"/>
<circle cx="183.0" cy="303.6" r="0.69" fill-opacity="0.5"/>
<circle cx="166.7" cy="281.4" r="0.89" fill-opacity="0.6"/>
<circle cx="164.3" cy="303.4" r="0.48" fill-opacity="0.6"/>
<circle cx="197.5" cy="295.4" r="0.45" fill-opacity="0.8"/>
<circle cx="180.0" cy="305.4" r="0.76" fill-opacity="0.6"/>
<circle cx="191.0" cy="303.7" r="0.37" fill-opacity="0.8"/>
<circle cx="158.9" cy="305.0" r="0.60" fill-opacity="0.8"/>
<circle cx="188.6" cy="288.2" r="0.57" fill-opacity="0.6"/>
<circle cx="195.0" cy="292.2" r="0.66" fill-opacity="1.0"/>
<circle cx="182.1" cy="304.9" r="0.73" fill-opacity="0.7"/>
<circle cx="195.6" cy="299.0" r="0.63" fill-opacity="0.9"/>
<circle cx="195.5" cy="299.1" r="0.72" fill-opacity="0.7"/>
<circle cx="160.0" cy="291.4" r="0.88" fill-opacity="0.7"/>
<circle cx="196.2" cy="293.3" r="0.52" fill-opacity="0.8"/>
<circle cx="168.6" cy="305.6" r="0.79" fill-opacity="0.9"/>
<circle cx="181.1" cy="281.2" r="0.73" fill-opacity="1.0"/>
<circle cx="168.8" cy="314.0" r="0.69" fill-opacity="0.6"/>
<circle cx="187.2" cy="313.7" r="0.50" fill-opacity="0.7"/>
<circle cx="181.9" cy="295.9" r="0.77" fill-opacity="1.0"/>
<circle cx="187.5" cy="312.3" r="0.85" fill-opacity="0.8"/>
<circle cx="164.6" cy="291.9" r="0.40" fill-opacity="1.0"/>
<circle cx="177.7" cy="292.3" r="0.41" fill-opacity="0.6"/>
<circle cx="186.3" cy="289.1" r="0.49" fill-opacity="0.8"/>
<circle cx="174.4" cy="282.8" r="0.62" fill-opacity="0.5"/>
<circle cx="174.8" cy="289.6" r="0.50" fill-opacity="0.8"/>
<circle cx="162.5" cy="312.2" r="0.90" fill-opacity="1.0"/>
<circle cx="162.1" cy="305.1" r="0.77" fill-opacity="0.9"/>
<circle cx="157.5" cy="303.4" r="0.87" fill-opacity="0.7"/>
<circle cx="169.3" cy="299.6" r="0.43" fill-opacity="0.9"/>
<circle cx="174.4" cy="294.4" r="0.65" fill-opacity="1.0"/>
<circle cx="176.0" cy="291.4" r="0.56" fill-opacity="0.8"/>
<circle cx="176.6" cy="316.2" r="0.61" fill-opacity="0.5"/>
<circle cx="193.3" cy="307.9" r="0.37" fill-opacity="0.9"/>
<circle cx="162.3" cy="301.5" r="0.75" fill-opacity="0.8"/>
<circle cx="165.1" cy="314.3" r="0.43" fill-opacity="0.6"/>
<circle cx="179.4" cy="292.3" r="0.63" fill-opacity="0.6"/>
<circle cx="172.0" cy="305.3" r="0.61" fill-opacity="1.0"/>
<circle cx="178.9" cy="288.9" r="0.47" fill-opacity="1.0"/>
<circle cx="190.4" cy="290.0" r="0.77" fill-opacity="1.0"/>
<circle cx="165.9" cy="288.0" r="0.59" fill-opacity="0.9"/>
<circle cx="193.1" cy="309.4" r="0.73" fill-opacity="0.9"/>
<circle cx="176.2" cy="289.1" r="0.80" fill-opacity="0.7"/>
<circle cx="196.4" cy="294.0" r="0.73" fill-opacity="0.5"/>
<circle cx="163.7" cy="294.3" r="0.43" fill-opacity="0.5"/>
<circle cx="161.8" cy="301.1" r="0.55" fill-opacity="0.6"/>
<circle cx="159.0" cy="292.8" r="0.44" fill-opacity="0.8"/>
<circle cx="186.2" cy="290.7" r="0.89" fill-opacity="1.0"/>
<circle cx="186.8" cy="310.0" r="0.56" fill-opacity="1.0"/>
<circle cx="165.1" cy="295.3" r="0.46" fill-opacity="0.5"/>
<circle cx="184.6" cy="305.8" r="0.66" fill-opacity="0.8"/>
<circle cx="193.2" cy="293.3" r="0.87" fill-opacity="0.6"/>
<circle cx="166.0" cy="287.7" r="0.72" fill-opacity="0.9"/>
<circle cx="165.9" cy="310.2" r="0.88" fill-opacity="0.6"/>
<circle cx="177.3" cy="317.8" r="0.36" fill-opacity="0.5"/>
<circle cx="167.4" cy="295.6" r="0.41" fill-opacity="0.7"/>
<circle cx="185.5" cy="284.8" r="0.86" fill-opacity="0.8"/>
<circle cx="194.0" cy="297.7" r="0.35" fill-opacity="0.8"/>
<circle cx="189.8" cy="302.4" r="0.52" fill-opacity="1.0"/>
<circle cx="174.7" cy="297.7" r="0.85" fill-opacity="0.7"/>
<circle cx="160.1" cy="289.0" r="0.46" fill-opacity="0.5"/>
<circle cx="184.9" cy="314.6" r="0.86" fill-opacity="0.5"/>
<circle cx="174.3" cy="316.8" r="0.53" fill-opacity="0.7"/>
<circle cx="189.8" cy="295.9" r="0.39" fill-opacity="0.8"/>
<circle cx="186.7" cy="281.5" r="0.76" fill-opacity="0.5"/>
<circle cx="175.5" cy="306.0" r="0.71" fill-opacity="0.7"/>
<circle cx="196.8" cy="292.9" r="0.69" fill-opacity="1.0"/>
<circle cx="171.6" cy="292.0" r="0.65" fill-opacity="0.8"/>
<circle cx="163.7" cy="312.9" r="0.43" fill-opacity="0.6"/>
<circle cx="181.0" cy="304.8" r="0.79" fill-opacity="0.8"/>
<circle cx="184.6" cy="310.2" r="0.66" fill-opacity="0.8"/>
<circle cx="163.1" cy="306.0" r="0.38" fill-opacity="0.5"/>
<circle cx="167.3" cy="303.0" r="0.48" fill-opacity="0.9"/>
<circle cx="181.2" cy="289.9" r="0.61" fill-opacity="0.5"/>
<circle cx="167.1" cy="305.9" r="0.47" fill-opacity="0.9"/>
<circle cx="167.1" cy="282.8" r="0.63" fill-opacity="0.7"/>
<circle cx="191.2" cy="291.5" r="0.39" fill-opacity="0.5"/>
<circle cx="187.2" cy="304.1" r="0.71" fill-opacity="0.5"/>
<circle cx="166.0" cy="303.5" r="0.87" fill-opacity="0.7"/>
<circle cx="176.8" cy="306.2" r="0.53" fill-opacity="0.6"/>
<circle cx="191.6" cy="289.7" r="0.44" fill-opacity="0.7"/>
<circle cx="183.7" cy="300.4" r="0.71" fill-opacity="0.9"/>
<circle cx="185.8" cy="311.4" r="0.63" fill-opacity="0.5"/>
<circle cx="173.0" cy="303.9" r="0.74" fill-opacity="0.9"/>
<circle cx="167.8" cy="298.0" r="0.59" fill-opacity="0.8"/>
<circle cx="173.1" cy="293.5" r="0.35" fill-opacity="0.9"/>
<circle cx="178.8" cy="310.7" r="0.40" fill-opacity="0.6"/>
<circle cx="168.4" cy="280.5" r="0.50" fill-opacity="0.6"/>
<circle cx="171.7" cy="290.4" r="0.73" fill-opacity="0.7"/>
<circle cx="168.9" cy="301.8" r="0.65" fill-opacity="0.5"/>
<circle cx="196.9" cy="297.4" r="0.63" fill-opacity="0.5"/>
<circle cx="167.1" cy="299.1" r="0.62" fill-opacity="0.8"/>
<circle cx="180.7" cy="288.6" r="0.80" fill-opacity="1.0"/>
<circle cx="168.6" cy="299.7" r="0.42" fill-opacity="0.7"/>
<circle cx="169.5" cy="283.4" r="0.89" fill-opacity="0.8"/>
<circle cx="193.8" cy="303.1" r="0.41" fill-opacity="0.9"/>
<circle cx="174.3" cy="302.6" r="0.75" fill-opacity="0.8"/>
<circle cx="166.2" cy="311.8" r="0.74" fill-opacity="0.7"/>
<circle cx="173.0" cy="317.6" r="0.35" fill-opacity="0.7"/>
<circle cx="191.7" cy="307.6" r="0.70" fill-opacity="0.9"/>
<circle cx="187.6" cy="313.7" r="0.41" fill-opacity="0.8"/>
<circle cx="163.7" cy="309.5" r="0.37" fill-opacity="0.5"/>
<circle cx="164.4" cy="313.1" r="0.53" fill-opacity="1.0"/>
<circle cx="192.4" cy="289.1" r="0.67" fill-opacity="0.9"/>
<circle cx="193.3" cy="295.5" r="0.66" fill-opacity="1.0"/>
<circle cx="181.6" cy="311.8" r="0.54" fill-opacity="0.7"/>
<circle cx="165.8" cy="308.5" r="0.47" fill-opacity="0.8"/>
<circle cx="173.9" cy="312.2" r="0.58" fill-opacity="0.7"/>
<circle cx="171.8" cy="291.3" r="0.50" fill-opacity="0.7"/>
<circle cx="178.7" cy="282.2" r="0.63" fill-opacity="0.9"/>
<circle cx="176.6" cy="317.4" r="0.56" fill-opacity="0.7"/>
<circle cx="173.1" cy="310.5" r="0.80" fill-opacity="0.8"/>
<circle cx="158.4" cy="300.3" r="0.60" fill-opacity="0.6"/>
<circle cx="169.1" cy="306.9" r="0.77" fill-opacity="0.6"/>
<circle cx="175.5" cy="289.6" r="0.78" fill-opacity="0.6"/>
<circle cx="166.6" cy="285.2" r="0.73" fill-opacity="0.8"/>
<circle cx="175.7" cy="303.3" r="0.37" fill-opacity="0.6"/>
<circle cx="191.5" cy="295.1" r="0.88" fill-opacity="0.8"/>
<circle cx="179.9" cy="289.7" r="0.41" fill-opacity="0.6"/>
<circle cx="181.7" cy="282.4" r="0.55" fill-opacity="0.7"/>
<circle cx="174.6" cy="312.1" r="0.84" fill-opacity="0.8"/>
<circle cx="188.0" cy="283.7" r="0.58" fill-opacity="0.7"/>
<circle cx="168.3" cy="316.3" r="0.44" fill-opacity="0.6"/>
<circle cx="172.5" cy="317.0" r="0.53" fill-opacity="0.9"/>
<circle cx="188.5" cy="283.6" r="0.46" fill-opacity="0.7"/>
<circle cx="178.4" cy="286.6" r="0.85" fill-opacity="0.5"/>
<circle cx="164.0" cy="303.1" r="0.49" fill-opacity="0.8"/>
<circle cx="189.7" cy="300.1" r="0.36" fill-opacity="0.7"/>
<circle cx="163.6" cy="310.8" r="0.72" fill-opacity="0.6"/>
<circle cx="169.9" cy="292.5" r="0.72" fill-opacity="0.5"/>
<circle cx="167.7" cy="291.7" r="0.82" fill-opacity="0.6"/>
<circle cx="185.2" cy="293.4" r="0.67" fill-opacity="0.8"/>
<circle cx="174.7" cy="301.9" r="0.70" fill-opacity="0.6"/>
<circle cx="164.3" cy="290.1" r="0.47" fill-opacity="0.5"/>
<circle cx="171.3" cy="310.2" r="0.85" fill-opacity="0.6"/>
<circle cx="192.3" cy="311.5" r="0.82" fill-opacity="0.6"/>
<circle cx="177.2" cy="313.5" r="0.37" fill-opacity="0.7"/>
<circle cx="182.0" cy="281.6" r="0.78" fill-opacity="0.6"/>
<circle cx="155.5" cy="301.0" r="0.56" fill-opacity="0.5"/>
<circle cx="178.8" cy="313.8" r="0.81" fill-opacity="0.9"/>
<circle cx="163.9" cy="294.9" r="0.41" fill-opacity="0.9"/>
<circle cx="175.3" cy="315.5" r="0.90" fill-opacity="0.7"/>
<circle cx="188.7" cy="305.7" r="0.35" fill-opacity="0.6"/>
<circle cx="181.8" cy="301.8" r="0.59" fill-opacity="0.7"/>
<circle cx="165.1" cy="298.0" r="0.63" fill-opacity="0.8"/>
<circle cx="185.2" cy="297.6" r="0.62" fill-opacity="0.7"/>
<circle cx="162.8" cy="311.6" r="0.83" fill-opacity="0.6"/>
<circle cx="168.8" cy="307.3" r="0.66" fill-opacity="0.8"/>
<circle cx="175.2" cy="304.1" r="0.55" fill-opacity="1.0"/>
<circle cx="189.5" cy="309.0" r="0.53" fill-opacity="0.7"/>
<circle cx="167.2" cy="314.4" r="0.58" fill-opacity="0.6"/>
<circle cx="188.8" cy="295.4" r="0.44" fill-opacity="0.7"/>
<circle cx="167.4" cy="284.9" r="0.57" fill-opacity="0.7"/>
<circle cx="178.6" cy="315.8" r="0.81" fill-opacity="0.7"/>
<circle cx="163.6" cy="310.4" r="0.47" fill-opacity="0.5"/>
<circle cx="193.6" cy="294.5" r="0.62" fill-opacity="0.8"/>
<circle cx="167.2" cy="300.0" r="0.70" fill-opacity="0.5"/>
<circle cx="172.8" cy="289.1" r="0.42" fill-opacity="0.8"/>
<circle cx="169.8" cy="293.2" r="0.52" fill-opacity="0.7"/>
<circle cx="169.1" cy="296.3" r="0.69" fill-opacity="0.7"/>
<circle cx="184.3" cy="306.7" r="0.65" fill-opacity="0.8"/>
<circle cx="162.5" cy="286.9" r="0.47" fill-opacity="0.8"/>
<circle cx="158.3" cy="304.8" r="0.76" fill-opacity="0.8"/>
<circle cx="167.1" cy="308.4" r="0.80" fill-opacity="1.0"/>
<circle cx="172.5" cy="293.3" r="0.37" fill-opacity="0.8"/>
<circle cx="195.7" cy="290.7" r="0.50" fill-opacity="0.9"/>
<circle cx="181.6" cy="291.7" r="0.64" fill-opacity="0.9"/>
<circle cx="196.5" cy="300.3" r="0.81" fill-opacity="0.7"/>
<circle cx="170.6" cy="285.2" r="0.46" fill-opacity="0.9"/>
<circle cx="186.5" cy="291.7" r="0.54" fill-opacity="0.5"/>
<circle cx="181.7" cy="300.6" r="0.42" fill-opacity="0.8"/>
<circle cx="182.7" cy="307.4" r="0.86" fill-opacity="0.6"/>
<circle cx="193.0" cy="288.3" r="0.59" fill-opacity="1.0"/>
<circle cx="179.7" cy="288.5" r="0.80" fill-opacity="1.0"/>
<circle cx="175.4" cy="289.2" r="0.86" fill-opacity="0.5"/>
<circle cx="160.7" cy="293.6" r="0.43" fill-opacity="0.9"/>
<circle cx="172.0" cy="285.8" r="0.60" fill-opacity="0.9"/>
<circle cx="183.3" cy="316.6" r="0.76" fill-opacity="0.6"/>
<circle cx="181.7" cy="290.0" r="0.57" fill-opacity="0.8"/>
<circle cx="178.1" cy="307.5" r="0.55" fill-opacity="1.0"/>
<circle cx="161.4" cy="297.6" r="0.76" fill-opacity="0.5"/>
<circle cx="175.9" cy="280.2" r="0.47" fill-opacity="0.6"/>
<circle cx="166.0" cy="312.2" r="0.57" fill-opacity="0.8"/>
<circle cx="168.2" cy="297.3" r="0.61" fill-opacity="1.0"/>
<circle cx="157.6" cy="297.8" r="0.75" fill-opacity="0.6"/>
<circle cx="164.9" cy="312.6" r="0.50" fill-opacity="0.5"/>
<circle cx="166.8" cy="288.3" r="0.67" fill-opacity="0.7"/>
<circle cx="179.3" cy="311.2" r="0.79" fill-opacity="0.5"/>
<circle cx="176.0" cy="316.4" r="0.68" fill-opacity="0.8"/>
<circle cx="171.2" cy="293.6" r="0.51" fill-opacity="0.9"/>
<circle cx="188.8" cy="285.3" r="0.80" fill-opacity="0.8"/>
<circle cx="160.4" cy="304.7" r="0.45" fill-opacity="1.0"/>
<circle cx="187.5" cy="305.9" r="0.43" fill-opacity="0.7"/>
<circle cx="180.1" cy="316.4" r="0.43" fill-opacity="0.7"/>
<circle cx="183.1" cy="312.1" r="0.61" fill-opacity="0.6"/>
<circle cx="162.8" cy="295.4" r="0.81" fill-opacity="0.7"/>
<circle cx="196.9" cy="300.5" r="0.37" fill-opacity="0.6"/>
<circle cx="178.3" cy="283.8" r="0.47" fill-opacity="0.7"/>
<circle cx="178.8" cy="287.9" r="0.48" fill-opacity="0.8"/>
<circle cx="161.1" cy="291.5" r="0.61" fill-opacity="0.7"/>
<circle cx="192.2" cy="304.8" r="0.43" fill-opacity="0.8"/>
<circle cx="159.2" cy="293.2" r="0.81" fill-opacity="0.5"/>
<circle cx="179.8" cy="295.3" r="0.40" fill-opacity="0.6"/>
<circle cx="176.4" cy="304.3" r="0.49" fill-opacity="0.7"/>
<circle cx="172.0" cy="311.2" r="0.78" fill-opacity="0.7"/>
<circle cx="175.3" cy="292.0" r="0.35" fill-opacity="0.6"/>
<circle cx="173.2" cy="304.2" r="0.78" fill-opacity="0.8"/>
<circle cx="186.2" cy="298.3" r="0.77" fill-opacity="0.5"/>
<circle cx="159.0" cy="308.5" r="0.52" fill-opacity="0.7"/>
<circle cx="195.1" cy="306.9" r="0.59" fill-opacity="0.7"/>
<circle cx="159.3" cy="305.1" r="0.61" fill-opacity="0.9"/>
<circle cx="182.4" cy="309.7" r="0.57" fill-opacity="0.9"/>
<circle cx="168.0" cy="286.1" r="0.67" fill-opacity="0.7"/>
<circle cx="177.0" cy="313.1" r="0.39" fill-opacity="0.9"/>
<circle cx="162.9" cy="312.0" r="0.36" fill-opacity="1.0"/>
<circle cx="164.7" cy="287.3" r="0.61" fill-opacity="0.9"/>
<circle cx="184.4" cy="306.4" r="0.75" fill-opacity="0.8"/>
<circle cx="181.3" cy="313.6" r="0.71" fill-opacity="0.8"/>
<circle cx="190.5" cy="300.3" r="0.68" fill-opacity="0.6"/>
<circle cx="172.5" cy="304.5" r="0.51" fill-opacity="0.8"/>
<circle cx="179.5" cy="288.0" r="0.79" fill-opacity="0.8"/>
<circle cx="190.1" cy="309.6" r="0.86" fill-opacity="0.5"/>
<circle cx="194.4" cy="301.1" r="0.45" fill-opacity="0.7"/>
<circle cx="164.6" cy="307.0" r="0.42" fill-opacity="0.7"/>
<circle cx="165.0" cy="297.0" r="0.56" fill-opacity="1.0"/>
<circle cx="167.2" cy="302.2" r="0.53" fill-opacity="1.0"/>
<circle cx="164.7" cy="284.3" r="0.77" fill-opacity="0.7"/>
<circle cx="175.2" cy="304.9" r="0.60" fill-opacity="0.5"/>
<circle cx="183.2" cy="292.2" r="0.77" fill-opacity="0.7"/>
<circle cx="175.1" cy="306.1" r="0.58" fill-opacity="0.7"/>
<circle cx="195.2" cy="291.5" r="0.66" fill-opacity="0.6"/>
<circle cx="173.1" cy="300.3" r="0.85" fill-opacity="0.7"/>
<circle cx="171.2" cy="312.7" r="0.38" fill-opacity="0.8"/>
<circle cx="182.8" cy="295.5" r="0.74" fill-opacity="0.6"/>
<circle cx="189.5" cy="300.0" r="0.61" fill-opacity="0.5"/>
<circle cx="184.7" cy="299.3" r="0.39" fill-opacity="0.6"/>
<circle cx="184.4" cy="303.2" r="0.43" fill-opacity="0.7"/>
<circle cx="182.4" cy="287.1" r="0.48" fill-opacity="0.6"/>
<circle cx="179.0" cy="294.9" r="0.40" fill-opacity="0.9"/>
<circle cx="189.3" cy="294.2" r="0.82" fill-opacity="0.8"/>
<circle cx="180.9" cy="301.4" r="0.67" fill-opacity="0.8"/>
<circle cx="174.5" cy="288.3" r="0.45" fill-opacity="0.7"/>
<circle cx="166.1" cy="302.5" r="0.51" fill-opacity="0.8"/>
<circle cx="173.8" cy="314.0" r="0.79" fill-opacity="0.5"/>
<circle cx="166.3" cy="298.8" r="0.63" fill-opacity="0.5"/>
<circle cx="158.4" cy="298.1" r="0.58" fill-opacity="0.7"/>
<circle cx="185.2" cy="292.1" r="0.84" fill-opacity="1.0"/>
<circle cx="197.1" cy="297.3" r="0.80" fill-opacity="0.6"/>
<circle cx="169.2" cy="292.8" r="0.71" fill-opacity="1.0"/>
<circle cx="182.3" cy="284.9" r="0.82" fill-opacity="0.5"/>
<circle cx="181.4" cy="307.4" r="0.46" fill-opacity="0.8"/>
<circle cx="159.0" cy="302.4" r="0.71" fill-opacity="0.5"/>
<circle cx="188.1" cy="306.8" r="0.73" fill-opacity="0.8"/>
<circle cx="185.5" cy="300.8" r="0.57" fill-opacity="1.0"/>
<circle cx="164.9" cy="304.0" r="0.76" fill-opacity="0.8"/>
<circle cx="168.6" cy="288.4" r="0.63" fill-opacity="0.8"/>
<circle cx="184.4" cy="316.2" r="0.78" fill-opacity="1.0"/>
<circle cx="191.0" cy="297.9" r="0.48" fill-opacity="0.9"/>
<circle cx="175.7" cy="281.9" r="0.81" fill-opacity="1.0"/>
<circle cx="184.5" cy="291.5" r="0.61" fill-opacity="0.9"/>
<circle cx="171.6" cy="309.5" r="0.81" fill-opacity="0.9"/>
<circle cx="186.3" cy="285.2" r="0.44" fill-opacity="0.5"/>
<circle cx="167.6" cy="294.8" r="0.41" fill-opacity="0.6"/>
<circle cx="186.7" cy="312.2" r="0.82" fill-opacity="0.6"/>
<circle cx="167.1" cy="314.4" r="0.50" fill-opacity="0.6"/>
<circle cx="174.7" cy="299.8" r="0.56" fill-opacity="0.7"/>
<circle cx="196.2" cy="299.9" r="0.35" fill-opacity="0.7"/>
<circle cx="186.4" cy="296.2" r="0.36" fill-opacity="0.6"/>
<circle cx="191.0" cy="308.2" r="0.63" fill-opacity="0.8"/>
<circle cx="176.8" cy="309.0" r="0.55" fill-opacity="1.0"/>
<circle cx="196.5" cy="297.3" r="0.82" fill-opacity="0.5"/>
<circle cx="194.3" cy="300.7" r="0.73" fill-opacity="0.9"/>
<circle cx="158.2" cy="293.1" r="0.65" fill-opacity="0.5"/>
<circle cx="175.2" cy="310.8" r="0.74" fill-opacity="0.6"/>
<circle cx="159.6" cy="290.8" r="0.68" fill-opacity="0.8"/>
<circle cx="193.4" cy="290.2" r="0.53" fill-opacity="0.8"/>
<circle cx="188.2" cy="293.3" r="0.53" fill-opacity="0.5"/>
<circle cx="170.9" cy="280.3" r="0.71" fill-opacity="0.8"/>
<circle cx="193.8" cy="291.9" r="0.60" fill-opacity="0.7"/>
<circle cx="177.2" cy="287.5" r="0.69" fill-opacity="0.5"/>
<circle cx="180.3" cy="289.4" r="0.84" fill-opacity="0.8"/>
<circle cx="182.0" cy="303.7" r="0.53" fill-opacity="0.7"/>
<circle cx="196.7" cy="292.4" r="0.79" fill-opacity="0.7"/>
<circle cx="170.5" cy="292.5" r="0.45" fill-opacity="1.0"/>
<circle cx="189.2" cy="304.6" r="0.61" fill-opacity="0.5"/>
<circle cx="158.8" cy="308.5" r="0.82" fill-opacity="0.7"/>
<circle cx="179.5" cy="283.8" r="0.52" fill-opacity="0.6"/>
<circle cx="163.1" cy="299.2" r="0.63" fill-opacity="0.8"/>
<circle cx="169.2" cy="312.2" r="0.46" fill-opacity="1.0"/>
<circle cx="175.3" cy="300.3" r="0.38" fill-opacity="0.5"/>
<circle cx="159.3" cy="306.9" r="0.88" fill-opacity="0.8"/>
<circle cx="185.0" cy="285.7" r="0.36" fill-opacity="0.8"/>
<circle cx="168.4" cy="305.2" r="0.39" fill-opacity="0.8"/>
<circle cx="163.9" cy="295.3" r="0.57" fill-opacity="0.7"/>
<circle cx="191.1" cy="308.5" r="0.68" fill-opacity="0.9"/>
<circle cx="188.8" cy="308.6" r="0.89" fill-opacity="0.9"/>
<circle cx="176.7" cy="294.3" r="0.72" fill-opacity="0.9"/>
<circle cx="173.1" cy="317.0" r="0.84" fill-opacity="0.9"/>
<circle cx="176.8" cy="313.4" r="0.51" fill-opacity="0.7"/>
<circle cx="177.7" cy="283.1" r="0.65" fill-opacity="0.6"/>
<circle cx="190.9" cy="292.1" r="0.66" fill-opacity="1.0"/>
<circle cx="180.1" cy="298.3" r="0.65" fill-opacity="0.7"/>
<circle cx="173.5" cy="279.4" r="0.61" fill-opacity="0.8"/>
<circle cx="166.2" cy="287.8" r="0.87" fill-opacity="0.8"/>
<circle cx="188.5" cy="299.5" r="0.38" fill-opacity="0.9"/>
<circle cx="177.4" cy="295.2" r="0.79" fill-opacity="0.8"/>
<circle cx="177.5" cy="310.6" r="0.74" fill-opacity="0.6"/>
<circle cx="160.2" cy="295.8" r="0.67" fill-opacity="0.6"/>
<circle cx="194.5" cy="293.6" r="0.49" fill-opacity="1.0"/>
<circle cx="163.3" cy="297.3" r="0.79" fill-opacity="0.6"/>
<circle cx="183.7" cy="311.6" r="0.86" fill-opacity="0.9"/>
<circle cx="187.5" cy="299.7" r="0.87" fill-opacity="0.7"/>
<circle cx="186.6" cy="313.9" r="0.65" fill-opacity="0.7"/>
<circle cx="181.4" cy="296.3" r="0.44" fill-opacity="0.6"/>
<circle cx="184.3" cy="306.5" r="0.67" fill-opacity="0.8"/>
<circle cx="190.3" cy="310.7" r="0.43" fill-opacity="0.7"/>
<circle cx="184.8" cy="282.5" r="0.87" fill-opacity="0.6"/>
<circle cx="180.3" cy="289.8" r="0.83" fill-opacity="0.5"/>
<circle cx="179.6" cy="293.1" r="0.78" fill-opacity="0.9"/>
<circle cx="163.5" cy="285.2" r="0.53" fill-opacity="1.0"/>
<circle cx="186.8" cy="282.2" r="0.73" fill-opacity="0.6"/>
<circle cx="168.6" cy="282.0" r="0.50" fill-opacity="0.8"/>
<circle cx="176.3" cy="312.9" r="0.82" fill-opacity="0.5"/>
<circle cx="184.5" cy="292.3" r="0.72" fill-opacity="0.8"/>
<circle cx="190.0" cy="310.5" r="0.52" fill-opacity="0.9"/>
<circle cx="185.7" cy="304.5" r="0.61" fill-opacity="0.9"/>
<circle cx="179.9" cy="291.3" r="0.54" fill-opacity="0.5"/>
<circle cx="182.7" cy="293.1" r="0.76" fill-opacity="0.5"/>
<circle cx="191.1" cy="307.2" r="0.49" fill-opacity="0.5"/>
<circle cx="166.2" cy="282.8" r="0.60" fill-opacity="0.7"/>
<circle cx="188.7" cy="300.7" r="0.78" fill-opacity="0.6"/>
<circle cx="172.3" cy="281.6" r="0.73" fill-opacity="0.7"/>
<circle cx="185.7" cy="307.2" r="0.51" fill-opacity="0.6"/>
<circle cx="175.8" cy="289.5" r="0.51" fill-opacity="0.6"/>
<circle cx="187.7" cy="286.7" r="0.56" fill-opacity="0.7"/>
<circle cx="194.7" cy="289.5" r="0.66" fill-opacity="0.7"/>
<circle cx="183.5" cy="291.0" r="0.41" fill-opacity="0.6"/>
<circle cx="157.8" cy="298.3" r="0.59" fill-opacity="0.5"/>
<circle cx="191.2" cy="297.7" r="0.81" fill-opacity="0.7"/>
<circle cx="186.7" cy="291.0" r="0.70" fill-opacity="0.5"/>
<circle cx="175.3" cy="279.7" r="0.52" fill-opacity="0.8"/>
<circle cx="165.1" cy="297.5" r="0.61" fill-opacity="0.7"/>
<circle cx="193.8" cy="288.7" r="0.61" fill-opacity="1.0"/>
<circle cx="184.2" cy="296.9" r="0.70" fill-opacity="1.0"/>
<circle cx="186.0" cy="289.5" r="0.36" fill-opacity="1.0"/>
<circle cx="187.6" cy="284.0" r="0.81" fill-opacity="0.7"/>
<circle cx="180.7" cy="315.1" r="0.58" fill-opacity="0.7"/>
<circle cx="182.8" cy="315.1" r="0.40" fill-opacity="0.9"/>
<circle cx="186.4" cy="297.2" r="0.58" fill-opacity="0.7"/>
<circle cx="158.7" cy="289.9" r="0.70" fill-opacity="1.0"/>
<circle cx="171.9" cy="303.3" r="0.64" fill-opacity="0.5"/>
<circle cx="164.2" cy="292.0" r="0.58" fill-opacity="1.0"/>
<circle cx="168.3" cy="308.7" r="0.87" fill-opacity="0.5"/>
<circle cx="163.3" cy="290.7" r="0.49" fill-opacity="0.7"/>
<circle cx="170.5" cy="311.1" r="0.89" fill-opacity="0.7"/>
<circle cx="167.6" cy="295.1" r="0.44" fill-opacity="0.5"/>
<circle cx="165.8" cy="312.8" r="0.48" fill-opacity="0.9"/>
<circle cx="179.2" cy="285.7" r="0.64" fill-opacity="0.7"/>
<circle cx="181.8" cy="299.8" r="0.73" fill-opacity="0.8"/>
<circle cx="161.6" cy="311.3" r="0.52" fill-opacity="0.9"/>
<circle cx="191.0" cy="304.5" r="0.47" fill-opacity="0.8"/>
<circle cx="190.8" cy="302.2" r="0.76" fill-opacity="0.5"/>
<circle cx="168.6" cy="291.2" r="0.48" fill-opacity="0.7"/>
<circle cx="180.1" cy="306.2" r="0.60" fill-opacity="0.9"/>
<circle cx="173.8" cy="287.2" r="0.68" fill-opacity="0.9"/>
<circle cx="168.9" cy="288.4" r="0.45" fill-opacity="0.8"/>
<circle cx="193.7" cy="295.9" r="0.70" fill-opacity="0.7"/>
<circle cx="186.5" cy="305.2" r="0.81" fill-opacity="0.6"/>
<circle cx="190.7" cy="299.6" r="0.78" fill-opacity="0.9"/>
<circle cx="174.2" cy="287.9" r="0.74" fill-opacity="0.6"/>
<circle cx="171.0" cy="314.4" r="0.77" fill-opacity="0.6"/>
<circle cx="159.3" cy="290.7" r="0.56" fill-opacity="1.0"/>
<circle cx="178.6" cy="298.3" r="0.37" fill-opacity="0.9"/>
<circle cx="163.8" cy="295.1" r="0.52" fill-opacity="0.9"/>
<circle cx="181.4" cy="315.3" r="0.77" fill-opacity="0.8"/>
<circle cx="172.4" cy="298.8" r="0.47" fill-opacity="0.9"/>
<circle cx="176.0" cy="298.6" r="0.72" fill-opacity="0.6"/>
<circle cx="178.0" cy="282.9" r="0.75" fill-opacity="0.7"/>
<circle cx="171.8" cy="290.7" r="0.68" fill-opacity="0.7"/>
<circle cx="175.2" cy="289.9" r="0.54" fill-opacity="0.6"/>
<circle cx="186.9" cy="305.1" r="0.67" fill-opacity="0.9"/>
<circle cx="185.0" cy="313.3" r="0.76" fill-opacity="0.5"/>
<circle cx="180.5" cy="303.4" r="0.63" fill-opacity="0.6"/>
<circle cx="174.0" cy="316.8" r="0.51" fill-opacity="1.0"/>
<circle cx="176.5" cy="282.2" r="0.49" fill-opacity="0.8"/>
<circle cx="196.3" cy="292.5" r="0.53" fill-opacity="0.5"/>
<circle cx="172.4" cy="306.4" r="0.84" fill-opacity="0.7"/>
<circle cx="195.8" cy="301.2" r="0.36" fill-opacity="0.6"/>
<circle cx="185.5" cy="292.5" r="0.41" fill-opacity="0.6"/>
<circle cx="171.6" cy="303.5" r="0.49" fill-opacity="0.5"/>
<circle cx="164.0" cy="292.3" r="0.64" fill-opacity="0.6"/>
<circle cx="179.2" cy="282.0" r="0.85" fill-opacity="0.6"/>
<circle cx="180.6" cy="284.3" r="0.53" fill-opacity="0.7"/>
<circle cx="189.8" cy="312.3" r="0.40" fill-opacity="0.8"/>
<circle cx="194.4" cy="290.2" r="0.74" fill-opacity="0.5"/>
<circle cx="177.7" cy="312.8" r="0.54" fill-opacity="0.9"/>
<circle cx="159.1" cy="298.7" r="0.69" fill-opacity="0.6"/>
<circle cx="157.7" cy="307.3" r="0.74" fill-opacity="0.6"/>
<circle cx="187.3" cy="301.1" r="0.43" fill-opacity="0.5"/>
<circle cx="167.7" cy="297.1" r="0.40" fill-opacity="0.9"/>
<circle cx="162.3" cy="285.8" r="0.47" fill-opacity="0.5"/>
<circle cx="177.9" cy="285.1" r="0.54" fill-opacity="1.0"/>
<circle cx="159.8" cy="310.0" r="0.88" fill-opacity="0.6"/>
<circle cx="183.9" cy="293.0" r="0.87" fill-opacity="0.8"/>
<circle cx="191.0" cy="310.6" r="0.76" fill-opacity="0.9"/>
<circle cx="171.1" cy="294.8" r="0.41" fill-opacity="1.0"/>
<circle cx="180.3" cy="282.2" r="0.73" fill-opacity="0.6"/>
<circle cx="160.9" cy="307.5" r="0.86" fill-opacity="0.5"/>
<circle cx="162.2" cy="310.2" r="0.80" fill-opacity="0.7"/>
<circle cx="171.5" cy="312.2" r="0.62" fill-opacity="0.5"/>
<circle cx="193.9" cy="307.2" r="0.58" fill-opacity="0.8"/>
<circle cx="197.0" cy="295.4" r="0.40" fill-opacity="1.0"/>
<circle cx="171.3" cy="282.5" r="0.36" fill-opacity="0.8"/>
<circle cx="189.0" cy="292.5" r="0.80" fill-opacity="0.8"/>
<circle cx="175.9" cy="301.8" r="0.50" fill-opacity="1.0"/>
<circle cx="184.1" cy="300.4" r="0.76" fill-opacity="1.0"/>
<circle cx="178.5" cy="305.8" r="0.72" fill-opacity="0.9"/>
<circle cx="169.8" cy="295.0" r="0.87" fill-opacity="0.7"/>
<circle cx="190.3" cy="298.8" r="0.90" fill-opacity="0.5"/>
<circle cx="193.0" cy="310.2" r="0.75" fill-opacity="0.9"/>
<circle cx="193.6" cy="302.8" r="0.62" fill-opacity="0.7"/>
<circle cx="185.8" cy="309.6" r="0.42" fill-opacity="0.9"/>
<circle cx="186.3" cy="289.6" r="0.48" fill-opacity="0.6"/>
<circle cx="159.9" cy="302.4" r="0.84" fill-opacity="0.8"/>
<circle cx="161.3" cy="297.5" r="0.47" fill-opacity="1.0"/>
<circle cx="188.6" cy="299.7" r="0.42" fill-opacity="0.6"/>
<circle cx="173.0" cy="300.3" r="0.62" fill-opacity="1.0"/>
<circle cx="189.4" cy="287.2" r="0.77" fill-opacity="0.9"/>
<circle cx="170.7" cy="314.4" r="0.66" fill-opacity="0.6"/>
<circle cx="161.0" cy="288.8" r="0.54" fill-opacity="0.5"/>
<circle cx="185.1" cy="282.8" r="0.42" fill-opacity="1.0"/>
<circle cx="178.2" cy="304.7" r="0.76" fill-opacity="0.8"/>
<circle cx="165.3" cy="284.6" r="0.66" fill-opacity="0.7"/>
<circle cx="191.6" cy="291.0" r="0.67" fill-opacity="0.8"/>
<circle cx="158.0" cy="299.2" r="0.42" fill-opacity="0.8"/>
<circle cx="164.1" cy="304.2" r="0.66" fill-opacity="0.7"/>
<circle cx="167.9" cy="307.9" r="0.55" fill-opacity="0.7"/>
<circle cx="182.8" cy="297.5" r="0.75" fill-opacity="0.5"/>
<circle cx="165.2" cy="306.5" r="0.55" fill-opacity="0.8"/>
<circle cx="176.7" cy="300.9" r="0.87" fill-opacity="0.9"/>
<circle cx="173.2" cy="311.5" r="0.38" fill-opacity="0.6"/>
<circle cx="191.7" cy="287.3" r="0.49" fill-opacity="0.6"/>
<circle cx="170.4" cy="281.9" r="0.56" fill-opacity="0.7"/>
<circle cx="178.5" cy="315.9" r="0.82" fill-opacity="0.9"/>
<circle cx="188.9" cy="308.4" r="0.74" fill-opacity="1.0"/>
<circle cx="168.7" cy="300.4" r="0.75" fill-opacity="0.5"/>
<circle cx="193.9" cy="305.9" r="0.61" fill-opacity="0.8"/>
<circle cx="192.5" cy="286.6" r="0.40" fill-opacity="0.8"/>
<circle cx="164.8" cy="291.8" r="0.86" fill-opacity="0.6"/>
<circle cx="175.6" cy="291.7" r="0.54" fill-opacity="0.6"/>
<circle cx="165.6" cy="293.6" r="0.80" fill-opacity="0.7"/>
<circle cx="184.0" cy="313.6" r="0.87" fill-opacity="0.6"/>
<circle cx="188.1" cy="295.2" r="0.41" fill-opacity="0.8"/>
<circle cx="162.3" cy="306.8" r="0.54" fill-opacity="0.8"/>
<circle cx="183.8" cy="300.0" r="0.44" fill-opacity="0.8"/>
<circle cx="170.7" cy="313.0" r="0.63" fill-opacity="0.9"/>
<circle cx="176.0" cy="313.5" r="0.78" fill-opacity="0.6"/>
<circle cx="182.6" cy="306.8" r="0.85" fill-opacity="0.7"/>
<circle cx="181.2" cy="305.9" r="0.47" fill-opacity="0.5"/>
<circle cx="169.9" cy="309.2" r="0.57" fill-opacity="0.9"/>
<circle cx="163.3" cy="300.4" r="0.85" fill-opacity="0.9"/>
<circle cx="158.3" cy="307.0" r="0.89" fill-opacity="0.6"/>
<circle cx="159.1" cy="295.9" r="0.50" fill-opacity="0.7"/>
<circle cx="189.7" cy="312.3" r="0.73" fill-opacity="0.6"/>
<circle cx="161.5" cy="302.0" r="0.45" fill-opacity="0.6"/>
<circle cx="167.4" cy="312.4" r="0.35" fill-opacity="0.7"/>
<circle cx="173.1" cy="286.0" r="0.49" fill-opacity="0.5"/>
<circle cx="181.1" cy="315.8" r="0.53" fill-opacity="0.8"/>
<circle cx="176.6" cy="309.1" r="0.54" fill-opacity="0.6"/>
<circle cx="181.3" cy="281.7" r="0.84" fill-opacity="0.8"/>
<circle cx="172.4" cy="293.1" r="0.44" fill-opacity="0.5"/>
<circle cx="175.7" cy="312.7" r="0.67" fill-opacity="0.9"/>
<circle cx="167.0" cy="302.6" r="0.76" fill-opacity="1.0"/>
<circle cx="174.0" cy="302.0" r="0.49" fill-opacity="1.0"/>
<circle cx="180.7" cy="293.0" r="0.55" fill-opacity="0.8"/>
<circle cx="185.4" cy="291.6" r="0.46" fill-opacity="0.5"/>
<circle cx="183.7" cy="280.3" r="0.72" fill-opacity="0.8"/>
<circle cx="174.3" cy="308.5" r="0.89" fill-opacity="0.5"/>
<circle cx="192.6" cy="302.6" r="0.45" fill-opacity="0.6"/>
<circle cx="157.6" cy="305.9" r="0.44" fill-opacity="0.6"/>
<circle cx="164.6" cy="287.0" r="0.45" fill-opacity="0.7"/>
<circle cx="181.5" cy="293.9" r="0.48" fill-opacity="0.5"/>
<circle cx="161.9" cy="297.3" r="0.75" fill-opacity="0.8"/>
<circle cx="188.0" cy="290.2" r="0.81" fill-opacity="0.5"/>
<circle cx="188.4" cy="299.8" r="0.68" fill-opacity="0.5"/>
<circle cx="178.0" cy="291.6" r="0.82" fill-opacity="0.6"/>
<circle cx="173.9" cy="292.5" r="0.79" fill-opacity="0.8"/>
<circle cx="169.5" cy="302.7" r="0.53" fill-opacity="0.8"/>
<circle cx="182.3" cy="304.4" r="0.42" fill-opacity="0.7"/>
<circle cx="164.6" cy="308.1" r="0.57" fill-opacity="0.8"/>
<circle cx="178.5" cy="293.0" r="0.86" fill-opacity="0.6"/>
<circle cx="189.9" cy="284.3" r="0.64" fill-opacity="0.9"/>
<circle cx="180.3" cy="284.1" r="0.49" fill-opacity="0.5"/>
<circle cx="192.8" cy="309.0" r="0.57" fill-opacity="0.6"/>
<circle cx="169.9" cy="297.0" r="0.79" fill-opacity="0.8"/>
<circle cx="182.2" cy="280.9" r="0.43" fill-opacity="0.6"/>
<circle cx="177.8" cy="282.2" r="0.54" fill-opacity="0.7"/>
<circle cx="187.6" cy="313.2" r="0.80" fill-opacity="0.7"/>
<circle cx="170.0" cy="307.9" r="0.76" fill-opacity="0.7"/>
<circle cx="185.9" cy="290.7" r="0.57" fill-opacity="0.8"/>
<circle cx="188.5" cy="285.4" r="0.55" fill-opacity="0.8"/>
<circle cx="173.5" cy="316.7" r="0.52" fill-opacity="0.9"/>
<circle cx="184.6" cy="302.9" r="0.37" fill-opacity="1.0"/>
<circle cx="182.2" cy="285.2" r="0.65" fill-opacity="0.8"/>
<circle cx="163.1" cy="306.3" r="0.86" fill-opacity="0.5"/>
<circle cx="182.8" cy="302.9" r="0.70" fill-opacity="0.8"/>
<circle cx="182.7" cy="283.2" r="0.38" fill-opacity="1.0"/>
<circle cx="186.8" cy="299.1" r="0.43" fill-opacity="0.9"/>
<circle cx="158.2" cy="295.1" r="0.64" fill-opacity="0.5"/>
<circle cx="191.4" cy="288.6" r="0.61" fill-opacity="0.7"/>
<circle cx="172.9" cy="317.4" r="0.72" fill-opacity="0.9"/>
<circle cx="170.4" cy="314.3" r="0.79" fill-opacity="0.7"/>
<circle cx="163.4" cy="312.4" r="0.60" fill-opacity="0.8"/>
<circle cx="158.9" cy="291.7" r="0.88" fill-opacity="0.7"/>
<circle cx="196.7" cy="299.3" r="0.62" fill-opacity="0.8"/>
<circle cx="181.3" cy="292.4" r="0.74" fill-opacity="0.6"/>
<circle cx="182.3" cy="287.8" r="0.71" fill-opacity="1.0"/>
<circle cx="183.7" cy="300.4" r="0.66" fill-opacity="0.5"/>
<circle cx="171.7" cy="307.5" r="0.39" fill-opacity="0.7"/>
<circle cx="192.9" cy="288.8" r="0.59" fill-opacity="0.8"/>
<circle cx="170.6" cy="312.7" r="0.89" fill-opacity="0.6"/>
<circle cx="194.0" cy="294.0" r="0.39" fill-opacity="0.9"/>
<circle cx="185.4" cy="306.6" r="0.58" fill-opacity="0.5"/>
<circle cx="195.9" cy="296.9" r="0.47" fill-opacity="1.0"/>
<circle cx="177.1" cy="301.5" r="0.38" fill-opacity="0.6"/>
<circle cx="165.0" cy="296.6" r="0.66" fill-opacity="0.8"/>
<circle cx="167.0" cy="292.3" r="0.73" fill-opacity="0.9"/>
<circle cx="173.2" cy="285.4" r="0.51" fill-opacity="0.7"/>
<circle cx="190.6" cy="301.8" r="0.45" fill-opacity="0.8"/>
<circle cx="189.2" cy="284.3" r="0.80" fill-opacity="0.9"/>
<circle cx="167.6" cy="299.1" r="0.76" fill-opacity="0.6"/>
<circle cx="183.6" cy="297.9" r="0.54" fill-opacity="0.5"/>
<circle cx="166.9" cy="310.8" r="0.81" fill-opacity="0.5"/>
<circle cx="165.8" cy="314.4" r="0.52" fill-opacity="0.6"/>
<circle cx="185.9" cy="315.7" r="0.80" fill-opacity="0.8"/>
<circle cx="191.0" cy="304.1" r="0.89" fill-opacity="0.9"/>
<circle cx="182.8" cy="296.0" r="0.90" fill-opacity="0.7"/>
<circle cx="156.2" cy="294.3" r="0.36" fill-opacity="0.6"/>
<circle cx="186.8" cy="295.2" r="0.55" fill-opacity="0.8"/>
<circle cx="158.3" cy="289.6" r="0.83" fill-opacity="1.0"/>
<circle cx="175.7" cy="316.2" r="0.58" fill-opacity="0.5"/>
<circle cx="186.6" cy="295.1" r="0.67" fill-opacity="0.7"/>
<circle cx="178.0" cy="314.9" r="0.40" fill-opacity="0.8"/>
<circle cx="181.5" cy="296.0" r="0.54" fill-opacity="0.8"/>
<circle cx="180.2" cy="302.8" r="0.79" fill-opacity="1.0"/>
<circle cx="158.1" cy="303.0" r="0.86" fill-opacity="1.0"/>
<circle cx="165.6" cy="296.4" r="0.89" fill-opacity="0.7"/>
<circle cx="174.3" cy="282.6" r="0.57" fill-opacity="0.9"/>
<circle cx="158.2" cy="292.0" r="0.82" fill-opacity="0.6"/>
<circle cx="191.9" cy="300.7" r="0.43" fill-opacity="0.8"/>
<circle cx="189.0" cy="292.4" r="0.58" fill-opacity="0.6"/>
<circle cx="164.8" cy="291.5" r="0.40" fill-opacity="0.5"/>
<circle cx="174.7" cy="291.6" r="0.79" fill-opacity="0.6"/>
<circle cx="189.4" cy="284.4" r="0.35" fill-opacity="0.5"/>
<circle cx="176.9" cy="283.3" r="0.36" fill-opacity="0.7"/>
<circle cx="167.1" cy="302.5" r="0.89" fill-opacity="0.8"/>
<circle cx="178.0" cy="303.7" r="0.41" fill-opacity="0.8"/>
<circle cx="178.9" cy="311.3" r="0.53" fill-opacity="1.0"/>
</g>
<ellipse cx="176.5" cy="298.5" rx="19.1" ry="17.400000000000002" fill="none" stroke="#5a58a0" stroke-width="0.8" stroke-opacity="0.7"/>
<g fill="#e8e6f4">
<circle cx="170.6" cy="310.9" r="0.31" fill-opacity="0.6"/>
<circle cx="172.8" cy="287.9" r="0.53" fill-opacity="0.5"/>
<circle cx="190.1" cy="307.7" r="0.41" fill-opacity="0.9"/>
<circle cx="191.0" cy="308.9" r="0.48" fill-opacity="0.6"/>
<circle cx="188.0" cy="309.6" r="0.52" fill-opacity="0.6"/>
<circle cx="159.1" cy="301.3" r="0.46" fill-opacity="0.6"/>
<circle cx="182.2" cy="310.8" r="0.44" fill-opacity="0.8"/>
<circle cx="192.4" cy="298.0" r="0.36" fill-opacity="0.5"/>
<circle cx="164.0" cy="286.2" r="0.34" fill-opacity="0.7"/>
<circle cx="189.8" cy="298.4" r="0.58" fill-opacity="0.6"/>
<circle cx="165.1" cy="283.6" r="0.32" fill-opacity="0.6"/>
<circle cx="181.9" cy="298.0" r="0.36" fill-opacity="0.6"/>
<circle cx="176.0" cy="282.9" r="0.58" fill-opacity="0.7"/>
<circle cx="182.2" cy="298.5" r="0.26" fill-opacity="0.6"/>
<circle cx="191.7" cy="300.9" r="0.47" fill-opacity="0.5"/>
<circle cx="185.0" cy="288.6" r="0.59" fill-opacity="0.6"/>
<circle cx="165.1" cy="288.6" r="0.34" fill-opacity="0.8"/>
<circle cx="187.1" cy="298.7" r="0.36" fill-opacity="0.8"/>
<circle cx="172.4" cy="298.5" r="0.35" fill-opacity="0.7"/>
<circle cx="179.0" cy="292.5" r="0.52" fill-opacity="0.6"/>
<circle cx="162.8" cy="296.6" r="0.40" fill-opacity="0.9"/>
<circle cx="194.3" cy="289.4" r="0.51" fill-opacity="0.8"/>
<circle cx="179.0" cy="301.4" r="0.54" fill-opacity="0.7"/>
<circle cx="168.4" cy="290.5" r="0.34" fill-opacity="0.9"/>
<circle cx="173.6" cy="297.9" r="0.37" fill-opacity="0.6"/>
<circle cx="195.7" cy="306.5" r="0.57" fill-opacity="0.8"/>
<circle cx="190.3" cy="298.8" r="0.29" fill-opacity="0.8"/>
<circle cx="183.4" cy="282.3" r="0.53" fill-opacity="0.5"/>
<circle cx="183.0" cy="299.0" r="0.54" fill-opacity="0.8"/>
<circle cx="166.2" cy="297.5" r="0.55" fill-opacity="0.5"/>
<circle cx="176.1" cy="299.3" r="0.59" fill-opacity="0.6"/>
<circle cx="179.0" cy="281.1" r="0.45" fill-opacity="0.9"/>
<circle cx="179.6" cy="279.9" r="0.59" fill-opacity="0.4"/>
<circle cx="176.5" cy="289.2" r="0.36" fill-opacity="0.6"/>
<circle cx="181.7" cy="298.2" r="0.40" fill-opacity="0.5"/>
<circle cx="191.5" cy="298.3" r="0.50" fill-opacity="0.7"/>
<circle cx="177.8" cy="287.2" r="0.39" fill-opacity="0.8"/>
<circle cx="170.6" cy="280.8" r="0.36" fill-opacity="0.8"/>
<circle cx="175.2" cy="283.7" r="0.39" fill-opacity="0.7"/>
<circle cx="182.4" cy="301.3" r="0.36" fill-opacity="0.5"/>
<circle cx="193.7" cy="303.5" r="0.51" fill-opacity="0.7"/>
<circle cx="181.4" cy="314.5" r="0.54" fill-opacity="0.7"/>
<circle cx="178.8" cy="313.1" r="0.39" fill-opacity="0.5"/>
<circle cx="188.3" cy="313.1" r="0.47" fill-opacity="0.9"/>
<circle cx="181.6" cy="307.4" r="0.43" fill-opacity="0.4"/>
<circle cx="171.5" cy="312.1" r="0.42" fill-opacity="0.9"/>
<circle cx="161.5" cy="291.2" r="0.45" fill-opacity="0.8"/>
<circle cx="176.1" cy="298.9" r="0.59" fill-opacity="0.8"/>
<circle cx="181.5" cy="303.2" r="0.33" fill-opacity="0.7"/>
<circle cx="178.5" cy="300.5" r="0.42" fill-opacity="0.4"/>
<circle cx="175.8" cy="310.6" r="0.32" fill-opacity="0.4"/>
<circle cx="175.8" cy="308.2" r="0.36" fill-opacity="0.6"/>
<circle cx="168.8" cy="307.1" r="0.26" fill-opacity="0.8"/>
<circle cx="175.4" cy="284.8" r="0.25" fill-opacity="0.5"/>
<circle cx="188.2" cy="290.7" r="0.32" fill-opacity="0.8"/>
<circle cx="182.3" cy="294.2" r="0.43" fill-opacity="0.7"/>
<circle cx="185.4" cy="305.9" r="0.47" fill-opacity="0.7"/>
<circle cx="164.9" cy="287.4" r="0.38" fill-opacity="0.4"/>
<circle cx="195.9" cy="300.3" r="0.55" fill-opacity="0.9"/>
<circle cx="193.1" cy="306.4" r="0.31" fill-opacity="0.6"/>
<circle cx="182.6" cy="315.8" r="0.54" fill-opacity="0.8"/>
<circle cx="161.3" cy="311.4" r="0.34" fill-opacity="0.7"/>
<circle cx="171.7" cy="290.1" r="0.38" fill-opacity="0.5"/>
<circle cx="179.1" cy="290.4" r="0.30" fill-opacity="0.5"/>
<circle cx="165.7" cy="286.4" r="0.43" fill-opacity="0.8"/>
<circle cx="176.6" cy="289.5" r="0.44" fill-opacity="0.5"/>
<circle cx="176.9" cy="306.0" r="0.28" fill-opacity="0.6"/>
<circle cx="189.5" cy="288.1" r="0.28" fill-opacity="0.5"/>
<circle cx="163.5" cy="290.7" r="0.26" fill-opacity="0.4"/>
<circle cx="161.4" cy="292.4" r="0.28" fill-opacity="0.8"/>
<circle cx="177.5" cy="313.5" r="0.44" fill-opacity="0.6"/>
<circle cx="189.1" cy="294.4" r="0.40" fill-opacity="0.7"/>
<circle cx="187.8" cy="282.0" r="0.52" fill-opacity="0.7"/>
<circle cx="173.0" cy="283.2" r="0.59" fill-opacity="0.9"/>
<circle cx="177.1" cy="289.4" r="0.45" fill-opacity="0.6"/>
<circle cx="178.7" cy="315.7" r="0.33" fill-opacity="0.8"/>
<circle cx="162.6" cy="299.4" r="0.50" fill-opacity="0.8"/>
<circle cx="197.7" cy="297.2" r="0.53" fill-opacity="0.5"/>
<circle cx="169.2" cy="286.4" r="0.58" fill-opacity="0.6"/>
<circle cx="174.4" cy="301.0" r="0.41" fill-opacity="0.7"/>
<circle cx="174.0" cy="304.4" r="0.42" fill-opacity="0.4"/>
<circle cx="183.2" cy="310.0" r="0.37" fill-opacity="0.7"/>
<circle cx="163.5" cy="296.2" r="0.30" fill-opacity="0.4"/>
<circle cx="157.0" cy="291.5" r="0.35" fill-opacity="0.6"/>
<circle cx="168.7" cy="313.8" r="0.42" fill-opacity="0.8"/>
<circle cx="184.3" cy="298.7" r="0.32" fill-opacity="0.6"/>
<circle cx="165.8" cy="305.7" r="0.59" fill-opacity="0.6"/>
<circle cx="157.9" cy="289.7" r="0.47" fill-opacity="0.7"/>
<circle cx="182.3" cy="288.5" r="0.26" fill-opacity="0.9"/>
<circle cx="160.6" cy="295.3" r="0.27" fill-opacity="0.8"/>
<circle cx="164.5" cy="309.7" r="0.35" fill-opacity="0.9"/>
<circle cx="168.9" cy="306.1" r="0.56" fill-opacity="0.5"/>
<circle cx="174.6" cy="312.1" r="0.59" fill-opacity="0.5"/>
<circle cx="181.2" cy="315.4" r="0.28" fill-opacity="0.6"/>
<circle cx="180.2" cy="282.3" r="0.53" fill-opacity="0.5"/>
<circle cx="186.3" cy="291.0" r="0.53" fill-opacity="0.6"/>
<circle cx="187.9" cy="290.0" r="0.34" fill-opacity="0.5"/>
<circle cx="171.7" cy="298.6" r="0.31" fill-opacity="0.8"/>
<circle cx="158.8" cy="290.4" r="0.30" fill-opacity="0.6"/>
<circle cx="169.6" cy="299.8" r="0.34" fill-opacity="0.9"/>
<circle cx="174.0" cy="284.7" r="0.46" fill-opacity="0.8"/>
<circle cx="192.2" cy="294.2" r="0.27" fill-opacity="0.8"/>
<circle cx="181.8" cy="306.8" r="0.30" fill-opacity="0.7"/>
<circle cx="164.0" cy="291.9" r="0.41" fill-opacity="0.5"/>
<circle cx="173.4" cy="284.4" r="0.36" fill-opacity="0.8"/>
<circle cx="195.5" cy="291.5" r="0.59" fill-opacity="0.4"/>
<circle cx="165.6" cy="307.0" r="0.34" fill-opacity="0.8"/>
<circle cx="183.1" cy="294.4" r="0.43" fill-opacity="0.9"/>
<circle cx="187.4" cy="290.0" r="0.29" fill-opacity="0.6"/>
<circle cx="157.7" cy="296.6" r="0.32" fill-opacity="0.5"/>
<circle cx="178.8" cy="298.3" r="0.46" fill-opacity="0.4"/>
<circle cx="176.5" cy="285.7" r="0.57" fill-opacity="0.5"/>
<circle cx="183.8" cy="292.0" r="0.27" fill-opacity="0.4"/>
<circle cx="188.3" cy="304.1" r="0.59" fill-opacity="0.6"/>
<circle cx="175.7" cy="295.0" r="0.43" fill-opacity="0.7"/>
<circle cx="189.7" cy="307.1" r="0.41" fill-opacity="0.6"/>
<circle cx="185.1" cy="284.2" r="0.29" fill-opacity="0.5"/>
<circle cx="186.8" cy="301.8" r="0.47" fill-opacity="0.9"/>
<circle cx="195.9" cy="294.9" r="0.29" fill-opacity="0.8"/>
<circle cx="177.6" cy="285.1" r="0.60" fill-opacity="0.7"/>
</g>
</g>
<linearGradient id="g200278" x1="0" y1="0" x2="1" y2="0"><stop offset="0" stop-color="#bcbcbe"/><stop offset="0.5" stop-color="#c8c8ca"/><stop offset="1" stop-color="#a8a8aa"/></linearGradient>
<rect x="200.10" y="278.30" width="43.50" height="40.30" fill="url(#g200278)" />
<ellipse cx="221.9" cy="298.5" rx="21.9" ry="20.4" fill="#e2e2e4"/>
<ellipse cx="221.9" cy="298.5" rx="21" ry="19.5" fill="#c0bece"/>
<clipPath id="cc200278"><ellipse cx="221.9" cy="298.5" rx="20.7" ry="19.2"/></clipPath>
<g clip-path="url(#cc200278)">
<g fill="#8a889a">
<circle cx="229.1" cy="304.6" r="0.9" fill-opacity="0.18"/>
<circle cx="208.1" cy="285.8" r="0.8" fill-opacity="0.08"/>
<circle cx="232.5" cy="296.8" r="1.1" fill-opacity="0.23"/>
<circle cx="236.2" cy="309.7" r="1.7" fill-opacity="0.18"/>
<circle cx="220.6" cy="297.6" r="1.4" fill-opacity="0.18"/>
<circle cx="223.9" cy="284.6" r="0.9" fill-opacity="0.12"/>
<circle cx="218.5" cy="294.0" r="0.9" fill-opacity="0.12"/>
<circle cx="226.4" cy="284.7" r="1.2" fill-opacity="0.24"/>
<circle cx="212.9" cy="293.9" r="1.4" fill-opacity="0.23"/>
<circle cx="212.5" cy="308.0" r="1.4" fill-opacity="0.25"/>
<circle cx="216.1" cy="292.2" r="1.4" fill-opacity="0.13"/>
<circle cx="204.4" cy="301.2" r="0.8" fill-opacity="0.17"/>
<circle cx="215.5" cy="312.4" r="1.6" fill-opacity="0.16"/>
<circle cx="214.2" cy="290.9" r="1.1" fill-opacity="0.17"/>
<circle cx="212.2" cy="296.6" r="1.6" fill-opacity="0.16"/>
<circle cx="215.4" cy="306.2" r="1.6" fill-opacity="0.23"/>
<circle cx="231.6" cy="294.8" r="0.9" fill-opacity="0.19"/>
<circle cx="241.1" cy="301.3" r="1.5" fill-opacity="0.14"/>
<circle cx="205.7" cy="304.3" r="1.0" fill-opacity="0.14"/>
<circle cx="225.9" cy="282.8" r="1.4" fill-opacity="0.10"/>
<circle cx="224.1" cy="308.2" r="0.8" fill-opacity="0.19"/>
<circle cx="203.8" cy="290.2" r="1.4" fill-opacity="0.24"/>
<circle cx="207.1" cy="301.2" r="1.1" fill-opacity="0.16"/>
<circle cx="235.4" cy="293.2" r="0.8" fill-opacity="0.14"/>
<circle cx="227.2" cy="313.1" r="1.3" fill-opacity="0.16"/>
<circle cx="238.3" cy="291.0" r="0.9" fill-opacity="0.09"/>
<circle cx="217.0" cy="284.2" r="1.5" fill-opacity="0.17"/>
<circle cx="235.7" cy="301.4" r="1.6" fill-opacity="0.18"/>
<circle cx="229.0" cy="300.4" r="1.7" fill-opacity="0.17"/>
<circle cx="230.9" cy="312.6" r="1.7" fill-opacity="0.23"/>
<circle cx="210.4" cy="284.6" r="0.9" fill-opacity="0.16"/>
<circle cx="226.4" cy="287.9" r="0.9" fill-opacity="0.23"/>
<circle cx="221.4" cy="296.9" r="0.9" fill-opacity="0.17"/>
<circle cx="237.7" cy="294.1" r="1.7" fill-opacity="0.10"/>
<circle cx="213.9" cy="294.7" r="1.1" fill-opacity="0.11"/>
<circle cx="217.5" cy="299.4" r="1.5" fill-opacity="0.19"/>
<circle cx="237.1" cy="288.9" r="0.9" fill-opacity="0.23"/>
<circle cx="202.3" cy="293.5" r="1.3" fill-opacity="0.09"/>
<circle cx="219.4" cy="290.7" r="1.8" fill-opacity="0.17"/>
<circle cx="233.9" cy="290.6" r="1.1" fill-opacity="0.19"/>
<circle cx="218.3" cy="285.7" r="1.1" fill-opacity="0.15"/>
<circle cx="219.7" cy="289.4" r="1.0" fill-opacity="0.16"/>
<circle cx="218.9" cy="294.3" r="1.1" fill-opacity="0.25"/>
<circle cx="219.9" cy="315.5" r="1.1" fill-opacity="0.09"/>
<circle cx="202.4" cy="300.1" r="1.6" fill-opacity="0.09"/>
<circle cx="217.1" cy="283.8" r="1.3" fill-opacity="0.19"/>
<circle cx="213.0" cy="297.4" r="1.5" fill-opacity="0.10"/>
<circle cx="214.8" cy="315.2" r="1.4" fill-opacity="0.17"/>
<circle cx="218.2" cy="285.2" r="1.2" fill-opacity="0.17"/>
<circle cx="234.2" cy="300.1" r="0.8" fill-opacity="0.25"/>
<circle cx="236.1" cy="289.9" r="1.0" fill-opacity="0.23"/>
<circle cx="218.0" cy="315.6" r="1.5" fill-opacity="0.18"/>
<circle cx="221.3" cy="288.4" r="1.6" fill-opacity="0.17"/>
<circle cx="222.8" cy="280.6" r="1.1" fill-opacity="0.15"/>
<circle cx="218.1" cy="302.6" r="1.7" fill-opacity="0.20"/>
<circle cx="206.4" cy="299.4" r="1.7" fill-opacity="0.09"/>
<circle cx="211.0" cy="311.1" r="1.3" fill-opacity="0.16"/>
<circle cx="221.4" cy="307.7" r="1.5" fill-opacity="0.14"/>
<circle cx="240.3" cy="291.4" r="1.8" fill-opacity="0.13"/>
<circle cx="215.1" cy="297.9" r="1.2" fill-opacity="0.09"/>
<circle cx="201.4" cy="298.3" r="1.6" fill-opacity="0.14"/>
<circle cx="218.6" cy="317.1" r="0.9" fill-opacity="0.22"/>
<circle cx="225.3" cy="294.5" r="1.8" fill-opacity="0.19"/>
<circle cx="211.4" cy="306.7" r="1.4" fill-opacity="0.17"/>
<circle cx="235.3" cy="284.9" r="1.1" fill-opacity="0.08"/>
<circle cx="224.9" cy="283.1" r="1.5" fill-opacity="0.09"/>
<circle cx="239.6" cy="307.0" r="1.2" fill-opacity="0.16"/>
<circle cx="231.0" cy="297.1" r="1.4" fill-opacity="0.09"/>
<circle cx="205.2" cy="292.2" r="1.0" fill-opacity="0.21"/>
<circle cx="240.6" cy="295.0" r="1.6" fill-opacity="0.24"/>
<circle cx="218.7" cy="284.4" r="1.6" fill-opacity="0.22"/>
<circle cx="210.1" cy="286.9" r="1.0" fill-opacity="0.14"/>
<circle cx="213.0" cy="314.6" r="1.6" fill-opacity="0.13"/>
<circle cx="227.0" cy="298.3" r="0.9" fill-opacity="0.14"/>
<circle cx="240.0" cy="307.4" r="1.2" fill-opacity="0.15"/>
<circle cx="231.3" cy="287.2" r="1.4" fill-opacity="0.15"/>
<circle cx="202.0" cy="303.2" r="1.1" fill-opacity="0.17"/>
<circle cx="214.1" cy="299.5" r="0.9" fill-opacity="0.17"/>
<circle cx="226.1" cy="286.3" r="0.9" fill-opacity="0.24"/>
<circle cx="234.7" cy="312.4" r="0.8" fill-opacity="0.19"/>
<circle cx="228.4" cy="306.4" r="1.2" fill-opacity="0.21"/>
<circle cx="209.4" cy="303.5" r="1.2" fill-opacity="0.17"/>
<circle cx="218.0" cy="317.2" r="1.0" fill-opacity="0.10"/>
<circle cx="210.0" cy="295.0" r="1.5" fill-opacity="0.09"/>
<circle cx="216.3" cy="288.0" r="1.7" fill-opacity="0.13"/>
<circle cx="211.1" cy="303.0" r="1.3" fill-opacity="0.13"/>
<circle cx="215.4" cy="287.6" r="1.5" fill-opacity="0.13"/>
<circle cx="206.8" cy="302.4" r="1.5" fill-opacity="0.19"/>
<circle cx="216.3" cy="301.0" r="0.9" fill-opacity="0.10"/>
<circle cx="225.5" cy="306.1" r="1.5" fill-opacity="0.14"/>
</g>
<g fill="#4a4896">
<circle cx="230.4" cy="293.3" r="0.36" fill-opacity="0.6"/>
<circle cx="232.6" cy="311.2" r="0.39" fill-opacity="0.8"/>
<circle cx="228.3" cy="283.6" r="0.51" fill-opacity="0.7"/>
<circle cx="214.2" cy="287.7" r="0.43" fill-opacity="0.5"/>
<circle cx="234.0" cy="294.5" r="0.33" fill-opacity="0.8"/>
<circle cx="224.8" cy="280.6" r="0.43" fill-opacity="0.7"/>
<circle cx="211.4" cy="297.7" r="0.35" fill-opacity="0.6"/>
<circle cx="216.1" cy="285.7" r="0.64" fill-opacity="1.0"/>
<circle cx="236.3" cy="285.0" r="0.31" fill-opacity="0.9"/>
<circle cx="236.1" cy="312.5" r="0.52" fill-opacity="0.9"/>
<circle cx="211.8" cy="289.7" r="0.35" fill-opacity="0.7"/>
<circle cx="211.4" cy="295.5" r="0.60" fill-opacity="0.5"/>
<circle cx="204.4" cy="290.2" r="0.50" fill-opacity="0.6"/>
<circle cx="218.7" cy="316.0" r="0.53" fill-opacity="0.6"/>
<circle cx="210.6" cy="294.7" r="0.47" fill-opacity="0.5"/>
<circle cx="203.1" cy="296.0" r="0.36" fill-opacity="0.6"/>
<circle cx="215.5" cy="314.9" r="0.52" fill-opacity="0.6"/>
<circle cx="227.8" cy="299.6" r="0.47" fill-opacity="0.8"/>
<circle cx="232.9" cy="307.2" r="0.44" fill-opacity="1.0"/>
<circle cx="209.2" cy="294.1" r="0.32" fill-opacity="0.7"/>
<circle cx="233.8" cy="288.5" r="0.40" fill-opacity="0.6"/>
<circle cx="229.7" cy="315.9" r="0.43" fill-opacity="0.9"/>
<circle cx="209.5" cy="289.8" r="0.31" fill-opacity="0.6"/>
<circle cx="221.1" cy="290.7" r="0.31" fill-opacity="0.8"/>
<circle cx="230.3" cy="299.6" r="0.51" fill-opacity="0.8"/>
<circle cx="238.9" cy="297.6" r="0.30" fill-opacity="0.7"/>
<circle cx="236.1" cy="294.9" r="0.31" fill-opacity="0.9"/>
<circle cx="229.3" cy="286.9" r="0.44" fill-opacity="0.6"/>
<circle cx="236.2" cy="305.3" r="0.55" fill-opacity="0.6"/>
<circle cx="229.9" cy="312.9" r="0.55" fill-opacity="0.8"/>
<circle cx="232.8" cy="295.3" r="0.44" fill-opacity="0.8"/>
<circle cx="236.9" cy="287.6" r="0.51" fill-opacity="0.9"/>
<circle cx="220.5" cy="317.0" r="0.63" fill-opacity="1.0"/>
<circle cx="211.9" cy="313.5" r="0.59" fill-opacity="0.8"/>
<circle cx="226.5" cy="286.1" r="0.58" fill-opacity="0.7"/>
<circle cx="213.2" cy="286.7" r="0.31" fill-opacity="0.9"/>
<circle cx="236.2" cy="299.6" r="0.59" fill-opacity="0.5"/>
<circle cx="238.7" cy="308.1" r="0.35" fill-opacity="0.6"/>
<circle cx="222.3" cy="282.5" r="0.51" fill-opacity="0.7"/>
<circle cx="202.6" cy="292.3" r="0.49" fill-opacity="0.7"/>
<circle cx="208.8" cy="301.5" r="0.34" fill-opacity="0.8"/>
<circle cx="214.7" cy="280.9" r="0.49" fill-opacity="0.9"/>
<circle cx="217.9" cy="303.4" r="0.49" fill-opacity="0.5"/>
<circle cx="236.2" cy="286.1" r="0.56" fill-opacity="0.6"/>
<circle cx="227.0" cy="285.9" r="0.37" fill-opacity="0.9"/>
<circle cx="214.2" cy="310.5" r="0.46" fill-opacity="0.8"/>
<circle cx="215.6" cy="315.7" r="0.45" fill-opacity="0.7"/>
<circle cx="224.3" cy="311.9" r="0.43" fill-opacity="0.8"/>
<circle cx="214.2" cy="286.8" r="0.64" fill-opacity="0.5"/>
<circle cx="218.2" cy="312.5" r="0.37" fill-opacity="1.0"/>
<circle cx="230.7" cy="302.0" r="0.60" fill-opacity="0.5"/>
<circle cx="217.6" cy="298.1" r="0.48" fill-opacity="0.6"/>
<circle cx="227.2" cy="308.1" r="0.46" fill-opacity="0.9"/>
<circle cx="223.6" cy="313.5" r="0.48" fill-opacity="0.5"/>
<circle cx="218.2" cy="293.8" r="0.41" fill-opacity="0.8"/>
<circle cx="221.4" cy="283.2" r="0.51" fill-opacity="1.0"/>
<circle cx="225.6" cy="306.2" r="0.58" fill-opacity="0.8"/>
<circle cx="234.4" cy="303.3" r="0.46" fill-opacity="0.6"/>
<circle cx="232.8" cy="288.0" r="0.57" fill-opacity="0.9"/>
<circle cx="219.0" cy="313.6" r="0.47" fill-opacity="0.7"/>
<circle cx="205.1" cy="295.5" r="0.59" fill-opacity="0.5"/>
<circle cx="228.1" cy="307.7" r="0.64" fill-opacity="0.9"/>
<circle cx="208.2" cy="312.6" r="0.63" fill-opacity="0.5"/>
<circle cx="223.1" cy="302.0" r="0.36" fill-opacity="0.9"/>
<circle cx="221.9" cy="296.9" r="0.43" fill-opacity="0.5"/>
<circle cx="234.3" cy="305.3" r="0.56" fill-opacity="0.6"/>
<circle cx="201.3" cy="299.4" r="0.36" fill-opacity="0.9"/>
<circle cx="239.1" cy="289.3" r="0.48" fill-opacity="0.8"/>
<circle cx="227.6" cy="308.2" r="0.37" fill-opacity="0.6"/>
<circle cx="212.9" cy="291.2" r="0.50" fill-opacity="0.9"/>
<circle cx="224.8" cy="293.4" r="0.48" fill-opacity="0.9"/>
<circle cx="215.0" cy="291.5" r="0.44" fill-opacity="0.8"/>
<circle cx="219.0" cy="283.8" r="0.41" fill-opacity="0.5"/>
<circle cx="221.9" cy="296.0" r="0.49" fill-opacity="0.8"/>
<circle cx="219.3" cy="287.6" r="0.47" fill-opacity="0.7"/>
<circle cx="221.9" cy="293.2" r="0.39" fill-opacity="0.7"/>
<circle cx="212.8" cy="293.2" r="0.38" fill-opacity="0.6"/>
<circle cx="231.9" cy="291.3" r="0.56" fill-opacity="0.9"/>
<circle cx="220.0" cy="312.9" r="0.63" fill-opacity="0.5"/>
<circle cx="217.1" cy="293.7" r="0.47" fill-opacity="0.7"/>
<circle cx="216.5" cy="289.3" r="0.52" fill-opacity="1.0"/>
<circle cx="239.0" cy="306.3" r="0.41" fill-opacity="0.9"/>
<circle cx="217.2" cy="280.9" r="0.32" fill-opacity="0.9"/>
<circle cx="227.3" cy="290.2" r="0.54" fill-opacity="0.9"/>
<circle cx="202.4" cy="302.5" r="0.65" fill-opacity="0.9"/>
<circle cx="237.3" cy="294.7" r="0.53" fill-opacity="0.9"/>
<circle cx="209.9" cy="306.6" r="0.38" fill-opacity="0.7"/>
<circle cx="220.6" cy="316.4" r="0.54" fill-opacity="0.9"/>
<circle cx="216.3" cy="285.6" r="0.53" fill-opacity="0.8"/>
<circle cx="235.9" cy="299.1" r="0.37" fill-opacity="1.0"/>
<circle cx="216.2" cy="299.6" r="0.59" fill-opacity="0.6"/>
<circle cx="240.3" cy="302.1" r="0.60" fill-opacity="0.9"/>
<circle cx="221.0" cy="317.3" r="0.46" fill-opacity="0.7"/>
<circle cx="236.7" cy="294.1" r="0.34" fill-opacity="0.8"/>
<circle cx="232.7" cy="298.8" r="0.59" fill-opacity="0.5"/>
<circle cx="221.9" cy="317.6" r="0.37" fill-opacity="0.8"/>
<circle cx="219.0" cy="287.8" r="0.33" fill-opacity="0.7"/>
<circle cx="231.2" cy="283.5" r="0.54" fill-opacity="0.8"/>
<circle cx="217.9" cy="304.4" r="0.56" fill-opacity="0.6"/>
<circle cx="214.8" cy="295.7" r="0.47" fill-opacity="0.6"/>
<circle cx="226.3" cy="298.9" r="0.35" fill-opacity="0.7"/>
<circle cx="227.7" cy="294.0" r="0.58" fill-opacity="0.9"/>
<circle cx="215.7" cy="311.7" r="0.52" fill-opacity="1.0"/>
<circle cx="206.2" cy="311.0" r="0.63" fill-opacity="0.6"/>
<circle cx="216.9" cy="310.3" r="0.53" fill-opacity="0.6"/>
<circle cx="234.8" cy="287.6" r="0.65" fill-opacity="0.6"/>
<circle cx="219.4" cy="284.8" r="0.34" fill-opacity="0.9"/>
<circle cx="206.7" cy="288.5" r="0.54" fill-opacity="0.9"/>
<circle cx="235.3" cy="303.7" r="0.51" fill-opacity="0.6"/>
<circle cx="210.6" cy="306.4" r="0.51" fill-opacity="0.7"/>
<circle cx="230.5" cy="291.9" r="0.36" fill-opacity="0.6"/>
<circle cx="236.6" cy="310.2" r="0.34" fill-opacity="1.0"/>
<circle cx="209.1" cy="312.8" r="0.64" fill-opacity="0.9"/>
<circle cx="233.5" cy="298.0" r="0.39" fill-opacity="0.5"/>
<circle cx="219.3" cy="298.5" r="0.47" fill-opacity="0.6"/>
<circle cx="218.5" cy="291.5" r="0.42" fill-opacity="0.5"/>
<circle cx="228.1" cy="302.2" r="0.58" fill-opacity="0.5"/>
<circle cx="225.0" cy="295.7" r="0.60" fill-opacity="0.9"/>
<circle cx="215.2" cy="289.8" r="0.33" fill-opacity="0.9"/>
<circle cx="241.5" cy="304.0" r="0.62" fill-opacity="0.6"/>
<circle cx="222.0" cy="294.3" r="0.53" fill-opacity="0.5"/>
<circle cx="232.3" cy="311.1" r="0.38" fill-opacity="0.8"/>
<circle cx="212.3" cy="299.8" r="0.52" fill-opacity="0.9"/>
<circle cx="215.9" cy="284.2" r="0.61" fill-opacity="0.5"/>
<circle cx="224.7" cy="284.7" r="0.47" fill-opacity="0.8"/>
<circle cx="222.4" cy="284.3" r="0.48" fill-opacity="0.6"/>
<circle cx="222.2" cy="299.8" r="0.60" fill-opacity="0.7"/>
<circle cx="220.1" cy="289.7" r="0.50" fill-opacity="0.7"/>
<circle cx="209.4" cy="292.2" r="0.54" fill-opacity="0.7"/>
<circle cx="233.0" cy="289.0" r="0.54" fill-opacity="0.9"/>
<circle cx="229.7" cy="305.3" r="0.42" fill-opacity="0.6"/>
<circle cx="210.5" cy="299.1" r="0.56" fill-opacity="1.0"/>
<circle cx="209.8" cy="310.3" r="0.36" fill-opacity="1.0"/>
<circle cx="207.7" cy="284.6" r="0.61" fill-opacity="0.7"/>
<circle cx="225.8" cy="288.1" r="0.58" fill-opacity="0.5"/>
<circle cx="211.2" cy="304.3" r="0.55" fill-opacity="0.7"/>
<circle cx="237.7" cy="287.0" r="0.36" fill-opacity="0.9"/>
<circle cx="220.7" cy="299.7" r="0.42" fill-opacity="0.6"/>
<circle cx="228.3" cy="310.6" r="0.53" fill-opacity="0.5"/>
<circle cx="213.1" cy="303.6" r="0.41" fill-opacity="0.8"/>
<circle cx="240.9" cy="301.2" r="0.61" fill-opacity="0.9"/>
<circle cx="219.0" cy="308.1" r="0.35" fill-opacity="0.8"/>
<circle cx="238.5" cy="295.2" r="0.32" fill-opacity="0.8"/>
<circle cx="219.1" cy="310.9" r="0.35" fill-opacity="1.0"/>
<circle cx="217.0" cy="295.5" r="0.56" fill-opacity="1.0"/>
<circle cx="228.8" cy="282.9" r="0.38" fill-opacity="0.5"/>
<circle cx="237.0" cy="302.0" r="0.37" fill-opacity="0.5"/>
<circle cx="231.1" cy="315.1" r="0.40" fill-opacity="0.9"/>
<circle cx="230.1" cy="297.1" r="0.43" fill-opacity="0.5"/>
<circle cx="224.2" cy="292.7" r="0.49" fill-opacity="0.9"/>
<circle cx="225.6" cy="287.7" r="0.33" fill-opacity="0.5"/>
<circle cx="219.4" cy="284.8" r="0.37" fill-opacity="0.9"/>
<circle cx="220.1" cy="307.3" r="0.55" fill-opacity="0.9"/>
<circle cx="232.0" cy="312.2" r="0.46" fill-opacity="0.5"/>
<circle cx="221.1" cy="315.5" r="0.54" fill-opacity="0.8"/>
<circle cx="223.3" cy="302.3" r="0.54" fill-opacity="0.8"/>
<circle cx="241.1" cy="299.5" r="0.43" fill-opacity="0.9"/>
<circle cx="205.1" cy="296.6" r="0.53" fill-opacity="1.0"/>
<circle cx="203.6" cy="296.8" r="0.31" fill-opacity="0.7"/>
<circle cx="209.0" cy="294.8" r="0.44" fill-opacity="0.6"/>
<circle cx="224.0" cy="309.2" r="0.61" fill-opacity="0.9"/>
<circle cx="203.3" cy="303.3" r="0.48" fill-opacity="0.5"/>
<circle cx="221.3" cy="281.3" r="0.36" fill-opacity="0.7"/>
<circle cx="237.8" cy="294.8" r="0.42" fill-opacity="0.8"/>
<circle cx="233.9" cy="308.1" r="0.61" fill-opacity="0.7"/>
<circle cx="212.4" cy="284.0" r="0.56" fill-opacity="0.8"/>
<circle cx="235.9" cy="313.0" r="0.51" fill-opacity="0.8"/>
<circle cx="224.2" cy="304.0" r="0.55" fill-opacity="0.8"/>
<circle cx="216.6" cy="290.0" r="0.57" fill-opacity="0.7"/>
<circle cx="209.2" cy="284.1" r="0.57" fill-opacity="0.5"/>
<circle cx="238.4" cy="299.8" r="0.33" fill-opacity="0.7"/>
<circle cx="206.9" cy="306.3" r="0.33" fill-opacity="0.9"/>
<circle cx="203.2" cy="297.4" r="0.61" fill-opacity="0.5"/>
<circle cx="233.3" cy="294.2" r="0.35" fill-opacity="0.6"/>
<circle cx="224.5" cy="310.9" r="0.63" fill-opacity="0.8"/>
<circle cx="202.8" cy="291.7" r="0.53" fill-opacity="0.7"/>
<circle cx="235.5" cy="298.5" r="0.35" fill-opacity="0.5"/>
<circle cx="224.5" cy="292.3" r="0.48" fill-opacity="0.6"/>
<circle cx="218.3" cy="298.0" r="0.54" fill-opacity="0.5"/>
<circle cx="216.6" cy="301.8" r="0.43" fill-opacity="0.7"/>
<circle cx="226.5" cy="298.5" r="0.33" fill-opacity="0.5"/>
<circle cx="202.4" cy="292.5" r="0.34" fill-opacity="0.9"/>
<circle cx="209.7" cy="295.6" r="0.55" fill-opacity="1.0"/>
<circle cx="213.5" cy="292.5" r="0.48" fill-opacity="0.7"/>
<circle cx="210.5" cy="308.6" r="0.45" fill-opacity="0.5"/>
<circle cx="235.1" cy="297.5" r="0.56" fill-opacity="0.7"/>
<circle cx="228.8" cy="283.0" r="0.55" fill-opacity="0.7"/>
<circle cx="227.0" cy="313.1" r="0.37" fill-opacity="0.5"/>
<circle cx="227.6" cy="308.8" r="0.31" fill-opacity="0.9"/>
<circle cx="226.4" cy="294.4" r="0.63" fill-opacity="1.0"/>
<circle cx="207.4" cy="286.7" r="0.46" fill-opacity="1.0"/>
<circle cx="224.3" cy="295.6" r="0.53" fill-opacity="0.9"/>
<circle cx="223.2" cy="291.1" r="0.48" fill-opacity="0.5"/>
<circle cx="208.2" cy="288.5" r="0.50" fill-opacity="0.5"/>
<circle cx="232.3" cy="296.6" r="0.64" fill-opacity="0.9"/>
<circle cx="215.4" cy="287.1" r="0.46" fill-opacity="0.7"/>
<circle cx="226.0" cy="302.3" r="0.36" fill-opacity="0.6"/>
<circle cx="232.1" cy="291.6" r="0.50" fill-opacity="0.9"/>
<circle cx="237.8" cy="287.5" r="0.46" fill-opacity="0.8"/>
<circle cx="222.5" cy="313.1" r="0.59" fill-opacity="0.6"/>
<circle cx="238.1" cy="302.6" r="0.45" fill-opacity="0.6"/>
<circle cx="201.8" cy="293.4" r="0.43" fill-opacity="1.0"/>
<circle cx="241.7" cy="293.5" r="0.50" fill-opacity="0.7"/>
<circle cx="227.9" cy="314.9" r="0.57" fill-opacity="0.7"/>
<circle cx="236.5" cy="291.2" r="0.49" fill-opacity="0.8"/>
<circle cx="231.6" cy="308.2" r="0.36" fill-opacity="0.5"/>
<circle cx="234.8" cy="297.0" r="0.45" fill-opacity="0.5"/>
<circle cx="237.1" cy="304.1" r="0.38" fill-opacity="0.6"/>
<circle cx="208.7" cy="284.3" r="0.55" fill-opacity="0.5"/>
<circle cx="209.2" cy="291.8" r="0.30" fill-opacity="0.7"/>
<circle cx="212.8" cy="309.8" r="0.65" fill-opacity="0.6"/>
<circle cx="211.5" cy="313.6" r="0.58" fill-opacity="0.9"/>
<circle cx="207.1" cy="299.2" r="0.34" fill-opacity="0.9"/>
<circle cx="222.3" cy="300.7" r="0.46" fill-opacity="0.7"/>
<circle cx="241.4" cy="293.3" r="0.47" fill-opacity="0.7"/>
<circle cx="236.3" cy="308.9" r="0.36" fill-opacity="0.7"/>
<circle cx="225.0" cy="295.7" r="0.47" fill-opacity="0.6"/>
<circle cx="229.7" cy="298.4" r="0.58" fill-opacity="0.6"/>
<circle cx="211.5" cy="314.6" r="0.38" fill-opacity="0.5"/>
<circle cx="214.8" cy="315.2" r="0.54" fill-opacity="0.5"/>
<circle cx="237.6" cy="285.9" r="0.32" fill-opacity="0.9"/>
<circle cx="212.1" cy="299.5" r="0.39" fill-opacity="0.5"/>
<circle cx="220.4" cy="283.8" r="0.40" fill-opacity="0.5"/>
<circle cx="240.4" cy="306.1" r="0.47" fill-opacity="0.9"/>
<circle cx="242.1" cy="293.9" r="0.39" fill-opacity="0.6"/>
<circle cx="227.9" cy="312.9" r="0.48" fill-opacity="0.8"/>
<circle cx="224.2" cy="284.5" r="0.53" fill-opacity="0.6"/>
<circle cx="226.4" cy="297.1" r="0.35" fill-opacity="0.7"/>
<circle cx="221.7" cy="285.7" r="0.53" fill-opacity="0.9"/>
<circle cx="237.4" cy="294.7" r="0.64" fill-opacity="0.8"/>
<circle cx="225.9" cy="287.8" r="0.62" fill-opacity="0.5"/>
<circle cx="240.5" cy="305.8" r="0.53" fill-opacity="1.0"/>
<circle cx="237.4" cy="293.7" r="0.51" fill-opacity="0.9"/>
<circle cx="222.9" cy="303.9" r="0.46" fill-opacity="0.9"/>
<circle cx="233.0" cy="308.8" r="0.39" fill-opacity="0.6"/>
<circle cx="233.7" cy="287.7" r="0.59" fill-opacity="0.9"/>
<circle cx="208.9" cy="303.6" r="0.43" fill-opacity="0.7"/>
<circle cx="225.4" cy="280.5" r="0.55" fill-opacity="0.6"/>
<circle cx="222.3" cy="300.2" r="0.57" fill-opacity="0.8"/>
<circle cx="211.8" cy="315.6" r="0.41" fill-opacity="0.8"/>
<circle cx="223.1" cy="280.6" r="0.62" fill-opacity="0.5"/>
<circle cx="211.8" cy="302.6" r="0.48" fill-opacity="0.7"/>
<circle cx="210.7" cy="296.7" r="0.52" fill-opacity="0.5"/>
<circle cx="218.4" cy="282.6" r="0.60" fill-opacity="0.7"/>
<circle cx="229.4" cy="299.3" r="0.49" fill-opacity="0.5"/>
<circle cx="212.0" cy="297.2" r="0.30" fill-opacity="0.7"/>
<circle cx="242.0" cy="302.8" r="0.32" fill-opacity="0.9"/>
<circle cx="213.5" cy="287.0" r="0.59" fill-opacity="0.7"/>
<circle cx="209.0" cy="283.8" r="0.62" fill-opacity="0.8"/>
<circle cx="236.1" cy="310.3" r="0.62" fill-opacity="0.6"/>
<circle cx="227.2" cy="280.0" r="0.44" fill-opacity="0.9"/>
<circle cx="203.5" cy="295.9" r="0.49" fill-opacity="0.5"/>
<circle cx="205.7" cy="291.6" r="0.51" fill-opacity="0.6"/>
<circle cx="220.8" cy="286.5" r="0.62" fill-opacity="0.8"/>
<circle cx="211.5" cy="308.8" r="0.59" fill-opacity="0.7"/>
<circle cx="220.5" cy="308.8" r="0.53" fill-opacity="0.7"/>
<circle cx="233.6" cy="314.4" r="0.56" fill-opacity="0.7"/>
<circle cx="218.9" cy="300.2" r="0.50" fill-opacity="0.7"/>
<circle cx="239.4" cy="308.9" r="0.46" fill-opacity="0.8"/>
<circle cx="232.2" cy="300.2" r="0.53" fill-opacity="0.6"/>
</g>
<ellipse cx="221.9" cy="298.5" rx="18.8" ry="17.3" fill="none" stroke="#9a98aa" stroke-width="0.8" stroke-opacity="0.7"/>
<path d="M226.1,280.0 A19.5,18.0 0 0 1 228.2,316.4" fill="none" stroke="#f0f0f2" stroke-width="1.0" stroke-opacity="0.8"/>
</g>
<line x1="268.20" y1="242.82" x2="268.20" y2="316.30" stroke="#000" stroke-width="1.1" />
<line x1="266.20" y1="315.80" x2="268.20" y2="315.80" stroke="#000" stroke-width="0.9" />
<text x="265.80" y="317.74" font-size="5.4" font-weight="bold" text-anchor="end" fill="#000" >0</text>
<line x1="266.20" y1="291.64" x2="268.20" y2="291.64" stroke="#000" stroke-width="0.9" />
<text x="265.80" y="293.58" font-size="5.4" font-weight="bold" text-anchor="end" fill="#000" >200</text>
<line x1="266.20" y1="267.48" x2="268.20" y2="267.48" stroke="#000" stroke-width="0.9" />
<text x="265.80" y="269.42" font-size="5.4" font-weight="bold" text-anchor="end" fill="#000" >400</text>
<line x1="266.20" y1="243.32" x2="268.20" y2="243.32" stroke="#000" stroke-width="0.9" />
<text x="265.80" y="245.26" font-size="5.4" font-weight="bold" text-anchor="end" fill="#000" >600</text>
<line x1="267.70" y1="315.80" x2="354.00" y2="315.80" stroke="#000" stroke-width="1.1" />
<line x1="311.00" y1="315.80" x2="311.00" y2="317.80" stroke="#000" stroke-width="0.9" />
<rect x="277.30" y="273.28" width="14.40" height="42.52" fill="#000" stroke="#000" stroke-width="0.7" />
<line x1="284.50" y1="273.28" x2="284.50" y2="268.20" stroke="#000" stroke-width="1.0" />
<line x1="281.00" y1="268.20" x2="288.00" y2="268.20" stroke="#000" stroke-width="1.0" />
<rect x="295.20" y="297.68" width="14.40" height="18.12" fill="#b7a6bd" stroke="#666" stroke-width="0.7" />
<line x1="302.40" y1="297.68" x2="302.40" y2="295.51" stroke="#000" stroke-width="1.0" />
<line x1="298.90" y1="295.51" x2="305.90" y2="295.51" stroke="#000" stroke-width="1.0" />
<rect x="313.40" y="259.63" width="14.40" height="56.17" fill="#8a8a8a" stroke="#555" stroke-width="0.7" />
<line x1="320.60" y1="259.63" x2="320.60" y2="257.57" stroke="#000" stroke-width="1.0" />
<line x1="317.10" y1="257.57" x2="324.10" y2="257.57" stroke="#000" stroke-width="1.0" />
<rect x="331.00" y="288.26" width="14.40" height="27.54" fill="#e2e2e2" stroke="#777" stroke-width="0.7" />
<line x1="338.20" y1="288.26" x2="338.20" y2="285.00" stroke="#000" stroke-width="1.0" />
<line x1="334.70" y1="285.00" x2="341.70" y2="285.00" stroke="#000" stroke-width="1.0" />
<text x="311.00" y="323.88" font-size="5.5" font-weight="bold" text-anchor="middle" fill="#000" >SGC7901</text>
<text transform="translate(253.05,278.40) rotate(-90)" font-size="6.8" font-weight="bold" text-anchor="middle" fill="#000" >Number of colonies</text>
<line x1="285.60" y1="263.10" x2="301.60" y2="263.10" stroke="#707070" stroke-width="0.75" />
<circle cx="294.50" cy="257.80" r="0.93" fill="#000"/>
<line x1="283.30" y1="253.00" x2="322.30" y2="253.00" stroke="#707070" stroke-width="0.75" />
<circle cx="302.30" cy="248.60" r="0.93" fill="#000"/>
<line x1="300.10" y1="243.10" x2="339.10" y2="243.10" stroke="#707070" stroke-width="0.75" />
<circle cx="320.50" cy="238.30" r="0.93" fill="#000"/>
<rect x="341.30" y="246.10" width="6.20" height="3.40" fill="#000" stroke="#000" stroke-width="0.6" />
<text x="351.10" y="249.60" font-size="5.0" font-weight="bold" text-anchor="start" fill="#000" >Scrambled</text>
<rect x="341.30" y="251.60" width="6.20" height="3.40" fill="#c6c4c8" stroke="#555" stroke-width="0.6" />
<text x="351.10" y="255.10" font-size="5.0" font-weight="bold" text-anchor="start" fill="#000" >si-LINC01234 2#</text>
<rect x="341.30" y="257.00" width="6.20" height="3.40" fill="#8a8a8a" stroke="#555" stroke-width="0.6" />
<text x="351.10" y="260.50" font-size="5.0" font-weight="bold" text-anchor="start" fill="#000" >miR-204-5p-inhibitor</text>
<rect x="341.30" y="263.10" width="6.20" height="3.40" fill="#e8e8e8" stroke="#777" stroke-width="0.6" />
<text x="351.10" y="266.60" font-size="5.0" font-weight="bold" text-anchor="start" fill="#000" >2# + miR-204-5p-in</text>
</svg></body></html>
